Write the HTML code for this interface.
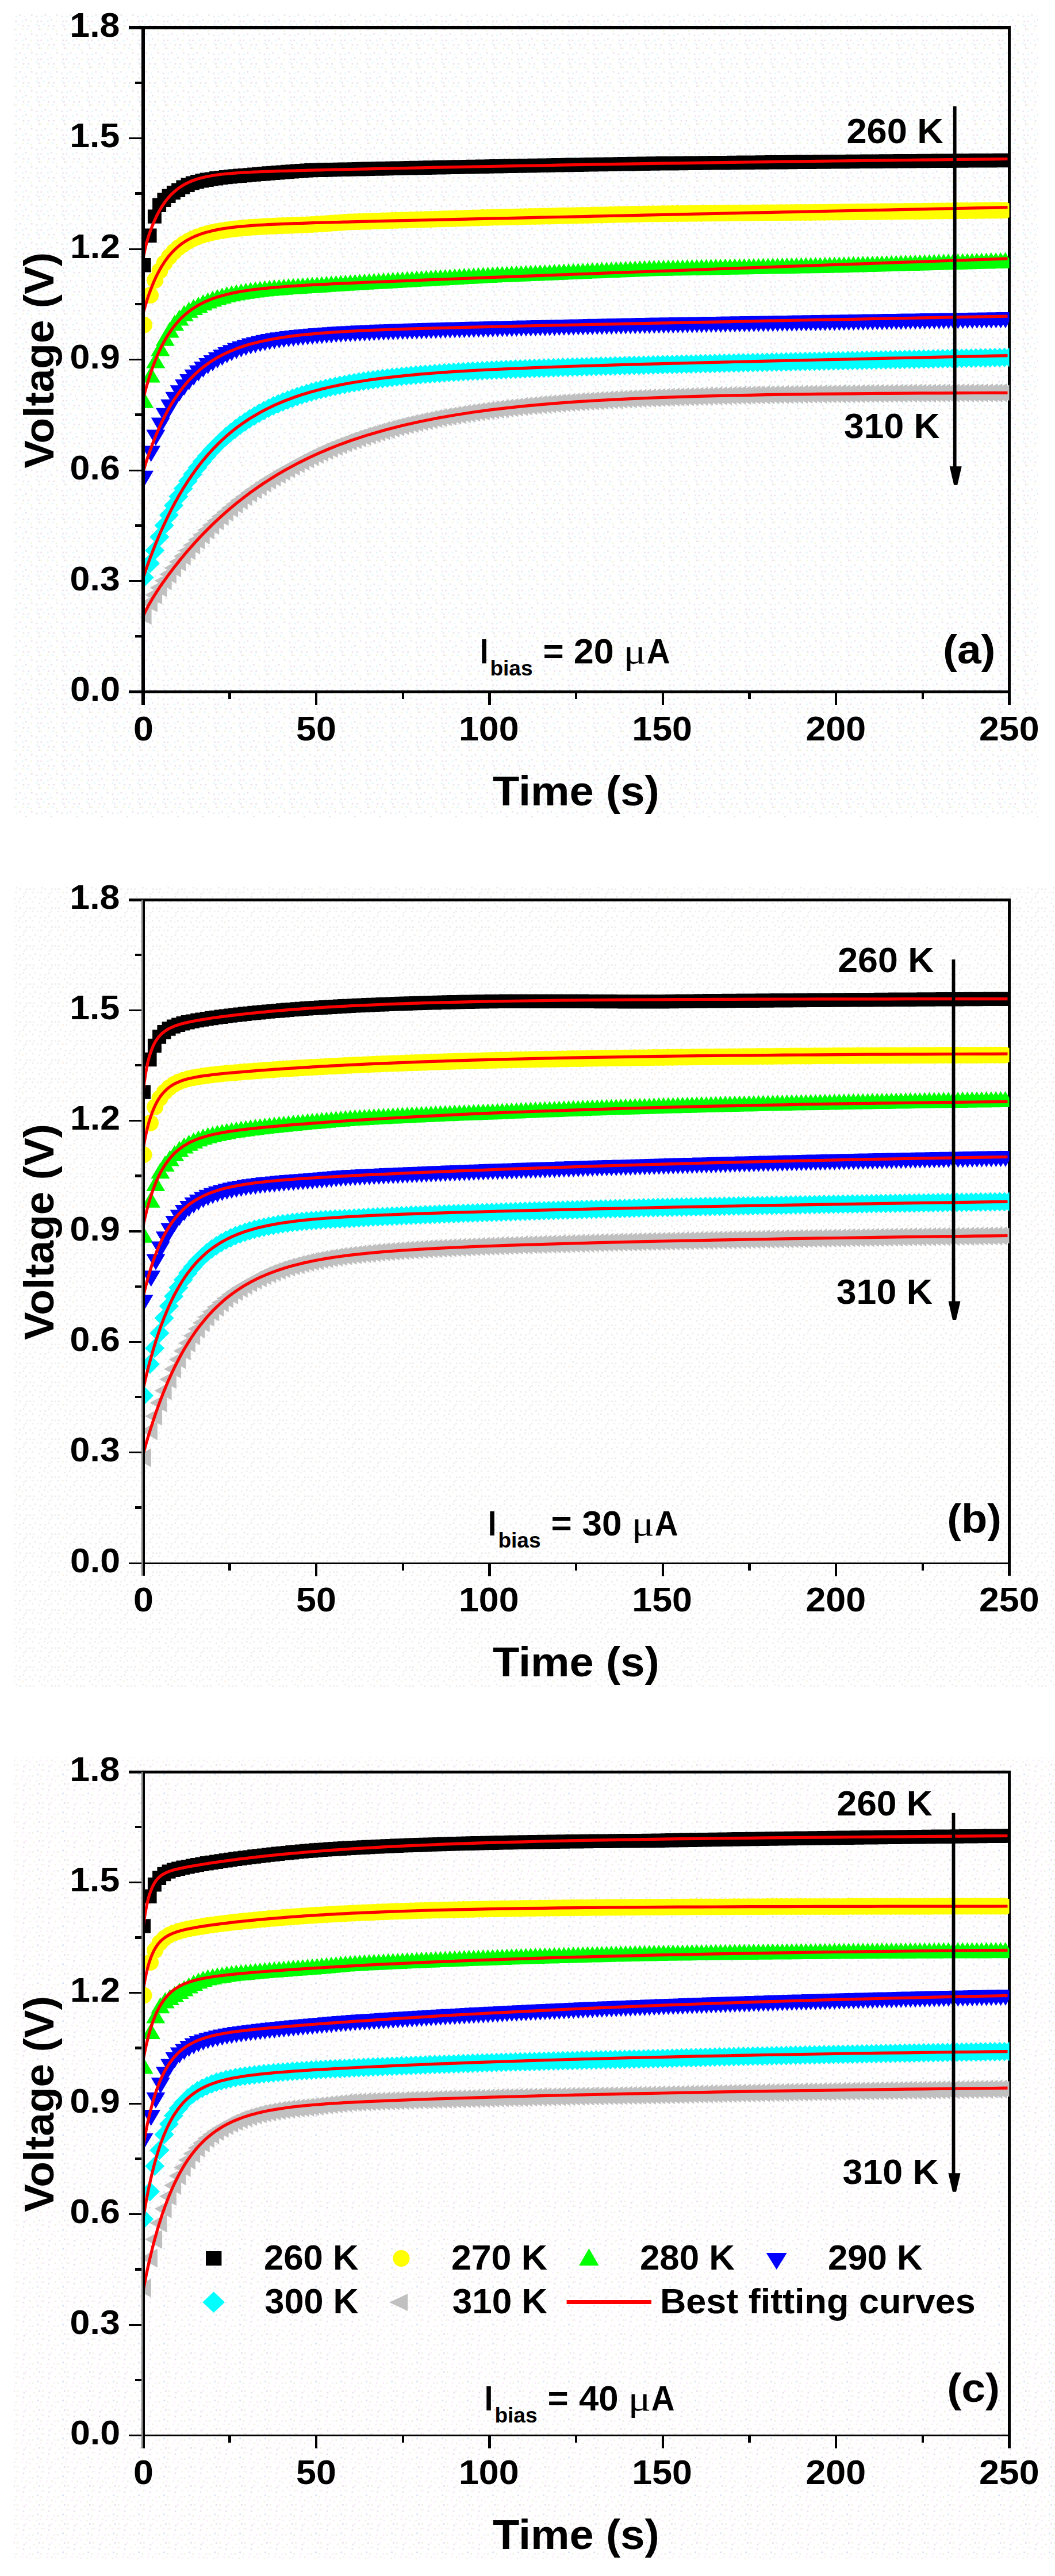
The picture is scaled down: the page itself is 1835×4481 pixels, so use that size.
<!DOCTYPE html>
<html lang="en"><head><meta charset="utf-8"><title>Voltage vs Time</title>
<style>html,body{margin:0;padding:0;background:#fff}svg{display:block}text{font-family:"Liberation Sans", Arial, Helvetica, sans-serif;font-weight:bold;fill:#000}</style></head><body>
<svg width="1835" height="4481" viewBox="0 0 1835 4481">
<defs>
<pattern id="dotsa" width="44" height="33" patternUnits="userSpaceOnUse"><rect x="0" y="0" width="2.7" height="2.7" fill="#ebe2ec"/><rect x="8.8" y="2.7" width="2.7" height="2.7" fill="#f1f8da"/><rect x="20.3" y="2.7" width="2.7" height="2.7" fill="#ebe2ec"/><rect x="26.4" y="2.7" width="2.7" height="2.7" fill="#ebe2ec"/><rect x="37.9" y="2.7" width="2.7" height="2.7" fill="#def6fa"/><rect x="4.4" y="10.9" width="2.7" height="2.7" fill="#ebe2ec"/><rect x="18.6" y="8.2" width="2.7" height="2.7" fill="#def6fa"/><rect x="22" y="10.9" width="2.7" height="2.7" fill="#ebe2ec"/><rect x="30.8" y="8.2" width="2.7" height="2.7" fill="#def6fa"/><rect x="39.6" y="10.9" width="2.7" height="2.7" fill="#ebe2ec"/><rect x="2.7" y="16.5" width="2.7" height="2.7" fill="#def6fa"/><rect x="8.8" y="19.2" width="2.7" height="2.7" fill="#f1f8da"/><rect x="23" y="16.5" width="2.7" height="2.7" fill="#ebe2ec"/><rect x="26.4" y="16.5" width="2.7" height="2.7" fill="#f1f8da"/><rect x="37.9" y="16.5" width="2.7" height="2.7" fill="#f1f8da"/><rect x="9.8" y="24.8" width="2.7" height="2.7" fill="#ebe2ec"/><rect x="18.6" y="27.4" width="2.7" height="2.7" fill="#ebe2ec"/><rect x="27.4" y="27.4" width="2.7" height="2.7" fill="#def6fa"/><rect x="33.5" y="24.8" width="2.7" height="2.7" fill="#ebe2ec"/><rect x="42.3" y="27.4" width="2.7" height="2.7" fill="#def6fa"/></pattern>
<pattern id="dotsb" width="44" height="33" patternUnits="userSpaceOnUse"><rect x="0" y="0" width="2.7" height="2.7" fill="#ececec"/><rect x="11.5" y="0" width="2.7" height="2.7" fill="#ececec"/><rect x="20.3" y="0" width="2.7" height="2.7" fill="#fbeee3"/><rect x="26.4" y="0" width="2.7" height="2.7" fill="#ececec"/><rect x="40.6" y="2.7" width="2.7" height="2.7" fill="#ececec"/><rect x="7.1" y="10.9" width="2.7" height="2.7" fill="#ececec"/><rect x="15.9" y="8.2" width="2.7" height="2.7" fill="#ececec"/><rect x="24.7" y="10.9" width="2.7" height="2.7" fill="#ececec"/><rect x="33.5" y="10.9" width="2.7" height="2.7" fill="#ececec"/><rect x="39.6" y="8.2" width="2.7" height="2.7" fill="#ececec"/><rect x="0" y="16.5" width="2.7" height="2.7" fill="#ececec"/><rect x="11.5" y="16.5" width="2.7" height="2.7" fill="#ececec"/><rect x="23" y="19.2" width="2.7" height="2.7" fill="#ececec"/><rect x="31.8" y="16.5" width="2.7" height="2.7" fill="#ececec"/><rect x="37.9" y="19.2" width="2.7" height="2.7" fill="#fbeee3"/><rect x="7.1" y="27.4" width="2.7" height="2.7" fill="#ececec"/><rect x="13.2" y="27.4" width="2.7" height="2.7" fill="#ececec"/><rect x="27.4" y="24.8" width="2.7" height="2.7" fill="#ececec"/><rect x="33.5" y="27.4" width="2.7" height="2.7" fill="#ececec"/><rect x="1" y="27.4" width="2.7" height="2.7" fill="#ececec"/></pattern>
<pattern id="dotsc" width="44" height="33" patternUnits="userSpaceOnUse"><rect x="0" y="0" width="2.7" height="2.7" fill="#fbecfa"/><rect x="14.2" y="2.7" width="2.7" height="2.7" fill="#f0f0e5"/><rect x="23" y="0" width="2.7" height="2.7" fill="#e8dfec"/><rect x="29.1" y="0" width="2.7" height="2.7" fill="#f0f0e5"/><rect x="40.6" y="2.7" width="2.7" height="2.7" fill="#e8dfec"/><rect x="7.1" y="8.2" width="2.7" height="2.7" fill="#f0f0e5"/><rect x="18.6" y="8.2" width="2.7" height="2.7" fill="#fbecfa"/><rect x="27.4" y="8.2" width="2.7" height="2.7" fill="#f0f0e5"/><rect x="30.8" y="8.2" width="2.7" height="2.7" fill="#fbecfa"/><rect x="39.6" y="10.9" width="2.7" height="2.7" fill="#e8dfec"/><rect x="5.4" y="19.2" width="2.7" height="2.7" fill="#fbecfa"/><rect x="11.5" y="19.2" width="2.7" height="2.7" fill="#f0f0e5"/><rect x="20.3" y="16.5" width="2.7" height="2.7" fill="#d6e0f5"/><rect x="26.4" y="19.2" width="2.7" height="2.7" fill="#f0f0e5"/><rect x="37.9" y="19.2" width="2.7" height="2.7" fill="#fbecfa"/><rect x="7.1" y="27.4" width="2.7" height="2.7" fill="#fbecfa"/><rect x="18.6" y="27.4" width="2.7" height="2.7" fill="#f0f0e5"/><rect x="24.7" y="24.8" width="2.7" height="2.7" fill="#fbecfa"/><rect x="36.2" y="24.8" width="2.7" height="2.7" fill="#fbecfa"/><rect x="1" y="24.8" width="2.7" height="2.7" fill="#f0f0e5"/></pattern>
<clipPath id="clipa"><rect x="248.8" y="48" width="1506.7" height="1155.5"/></clipPath>
<clipPath id="clipb"><rect x="248.8" y="1565" width="1506.7" height="1154"/></clipPath>
<clipPath id="clipc"><rect x="248.8" y="3082" width="1506.7" height="1154.5"/></clipPath>
</defs>
<rect width="1835" height="4481" fill="#ffffff"/>
<rect x="24" y="24" width="1781" height="1398" fill="url(#dotsa)"/>
<rect x="24" y="1539" width="1811" height="1398" fill="url(#dotsb)"/>
<rect x="24" y="3057" width="1811" height="1394" fill="url(#dotsc)"/>
<g id="panel-a">
<g stroke="#000" fill="none" shape-rendering="crispEdges">
<path stroke-width="6" d="M223.8 48H1757.7"/>
<path stroke-width="4.5" d="M223.8 1203.5H1757.7"/>
<path stroke-width="5.4" d="M248.8 48V1225.5"/>
<path stroke-width="4.4" d="M1755.5 48V1225.5"/>
<path stroke-width="3.1" d="M223.8 1010.9H247M223.8 818.3H247M223.8 625.8H247M223.8 433.2H247M223.8 240.6H247"/>
<path stroke-width="4.6" d="M235 1106.8H247M235 914.2H247M235 721.6H247M235 529.1H247M235 336.5H247M235 143.9H247"/>
<path stroke-width="4.3" d="M399.5 1203.5V1216M550.1 1203.5V1226M700.8 1203.5V1216M851.5 1203.5V1226M1002.2 1203.5V1216M1152.8 1203.5V1226M1303.5 1203.5V1216M1454.2 1203.5V1226M1604.8 1203.5V1216"/>
</g>
<g clip-path="url(#clipa)">
<path fill="#000000" d="M238.6 449h24v24.4h-24zM248.6 397.5h24v24.4h-24zM256.9 364.4h24v24.4h-24zM265.1 344.6h24v24.4h-24zM273.4 335.5h24v24.4h-24zM281.6 328.7h24v24.4h-24zM289.9 322.9h24v24.4h-24zM298.2 318.6h24v24.4h-24zM306.4 313.5h24v24.4h-24zM314.7 309.5h24v24.4h-24zM322.9 306.4h24v24.4h-24zM331.2 304h24v24.4h-24zM339.4 302.1h24v24.4h-24zM347.7 300.6h24v24.4h-24zM355.9 299.4h24v24.4h-24zM364.2 298.1h24v24.4h-24zM372.5 296.9h24v24.4h-24zM380.7 295.9h24v24.4h-24zM389 295h24v24.4h-24zM397.2 294.2h24v24.4h-24zM405.5 293.5h24v24.4h-24zM413.7 292.9h24v24.4h-24zM422 292.2h24v24.4h-24zM430.3 291.4h24v24.4h-24zM438.5 290.7h24v24.4h-24zM446.8 290h24v24.4h-24zM455 289.3h24v24.4h-24zM463.3 288.7h24v24.4h-24zM471.5 288h24v24.4h-24zM479.8 287.4h24v24.4h-24zM488.1 286.8h24v24.4h-24zM496.3 286.2h24v24.4h-24zM504.6 285.6h24v24.4h-24zM512.8 285h24v24.4h-24zM521.1 284.4h24v24.4h-24zM529.3 283.9h24v24.4h-24zM537.6 283.7h24v24.4h-24zM545.9 283.5h24v24.4h-24zM554.1 283.3h24v24.4h-24zM562.4 283.1h24v24.4h-24zM570.6 282.9h24v24.4h-24zM578.9 282.7h24v24.4h-24zM587.1 282.6h24v24.4h-24zM595.4 282.4h24v24.4h-24zM603.7 282.2h24v24.4h-24zM611.9 282h24v24.4h-24zM620.2 281.8h24v24.4h-24zM628.4 281.6h24v24.4h-24zM636.7 281.4h24v24.4h-24zM644.9 281.3h24v24.4h-24zM653.2 281.1h24v24.4h-24zM661.4 280.9h24v24.4h-24zM669.7 280.7h24v24.4h-24zM678 280.5h24v24.4h-24zM686.2 280.4h24v24.4h-24zM694.5 280.2h24v24.4h-24zM702.7 280h24v24.4h-24zM711 279.8h24v24.4h-24zM719.2 279.7h24v24.4h-24zM727.5 279.5h24v24.4h-24zM735.8 279.3h24v24.4h-24zM744 279.2h24v24.4h-24zM752.3 279h24v24.4h-24zM760.5 278.8h24v24.4h-24zM768.8 278.7h24v24.4h-24zM777 278.5h24v24.4h-24zM785.3 278.3h24v24.4h-24zM793.6 278.2h24v24.4h-24zM801.8 278h24v24.4h-24zM810.1 277.8h24v24.4h-24zM818.3 277.7h24v24.4h-24zM826.6 277.5h24v24.4h-24zM834.8 277.4h24v24.4h-24zM843.1 277.2h24v24.4h-24zM851.4 277h24v24.4h-24zM859.6 276.9h24v24.4h-24zM867.9 276.7h24v24.4h-24zM876.1 276.6h24v24.4h-24zM884.4 276.4h24v24.4h-24zM892.6 276.3h24v24.4h-24zM900.9 276.1h24v24.4h-24zM909.1 276h24v24.4h-24zM917.4 275.8h24v24.4h-24zM925.7 275.7h24v24.4h-24zM933.9 275.5h24v24.4h-24zM942.2 275.4h24v24.4h-24zM950.4 275.2h24v24.4h-24zM958.7 275.1h24v24.4h-24zM966.9 274.9h24v24.4h-24zM975.2 274.8h24v24.4h-24zM983.5 274.6h24v24.4h-24zM991.7 274.5h24v24.4h-24zM1000 274.4h24v24.4h-24zM1008.2 274.2h24v24.4h-24zM1016.5 274.1h24v24.4h-24zM1024.7 273.9h24v24.4h-24zM1033 273.8h24v24.4h-24zM1041.3 273.7h24v24.4h-24zM1049.5 273.5h24v24.4h-24zM1057.8 273.4h24v24.4h-24zM1066 273.2h24v24.4h-24zM1074.3 273.1h24v24.4h-24zM1082.5 273h24v24.4h-24zM1090.8 272.8h24v24.4h-24zM1099.1 272.7h24v24.4h-24zM1107.3 272.6h24v24.4h-24zM1115.6 272.4h24v24.4h-24zM1123.8 272.3h24v24.4h-24zM1132.1 272.2h24v24.4h-24zM1140.3 272.1h24v24.4h-24zM1148.6 272.1h24v24.4h-24zM1156.9 272h24v24.4h-24zM1165.1 271.9h24v24.4h-24zM1173.4 271.8h24v24.4h-24zM1181.6 271.7h24v24.4h-24zM1189.9 271.6h24v24.4h-24zM1198.1 271.5h24v24.4h-24zM1206.4 271.4h24v24.4h-24zM1214.6 271.3h24v24.4h-24zM1222.9 271.2h24v24.4h-24zM1231.2 271.1h24v24.4h-24zM1239.4 271h24v24.4h-24zM1247.7 271h24v24.4h-24zM1255.9 270.9h24v24.4h-24zM1264.2 270.8h24v24.4h-24zM1272.4 270.7h24v24.4h-24zM1280.7 270.6h24v24.4h-24zM1289 270.5h24v24.4h-24zM1297.2 270.4h24v24.4h-24zM1305.5 270.4h24v24.4h-24zM1313.7 270.3h24v24.4h-24zM1322 270.2h24v24.4h-24zM1330.2 270.1h24v24.4h-24zM1338.5 270h24v24.4h-24zM1346.8 270h24v24.4h-24zM1355 269.9h24v24.4h-24zM1363.3 269.8h24v24.4h-24zM1371.5 269.7h24v24.4h-24zM1379.8 269.6h24v24.4h-24zM1388 269.6h24v24.4h-24zM1396.3 269.5h24v24.4h-24zM1404.6 269.4h24v24.4h-24zM1412.8 269.3h24v24.4h-24zM1421.1 269.3h24v24.4h-24zM1429.3 269.2h24v24.4h-24zM1437.6 269.1h24v24.4h-24zM1445.8 269h24v24.4h-24zM1454.1 269h24v24.4h-24zM1462.3 268.9h24v24.4h-24zM1470.6 268.8h24v24.4h-24zM1478.9 268.7h24v24.4h-24zM1487.1 268.7h24v24.4h-24zM1495.4 268.6h24v24.4h-24zM1503.6 268.5h24v24.4h-24zM1511.9 268.5h24v24.4h-24zM1520.1 268.4h24v24.4h-24zM1528.4 268.3h24v24.4h-24zM1536.7 268.3h24v24.4h-24zM1544.9 268.2h24v24.4h-24zM1553.2 268.1h24v24.4h-24zM1561.4 268.1h24v24.4h-24zM1569.7 268h24v24.4h-24zM1577.9 267.9h24v24.4h-24zM1586.2 267.9h24v24.4h-24zM1594.5 267.8h24v24.4h-24zM1602.7 267.7h24v24.4h-24zM1611 267.7h24v24.4h-24zM1619.2 267.6h24v24.4h-24zM1627.5 267.6h24v24.4h-24zM1635.7 267.5h24v24.4h-24zM1644 267.4h24v24.4h-24zM1652.3 267.4h24v24.4h-24zM1660.5 267.3h24v24.4h-24zM1668.8 267.2h24v24.4h-24zM1677 267.2h24v24.4h-24zM1685.3 267.1h24v24.4h-24zM1693.5 267.1h24v24.4h-24zM1701.8 267h24v24.4h-24zM1710.1 267h24v24.4h-24zM1718.3 266.9h24v24.4h-24zM1726.6 266.8h24v24.4h-24zM1734.8 266.8h24v24.4h-24zM1743.1 266.7h24v24.4h-24z"/>
<path fill="#ffff00" d="M236.1 565.2a14.5 14.5 0 1 0 29 0a14.5 14.5 0 1 0 -29 0zM247 513.5a14.5 14.5 0 1 0 29 0a14.5 14.5 0 1 0 -29 0zM255.2 487.5a14.5 14.5 0 1 0 29 0a14.5 14.5 0 1 0 -29 0zM263.5 471a14.5 14.5 0 1 0 29 0a14.5 14.5 0 1 0 -29 0zM271.7 457.6a14.5 14.5 0 1 0 29 0a14.5 14.5 0 1 0 -29 0zM280 446.7a14.5 14.5 0 1 0 29 0a14.5 14.5 0 1 0 -29 0zM288.2 437.8a14.5 14.5 0 1 0 29 0a14.5 14.5 0 1 0 -29 0zM296.5 430.4a14.5 14.5 0 1 0 29 0a14.5 14.5 0 1 0 -29 0zM304.8 424.4a14.5 14.5 0 1 0 29 0a14.5 14.5 0 1 0 -29 0zM313 419.4a14.5 14.5 0 1 0 29 0a14.5 14.5 0 1 0 -29 0zM321.3 415.2a14.5 14.5 0 1 0 29 0a14.5 14.5 0 1 0 -29 0zM329.5 411.8a14.5 14.5 0 1 0 29 0a14.5 14.5 0 1 0 -29 0zM337.8 408.9a14.5 14.5 0 1 0 29 0a14.5 14.5 0 1 0 -29 0zM346 406.5a14.5 14.5 0 1 0 29 0a14.5 14.5 0 1 0 -29 0zM354.3 404.5a14.5 14.5 0 1 0 29 0a14.5 14.5 0 1 0 -29 0zM362.6 402.8a14.5 14.5 0 1 0 29 0a14.5 14.5 0 1 0 -29 0zM370.8 401.2a14.5 14.5 0 1 0 29 0a14.5 14.5 0 1 0 -29 0zM379.1 400a14.5 14.5 0 1 0 29 0a14.5 14.5 0 1 0 -29 0zM387.3 398.8a14.5 14.5 0 1 0 29 0a14.5 14.5 0 1 0 -29 0zM395.6 397.9a14.5 14.5 0 1 0 29 0a14.5 14.5 0 1 0 -29 0zM403.8 397a14.5 14.5 0 1 0 29 0a14.5 14.5 0 1 0 -29 0zM412.1 396.3a14.5 14.5 0 1 0 29 0a14.5 14.5 0 1 0 -29 0zM420.3 395.6a14.5 14.5 0 1 0 29 0a14.5 14.5 0 1 0 -29 0zM428.6 395a14.5 14.5 0 1 0 29 0a14.5 14.5 0 1 0 -29 0zM436.9 394.5a14.5 14.5 0 1 0 29 0a14.5 14.5 0 1 0 -29 0zM445.1 394a14.5 14.5 0 1 0 29 0a14.5 14.5 0 1 0 -29 0zM453.4 393.6a14.5 14.5 0 1 0 29 0a14.5 14.5 0 1 0 -29 0zM461.6 393.2a14.5 14.5 0 1 0 29 0a14.5 14.5 0 1 0 -29 0zM469.9 392.8a14.5 14.5 0 1 0 29 0a14.5 14.5 0 1 0 -29 0zM478.1 392.5a14.5 14.5 0 1 0 29 0a14.5 14.5 0 1 0 -29 0zM486.4 392.2a14.5 14.5 0 1 0 29 0a14.5 14.5 0 1 0 -29 0zM494.7 391.9a14.5 14.5 0 1 0 29 0a14.5 14.5 0 1 0 -29 0zM502.9 391.6a14.5 14.5 0 1 0 29 0a14.5 14.5 0 1 0 -29 0zM511.2 391.3a14.5 14.5 0 1 0 29 0a14.5 14.5 0 1 0 -29 0zM519.4 391a14.5 14.5 0 1 0 29 0a14.5 14.5 0 1 0 -29 0zM527.7 390.6a14.5 14.5 0 1 0 29 0a14.5 14.5 0 1 0 -29 0zM535.9 390a14.5 14.5 0 1 0 29 0a14.5 14.5 0 1 0 -29 0zM544.2 389.4a14.5 14.5 0 1 0 29 0a14.5 14.5 0 1 0 -29 0zM552.5 388.9a14.5 14.5 0 1 0 29 0a14.5 14.5 0 1 0 -29 0zM560.7 388.3a14.5 14.5 0 1 0 29 0a14.5 14.5 0 1 0 -29 0zM569 387.7a14.5 14.5 0 1 0 29 0a14.5 14.5 0 1 0 -29 0zM577.2 387.2a14.5 14.5 0 1 0 29 0a14.5 14.5 0 1 0 -29 0zM585.5 386.6a14.5 14.5 0 1 0 29 0a14.5 14.5 0 1 0 -29 0zM593.7 386.1a14.5 14.5 0 1 0 29 0a14.5 14.5 0 1 0 -29 0zM602 385.7a14.5 14.5 0 1 0 29 0a14.5 14.5 0 1 0 -29 0zM610.3 385.4a14.5 14.5 0 1 0 29 0a14.5 14.5 0 1 0 -29 0zM618.5 385.2a14.5 14.5 0 1 0 29 0a14.5 14.5 0 1 0 -29 0zM626.8 384.9a14.5 14.5 0 1 0 29 0a14.5 14.5 0 1 0 -29 0zM635 384.6a14.5 14.5 0 1 0 29 0a14.5 14.5 0 1 0 -29 0zM643.3 384.4a14.5 14.5 0 1 0 29 0a14.5 14.5 0 1 0 -29 0zM651.5 384.1a14.5 14.5 0 1 0 29 0a14.5 14.5 0 1 0 -29 0zM659.8 383.8a14.5 14.5 0 1 0 29 0a14.5 14.5 0 1 0 -29 0zM668 383.6a14.5 14.5 0 1 0 29 0a14.5 14.5 0 1 0 -29 0zM676.3 383.3a14.5 14.5 0 1 0 29 0a14.5 14.5 0 1 0 -29 0zM684.6 383a14.5 14.5 0 1 0 29 0a14.5 14.5 0 1 0 -29 0zM692.8 382.8a14.5 14.5 0 1 0 29 0a14.5 14.5 0 1 0 -29 0zM701.1 382.5a14.5 14.5 0 1 0 29 0a14.5 14.5 0 1 0 -29 0zM709.3 382.2a14.5 14.5 0 1 0 29 0a14.5 14.5 0 1 0 -29 0zM717.6 382a14.5 14.5 0 1 0 29 0a14.5 14.5 0 1 0 -29 0zM725.8 381.7a14.5 14.5 0 1 0 29 0a14.5 14.5 0 1 0 -29 0zM734.1 381.5a14.5 14.5 0 1 0 29 0a14.5 14.5 0 1 0 -29 0zM742.4 381.2a14.5 14.5 0 1 0 29 0a14.5 14.5 0 1 0 -29 0zM750.6 380.9a14.5 14.5 0 1 0 29 0a14.5 14.5 0 1 0 -29 0zM758.9 380.7a14.5 14.5 0 1 0 29 0a14.5 14.5 0 1 0 -29 0zM767.1 380.4a14.5 14.5 0 1 0 29 0a14.5 14.5 0 1 0 -29 0zM775.4 380.2a14.5 14.5 0 1 0 29 0a14.5 14.5 0 1 0 -29 0zM783.6 379.9a14.5 14.5 0 1 0 29 0a14.5 14.5 0 1 0 -29 0zM791.9 379.7a14.5 14.5 0 1 0 29 0a14.5 14.5 0 1 0 -29 0zM800.2 379.4a14.5 14.5 0 1 0 29 0a14.5 14.5 0 1 0 -29 0zM808.4 379.1a14.5 14.5 0 1 0 29 0a14.5 14.5 0 1 0 -29 0zM816.7 378.9a14.5 14.5 0 1 0 29 0a14.5 14.5 0 1 0 -29 0zM824.9 378.6a14.5 14.5 0 1 0 29 0a14.5 14.5 0 1 0 -29 0zM833.2 378.4a14.5 14.5 0 1 0 29 0a14.5 14.5 0 1 0 -29 0zM841.4 378.1a14.5 14.5 0 1 0 29 0a14.5 14.5 0 1 0 -29 0zM849.7 378a14.5 14.5 0 1 0 29 0a14.5 14.5 0 1 0 -29 0zM858 377.8a14.5 14.5 0 1 0 29 0a14.5 14.5 0 1 0 -29 0zM866.2 377.6a14.5 14.5 0 1 0 29 0a14.5 14.5 0 1 0 -29 0zM874.5 377.4a14.5 14.5 0 1 0 29 0a14.5 14.5 0 1 0 -29 0zM882.7 377.2a14.5 14.5 0 1 0 29 0a14.5 14.5 0 1 0 -29 0zM891 377a14.5 14.5 0 1 0 29 0a14.5 14.5 0 1 0 -29 0zM899.2 376.8a14.5 14.5 0 1 0 29 0a14.5 14.5 0 1 0 -29 0zM907.5 376.6a14.5 14.5 0 1 0 29 0a14.5 14.5 0 1 0 -29 0zM915.8 376.5a14.5 14.5 0 1 0 29 0a14.5 14.5 0 1 0 -29 0zM924 376.3a14.5 14.5 0 1 0 29 0a14.5 14.5 0 1 0 -29 0zM932.3 376.1a14.5 14.5 0 1 0 29 0a14.5 14.5 0 1 0 -29 0zM940.5 375.9a14.5 14.5 0 1 0 29 0a14.5 14.5 0 1 0 -29 0zM948.8 375.7a14.5 14.5 0 1 0 29 0a14.5 14.5 0 1 0 -29 0zM957 375.5a14.5 14.5 0 1 0 29 0a14.5 14.5 0 1 0 -29 0zM965.3 375.3a14.5 14.5 0 1 0 29 0a14.5 14.5 0 1 0 -29 0zM973.5 375.2a14.5 14.5 0 1 0 29 0a14.5 14.5 0 1 0 -29 0zM981.8 375a14.5 14.5 0 1 0 29 0a14.5 14.5 0 1 0 -29 0zM990.1 374.8a14.5 14.5 0 1 0 29 0a14.5 14.5 0 1 0 -29 0zM998.3 374.6a14.5 14.5 0 1 0 29 0a14.5 14.5 0 1 0 -29 0zM1006.6 374.4a14.5 14.5 0 1 0 29 0a14.5 14.5 0 1 0 -29 0zM1014.8 374.2a14.5 14.5 0 1 0 29 0a14.5 14.5 0 1 0 -29 0zM1023.1 374.1a14.5 14.5 0 1 0 29 0a14.5 14.5 0 1 0 -29 0zM1031.3 373.9a14.5 14.5 0 1 0 29 0a14.5 14.5 0 1 0 -29 0zM1039.6 373.7a14.5 14.5 0 1 0 29 0a14.5 14.5 0 1 0 -29 0zM1047.9 373.5a14.5 14.5 0 1 0 29 0a14.5 14.5 0 1 0 -29 0zM1056.1 373.3a14.5 14.5 0 1 0 29 0a14.5 14.5 0 1 0 -29 0zM1064.4 373.1a14.5 14.5 0 1 0 29 0a14.5 14.5 0 1 0 -29 0zM1072.6 373a14.5 14.5 0 1 0 29 0a14.5 14.5 0 1 0 -29 0zM1080.9 372.8a14.5 14.5 0 1 0 29 0a14.5 14.5 0 1 0 -29 0zM1089.1 372.6a14.5 14.5 0 1 0 29 0a14.5 14.5 0 1 0 -29 0zM1097.4 372.4a14.5 14.5 0 1 0 29 0a14.5 14.5 0 1 0 -29 0zM1105.7 372.2a14.5 14.5 0 1 0 29 0a14.5 14.5 0 1 0 -29 0zM1113.9 372a14.5 14.5 0 1 0 29 0a14.5 14.5 0 1 0 -29 0zM1122.2 372a14.5 14.5 0 1 0 29 0a14.5 14.5 0 1 0 -29 0zM1130.4 371.9a14.5 14.5 0 1 0 29 0a14.5 14.5 0 1 0 -29 0zM1138.7 371.8a14.5 14.5 0 1 0 29 0a14.5 14.5 0 1 0 -29 0zM1146.9 371.7a14.5 14.5 0 1 0 29 0a14.5 14.5 0 1 0 -29 0zM1155.2 371.6a14.5 14.5 0 1 0 29 0a14.5 14.5 0 1 0 -29 0zM1163.5 371.6a14.5 14.5 0 1 0 29 0a14.5 14.5 0 1 0 -29 0zM1171.7 371.5a14.5 14.5 0 1 0 29 0a14.5 14.5 0 1 0 -29 0zM1180 371.4a14.5 14.5 0 1 0 29 0a14.5 14.5 0 1 0 -29 0zM1188.2 371.3a14.5 14.5 0 1 0 29 0a14.5 14.5 0 1 0 -29 0zM1196.5 371.2a14.5 14.5 0 1 0 29 0a14.5 14.5 0 1 0 -29 0zM1204.7 371.2a14.5 14.5 0 1 0 29 0a14.5 14.5 0 1 0 -29 0zM1213 371.1a14.5 14.5 0 1 0 29 0a14.5 14.5 0 1 0 -29 0zM1221.2 371a14.5 14.5 0 1 0 29 0a14.5 14.5 0 1 0 -29 0zM1229.5 370.9a14.5 14.5 0 1 0 29 0a14.5 14.5 0 1 0 -29 0zM1237.8 370.8a14.5 14.5 0 1 0 29 0a14.5 14.5 0 1 0 -29 0zM1246 370.8a14.5 14.5 0 1 0 29 0a14.5 14.5 0 1 0 -29 0zM1254.3 370.7a14.5 14.5 0 1 0 29 0a14.5 14.5 0 1 0 -29 0zM1262.5 370.6a14.5 14.5 0 1 0 29 0a14.5 14.5 0 1 0 -29 0zM1270.8 370.5a14.5 14.5 0 1 0 29 0a14.5 14.5 0 1 0 -29 0zM1279 370.5a14.5 14.5 0 1 0 29 0a14.5 14.5 0 1 0 -29 0zM1287.3 370.4a14.5 14.5 0 1 0 29 0a14.5 14.5 0 1 0 -29 0zM1295.6 370.3a14.5 14.5 0 1 0 29 0a14.5 14.5 0 1 0 -29 0zM1303.8 370.2a14.5 14.5 0 1 0 29 0a14.5 14.5 0 1 0 -29 0zM1312.1 370.1a14.5 14.5 0 1 0 29 0a14.5 14.5 0 1 0 -29 0zM1320.3 370.1a14.5 14.5 0 1 0 29 0a14.5 14.5 0 1 0 -29 0zM1328.6 370a14.5 14.5 0 1 0 29 0a14.5 14.5 0 1 0 -29 0zM1336.8 369.9a14.5 14.5 0 1 0 29 0a14.5 14.5 0 1 0 -29 0zM1345.1 369.8a14.5 14.5 0 1 0 29 0a14.5 14.5 0 1 0 -29 0zM1353.4 369.8a14.5 14.5 0 1 0 29 0a14.5 14.5 0 1 0 -29 0zM1361.6 369.7a14.5 14.5 0 1 0 29 0a14.5 14.5 0 1 0 -29 0zM1369.9 369.6a14.5 14.5 0 1 0 29 0a14.5 14.5 0 1 0 -29 0zM1378.1 369.5a14.5 14.5 0 1 0 29 0a14.5 14.5 0 1 0 -29 0zM1386.4 369.5a14.5 14.5 0 1 0 29 0a14.5 14.5 0 1 0 -29 0zM1394.6 369.4a14.5 14.5 0 1 0 29 0a14.5 14.5 0 1 0 -29 0zM1402.9 369.3a14.5 14.5 0 1 0 29 0a14.5 14.5 0 1 0 -29 0zM1411.2 369.2a14.5 14.5 0 1 0 29 0a14.5 14.5 0 1 0 -29 0zM1419.4 369.2a14.5 14.5 0 1 0 29 0a14.5 14.5 0 1 0 -29 0zM1427.7 369.1a14.5 14.5 0 1 0 29 0a14.5 14.5 0 1 0 -29 0zM1435.9 369a14.5 14.5 0 1 0 29 0a14.5 14.5 0 1 0 -29 0zM1444.2 368.9a14.5 14.5 0 1 0 29 0a14.5 14.5 0 1 0 -29 0zM1452.4 368.8a14.5 14.5 0 1 0 29 0a14.5 14.5 0 1 0 -29 0zM1460.7 368.7a14.5 14.5 0 1 0 29 0a14.5 14.5 0 1 0 -29 0zM1469 368.7a14.5 14.5 0 1 0 29 0a14.5 14.5 0 1 0 -29 0zM1477.2 368.6a14.5 14.5 0 1 0 29 0a14.5 14.5 0 1 0 -29 0zM1485.5 368.5a14.5 14.5 0 1 0 29 0a14.5 14.5 0 1 0 -29 0zM1493.7 368.4a14.5 14.5 0 1 0 29 0a14.5 14.5 0 1 0 -29 0zM1502 368.3a14.5 14.5 0 1 0 29 0a14.5 14.5 0 1 0 -29 0zM1510.2 368.2a14.5 14.5 0 1 0 29 0a14.5 14.5 0 1 0 -29 0zM1518.5 368.1a14.5 14.5 0 1 0 29 0a14.5 14.5 0 1 0 -29 0zM1526.7 368a14.5 14.5 0 1 0 29 0a14.5 14.5 0 1 0 -29 0zM1535 367.9a14.5 14.5 0 1 0 29 0a14.5 14.5 0 1 0 -29 0zM1543.3 367.8a14.5 14.5 0 1 0 29 0a14.5 14.5 0 1 0 -29 0zM1551.5 367.7a14.5 14.5 0 1 0 29 0a14.5 14.5 0 1 0 -29 0zM1559.8 367.6a14.5 14.5 0 1 0 29 0a14.5 14.5 0 1 0 -29 0zM1568 367.5a14.5 14.5 0 1 0 29 0a14.5 14.5 0 1 0 -29 0zM1576.3 367.5a14.5 14.5 0 1 0 29 0a14.5 14.5 0 1 0 -29 0zM1584.5 367.4a14.5 14.5 0 1 0 29 0a14.5 14.5 0 1 0 -29 0zM1592.8 367.3a14.5 14.5 0 1 0 29 0a14.5 14.5 0 1 0 -29 0zM1601.1 367.2a14.5 14.5 0 1 0 29 0a14.5 14.5 0 1 0 -29 0zM1609.3 367.1a14.5 14.5 0 1 0 29 0a14.5 14.5 0 1 0 -29 0zM1617.6 367a14.5 14.5 0 1 0 29 0a14.5 14.5 0 1 0 -29 0zM1625.8 366.9a14.5 14.5 0 1 0 29 0a14.5 14.5 0 1 0 -29 0zM1634.1 366.8a14.5 14.5 0 1 0 29 0a14.5 14.5 0 1 0 -29 0zM1642.3 366.7a14.5 14.5 0 1 0 29 0a14.5 14.5 0 1 0 -29 0zM1650.6 366.6a14.5 14.5 0 1 0 29 0a14.5 14.5 0 1 0 -29 0zM1658.9 366.6a14.5 14.5 0 1 0 29 0a14.5 14.5 0 1 0 -29 0zM1667.1 366.5a14.5 14.5 0 1 0 29 0a14.5 14.5 0 1 0 -29 0zM1675.4 366.4a14.5 14.5 0 1 0 29 0a14.5 14.5 0 1 0 -29 0zM1683.6 366.3a14.5 14.5 0 1 0 29 0a14.5 14.5 0 1 0 -29 0zM1691.9 366.2a14.5 14.5 0 1 0 29 0a14.5 14.5 0 1 0 -29 0zM1700.1 366.1a14.5 14.5 0 1 0 29 0a14.5 14.5 0 1 0 -29 0zM1708.4 366a14.5 14.5 0 1 0 29 0a14.5 14.5 0 1 0 -29 0zM1716.7 365.9a14.5 14.5 0 1 0 29 0a14.5 14.5 0 1 0 -29 0zM1724.9 365.8a14.5 14.5 0 1 0 29 0a14.5 14.5 0 1 0 -29 0zM1733.2 365.8a14.5 14.5 0 1 0 29 0a14.5 14.5 0 1 0 -29 0z"/>
<path fill="#00ff00" d="M250.6 681.8l16.5 28h-33zM262.4 637.6l16.5 28h-33zM270.7 612.5l16.5 28h-33zM278.9 591.4l16.5 28h-33zM287.2 573.7l16.5 28h-33zM295.4 559.5l16.5 28h-33zM303.7 547.5l16.5 28h-33zM312 538.4l16.5 28h-33zM320.2 530.8l16.5 28h-33zM328.5 524.8l16.5 28h-33zM336.7 520l16.5 28h-33zM345 515.9l16.5 28h-33zM353.2 511.9l16.5 28h-33zM361.5 508.5l16.5 28h-33zM369.8 505.6l16.5 28h-33zM378 502.7l16.5 28h-33zM386.3 500.3l16.5 28h-33zM394.5 498.1l16.5 28h-33zM402.8 496.2l16.5 28h-33zM411 494.5l16.5 28h-33zM419.3 493l16.5 28h-33zM427.6 491.7l16.5 28h-33zM435.8 490.5l16.5 28h-33zM444.1 489.4l16.5 28h-33zM452.3 488.5l16.5 28h-33zM460.6 487.6l16.5 28h-33zM468.8 486.8l16.5 28h-33zM477.1 486l16.5 28h-33zM485.4 485.4l16.5 28h-33zM493.6 484.7l16.5 28h-33zM501.9 484.1l16.5 28h-33zM510.1 483.6l16.5 28h-33zM518.4 483l16.5 28h-33zM526.6 482.5l16.5 28h-33zM534.9 482l16.5 28h-33zM543.1 481.5l16.5 28h-33zM551.4 480.9l16.5 28h-33zM559.7 480.4l16.5 28h-33zM567.9 479.8l16.5 28h-33zM576.2 479.3l16.5 28h-33zM584.4 478.8l16.5 28h-33zM592.7 478.3l16.5 28h-33zM600.9 477.8l16.5 28h-33zM609.2 477.3l16.5 28h-33zM617.5 476.8l16.5 28h-33zM625.7 476.3l16.5 28h-33zM634 475.8l16.5 28h-33zM642.2 475.3l16.5 28h-33zM650.5 474.8l16.5 28h-33zM658.7 474.4l16.5 28h-33zM667 473.9l16.5 28h-33zM675.3 473.4l16.5 28h-33zM683.5 473l16.5 28h-33zM691.8 472.5l16.5 28h-33zM700 472l16.5 28h-33zM708.3 471.6l16.5 28h-33zM716.5 471.1l16.5 28h-33zM724.8 470.6l16.5 28h-33zM733.1 470.2l16.5 28h-33zM741.3 469.7l16.5 28h-33zM749.6 469.3l16.5 28h-33zM757.8 468.8l16.5 28h-33zM766.1 468.4l16.5 28h-33zM774.3 467.9l16.5 28h-33zM782.6 467.5l16.5 28h-33zM790.9 467l16.5 28h-33zM799.1 466.6l16.5 28h-33zM807.4 466.1l16.5 28h-33zM815.6 465.7l16.5 28h-33zM823.9 465.2l16.5 28h-33zM832.1 464.8l16.5 28h-33zM840.4 464.3l16.5 28h-33zM848.6 463.9l16.5 28h-33zM856.9 463.5l16.5 28h-33zM865.2 463.1l16.5 28h-33zM873.4 462.8l16.5 28h-33zM881.7 462.4l16.5 28h-33zM889.9 462.1l16.5 28h-33zM898.2 461.8l16.5 28h-33zM906.4 461.4l16.5 28h-33zM914.7 461.1l16.5 28h-33zM923 460.7l16.5 28h-33zM931.2 460.4l16.5 28h-33zM939.5 460l16.5 28h-33zM947.7 459.7l16.5 28h-33zM956 459.4l16.5 28h-33zM964.2 459l16.5 28h-33zM972.5 458.7l16.5 28h-33zM980.8 458.3l16.5 28h-33zM989 458l16.5 28h-33zM997.3 457.7l16.5 28h-33zM1005.5 457.3l16.5 28h-33zM1013.8 457l16.5 28h-33zM1022 456.6l16.5 28h-33zM1030.3 456.3l16.5 28h-33zM1038.6 456l16.5 28h-33zM1046.8 455.6l16.5 28h-33zM1055.1 455.3l16.5 28h-33zM1063.3 454.9l16.5 28h-33zM1071.6 454.6l16.5 28h-33zM1079.8 454.3l16.5 28h-33zM1088.1 453.9l16.5 28h-33zM1096.3 453.6l16.5 28h-33zM1104.6 453.2l16.5 28h-33zM1112.9 452.9l16.5 28h-33zM1121.1 452.6l16.5 28h-33zM1129.4 452.3l16.5 28h-33zM1137.6 452.1l16.5 28h-33zM1145.9 451.9l16.5 28h-33zM1154.1 451.8l16.5 28h-33zM1162.4 451.6l16.5 28h-33zM1170.7 451.5l16.5 28h-33zM1178.9 451.3l16.5 28h-33zM1187.2 451.2l16.5 28h-33zM1195.4 451l16.5 28h-33zM1203.7 450.9l16.5 28h-33zM1211.9 450.7l16.5 28h-33zM1220.2 450.6l16.5 28h-33zM1228.5 450.4l16.5 28h-33zM1236.7 450.3l16.5 28h-33zM1245 450.1l16.5 28h-33zM1253.2 450l16.5 28h-33zM1261.5 449.8l16.5 28h-33zM1269.7 449.7l16.5 28h-33zM1278 449.5l16.5 28h-33zM1286.3 449.4l16.5 28h-33zM1294.5 449.2l16.5 28h-33zM1302.8 449.1l16.5 28h-33zM1311 448.9l16.5 28h-33zM1319.3 448.8l16.5 28h-33zM1327.5 448.6l16.5 28h-33zM1335.8 448.5l16.5 28h-33zM1344.1 448.3l16.5 28h-33zM1352.3 448.2l16.5 28h-33zM1360.6 448.1l16.5 28h-33zM1368.8 447.9l16.5 28h-33zM1377.1 447.8l16.5 28h-33zM1385.3 447.6l16.5 28h-33zM1393.6 447.5l16.5 28h-33zM1401.8 447.3l16.5 28h-33zM1410.1 447.2l16.5 28h-33zM1418.4 447l16.5 28h-33zM1426.6 446.9l16.5 28h-33zM1434.9 446.7l16.5 28h-33zM1443.1 446.6l16.5 28h-33zM1451.4 446.5l16.5 28h-33zM1459.6 446.3l16.5 28h-33zM1467.9 446l16.5 28h-33zM1476.2 445.8l16.5 28h-33zM1484.4 445.6l16.5 28h-33zM1492.7 445.4l16.5 28h-33zM1500.9 445.1l16.5 28h-33zM1509.2 444.9l16.5 28h-33zM1517.4 444.7l16.5 28h-33zM1525.7 444.5l16.5 28h-33zM1534 444.2l16.5 28h-33zM1542.2 444l16.5 28h-33zM1550.5 443.8l16.5 28h-33zM1558.7 443.6l16.5 28h-33zM1567 443.3l16.5 28h-33zM1575.2 443.1l16.5 28h-33zM1583.5 442.9l16.5 28h-33zM1591.8 442.7l16.5 28h-33zM1600 442.4l16.5 28h-33zM1608.3 442.2l16.5 28h-33zM1616.5 442l16.5 28h-33zM1624.8 441.8l16.5 28h-33zM1633 441.6l16.5 28h-33zM1641.3 441.3l16.5 28h-33zM1649.5 441.1l16.5 28h-33zM1657.8 440.9l16.5 28h-33zM1666.1 440.7l16.5 28h-33zM1674.3 440.5l16.5 28h-33zM1682.6 440.2l16.5 28h-33zM1690.8 440l16.5 28h-33zM1699.1 439.8l16.5 28h-33zM1707.3 439.6l16.5 28h-33zM1715.6 439.4l16.5 28h-33zM1723.9 439.1l16.5 28h-33zM1732.1 438.9l16.5 28h-33zM1740.4 438.7l16.5 28h-33zM1748.6 438.5l16.5 28h-33z"/>
<path fill="#0000ff" d="M250.6 846.7l-16.5 -28h33zM262.7 803.5l-16.5 -28h33zM270.9 775.6l-16.5 -28h33zM279.2 754.6l-16.5 -28h33zM287.4 737.7l-16.5 -28h33zM295.7 722.7l-16.5 -28h33zM303.9 709.7l-16.5 -28h33zM312.2 698.3l-16.5 -28h33zM320.5 688.1l-16.5 -28h33zM328.7 678.9l-16.5 -28h33zM337 670.7l-16.5 -28h33zM345.2 663.4l-16.5 -28h33zM353.5 656.9l-16.5 -28h33zM361.7 651.1l-16.5 -28h33zM370 645.9l-16.5 -28h33zM378.3 640.8l-16.5 -28h33zM386.5 636.2l-16.5 -28h33zM394.8 632l-16.5 -28h33zM403 628.2l-16.5 -28h33zM411.3 624.8l-16.5 -28h33zM419.5 621.7l-16.5 -28h33zM427.8 618.9l-16.5 -28h33zM436.1 616.5l-16.5 -28h33zM444.3 614.4l-16.5 -28h33zM452.6 612.4l-16.5 -28h33zM460.8 610.7l-16.5 -28h33zM469.1 609.1l-16.5 -28h33zM477.3 607.6l-16.5 -28h33zM485.6 606.3l-16.5 -28h33zM493.8 605.1l-16.5 -28h33zM502.1 604l-16.5 -28h33zM510.4 603l-16.5 -28h33zM518.6 602.1l-16.5 -28h33zM526.9 601.2l-16.5 -28h33zM535.1 600.5l-16.5 -28h33zM543.4 599.8l-16.5 -28h33zM551.6 599.1l-16.5 -28h33zM559.9 598.4l-16.5 -28h33zM568.2 597.8l-16.5 -28h33zM576.4 597.2l-16.5 -28h33zM584.7 596.6l-16.5 -28h33zM592.9 596.1l-16.5 -28h33zM601.2 595.6l-16.5 -28h33zM609.4 595.2l-16.5 -28h33zM617.7 594.7l-16.5 -28h33zM626 594.3l-16.5 -28h33zM634.2 593.9l-16.5 -28h33zM642.5 593.5l-16.5 -28h33zM650.7 593.2l-16.5 -28h33zM659 592.8l-16.5 -28h33zM667.2 592.5l-16.5 -28h33zM675.5 592.2l-16.5 -28h33zM683.8 591.9l-16.5 -28h33zM692 591.6l-16.5 -28h33zM700.3 591.3l-16.5 -28h33zM708.5 591l-16.5 -28h33zM716.8 590.8l-16.5 -28h33zM725 590.5l-16.5 -28h33zM733.3 590.2l-16.5 -28h33zM741.6 590l-16.5 -28h33zM749.8 589.8l-16.5 -28h33zM758.1 589.5l-16.5 -28h33zM766.3 589.3l-16.5 -28h33zM774.6 589.1l-16.5 -28h33zM782.8 588.8l-16.5 -28h33zM791.1 588.6l-16.5 -28h33zM799.3 588.4l-16.5 -28h33zM807.6 588.2l-16.5 -28h33zM815.9 588l-16.5 -28h33zM824.1 587.8l-16.5 -28h33zM832.4 587.6l-16.5 -28h33zM840.6 587.4l-16.5 -28h33zM848.9 587.2l-16.5 -28h33zM857.1 587l-16.5 -28h33zM865.4 586.8l-16.5 -28h33zM873.7 586.6l-16.5 -28h33zM881.9 586.4l-16.5 -28h33zM890.2 586.2l-16.5 -28h33zM898.4 586l-16.5 -28h33zM906.7 585.8l-16.5 -28h33zM914.9 585.6l-16.5 -28h33zM923.2 585.4l-16.5 -28h33zM931.5 585.2l-16.5 -28h33zM939.7 585l-16.5 -28h33zM948 584.9l-16.5 -28h33zM956.2 584.7l-16.5 -28h33zM964.5 584.5l-16.5 -28h33zM972.7 584.3l-16.5 -28h33zM981 584.1l-16.5 -28h33zM989.3 583.9l-16.5 -28h33zM997.5 583.7l-16.5 -28h33zM1005.8 583.6l-16.5 -28h33zM1014 583.4l-16.5 -28h33zM1022.3 583.2l-16.5 -28h33zM1030.5 583l-16.5 -28h33zM1038.8 582.8l-16.5 -28h33zM1047 582.7l-16.5 -28h33zM1055.3 582.5l-16.5 -28h33zM1063.6 582.3l-16.5 -28h33zM1071.8 582.1l-16.5 -28h33zM1080.1 581.9l-16.5 -28h33zM1088.3 581.8l-16.5 -28h33zM1096.6 581.6l-16.5 -28h33zM1104.8 581.4l-16.5 -28h33zM1113.1 581.2l-16.5 -28h33zM1121.4 581.1l-16.5 -28h33zM1129.6 580.9l-16.5 -28h33zM1137.9 580.7l-16.5 -28h33zM1146.1 580.6l-16.5 -28h33zM1154.4 580.5l-16.5 -28h33zM1162.6 580.3l-16.5 -28h33zM1170.9 580.2l-16.5 -28h33zM1179.2 580.1l-16.5 -28h33zM1187.4 579.9l-16.5 -28h33zM1195.7 579.8l-16.5 -28h33zM1203.9 579.7l-16.5 -28h33zM1212.2 579.5l-16.5 -28h33zM1220.4 579.4l-16.5 -28h33zM1228.7 579.3l-16.5 -28h33zM1237 579.1l-16.5 -28h33zM1245.2 579l-16.5 -28h33zM1253.5 578.9l-16.5 -28h33zM1261.7 578.7l-16.5 -28h33zM1270 578.6l-16.5 -28h33zM1278.2 578.5l-16.5 -28h33zM1286.5 578.3l-16.5 -28h33zM1294.8 578.2l-16.5 -28h33zM1303 578.1l-16.5 -28h33zM1311.3 577.9l-16.5 -28h33zM1319.5 577.8l-16.5 -28h33zM1327.8 577.7l-16.5 -28h33zM1336 577.5l-16.5 -28h33zM1344.3 577.4l-16.5 -28h33zM1352.5 577.3l-16.5 -28h33zM1360.8 577.1l-16.5 -28h33zM1369.1 577l-16.5 -28h33zM1377.3 576.9l-16.5 -28h33zM1385.6 576.7l-16.5 -28h33zM1393.8 576.6l-16.5 -28h33zM1402.1 576.5l-16.5 -28h33zM1410.3 576.3l-16.5 -28h33zM1418.6 576.2l-16.5 -28h33zM1426.9 576.1l-16.5 -28h33zM1435.1 575.9l-16.5 -28h33zM1443.4 575.8l-16.5 -28h33zM1451.6 575.7l-16.5 -28h33zM1459.9 575.6l-16.5 -28h33zM1468.1 575.4l-16.5 -28h33zM1476.4 575.3l-16.5 -28h33zM1484.7 575.2l-16.5 -28h33zM1492.9 575l-16.5 -28h33zM1501.2 574.9l-16.5 -28h33zM1509.4 574.8l-16.5 -28h33zM1517.7 574.6l-16.5 -28h33zM1525.9 574.5l-16.5 -28h33zM1534.2 574.4l-16.5 -28h33zM1542.5 574.3l-16.5 -28h33zM1550.7 574.1l-16.5 -28h33zM1559 574l-16.5 -28h33zM1567.2 573.9l-16.5 -28h33zM1575.5 573.7l-16.5 -28h33zM1583.7 573.6l-16.5 -28h33zM1592 573.5l-16.5 -28h33zM1600.2 573.4l-16.5 -28h33zM1608.5 573.2l-16.5 -28h33zM1616.8 573.1l-16.5 -28h33zM1625 573l-16.5 -28h33zM1633.3 572.9l-16.5 -28h33zM1641.5 572.7l-16.5 -28h33zM1649.8 572.6l-16.5 -28h33zM1658 572.5l-16.5 -28h33zM1666.3 572.4l-16.5 -28h33zM1674.6 572.2l-16.5 -28h33zM1682.8 572.1l-16.5 -28h33zM1691.1 572l-16.5 -28h33zM1699.3 571.8l-16.5 -28h33zM1707.6 571.7l-16.5 -28h33zM1715.8 571.6l-16.5 -28h33zM1724.1 571.5l-16.5 -28h33zM1732.4 571.3l-16.5 -28h33zM1740.6 571.2l-16.5 -28h33zM1748.9 571.1l-16.5 -28h33z"/>
<path fill="#00ffff" d="M250.6 987.5l17 17l-17 17l-17 -17zM260.9 963l17 17l-17 17l-17 -17zM269.1 940.6l17 17l-17 17l-17 -17zM277.4 917l17 17l-17 17l-17 -17zM285.6 897.1l17 17l-17 17l-17 -17zM293.9 879.1l17 17l-17 17l-17 -17zM302.1 862.3l17 17l-17 17l-17 -17zM310.4 846.7l17 17l-17 17l-17 -17zM318.7 832.8l17 17l-17 17l-17 -17zM326.9 819.8l17 17l-17 17l-17 -17zM335.2 807.7l17 17l-17 17l-17 -17zM343.4 796.4l17 17l-17 17l-17 -17zM351.7 785.8l17 17l-17 17l-17 -17zM359.9 776l17 17l-17 17l-17 -17zM368.2 766.7l17 17l-17 17l-17 -17zM376.4 758.1l17 17l-17 17l-17 -17zM384.7 750.1l17 17l-17 17l-17 -17zM393 742.6l17 17l-17 17l-17 -17zM401.2 735.5l17 17l-17 17l-17 -17zM409.5 728.9l17 17l-17 17l-17 -17zM417.7 722.8l17 17l-17 17l-17 -17zM426 717l17 17l-17 17l-17 -17zM434.2 711.6l17 17l-17 17l-17 -17zM442.5 706.5l17 17l-17 17l-17 -17zM450.8 701.7l17 17l-17 17l-17 -17zM459 697.3l17 17l-17 17l-17 -17zM467.3 693.1l17 17l-17 17l-17 -17zM475.5 689.1l17 17l-17 17l-17 -17zM483.8 685.5l17 17l-17 17l-17 -17zM492 682l17 17l-17 17l-17 -17zM500.3 678.7l17 17l-17 17l-17 -17zM508.6 675.7l17 17l-17 17l-17 -17zM516.8 672.8l17 17l-17 17l-17 -17zM525.1 670.1l17 17l-17 17l-17 -17zM533.3 667.5l17 17l-17 17l-17 -17zM541.6 665.1l17 17l-17 17l-17 -17zM549.8 662.8l17 17l-17 17l-17 -17zM558.1 660.7l17 17l-17 17l-17 -17zM566.4 658.7l17 17l-17 17l-17 -17zM574.6 656.8l17 17l-17 17l-17 -17zM582.9 655l17 17l-17 17l-17 -17zM591.1 653.3l17 17l-17 17l-17 -17zM599.4 651.7l17 17l-17 17l-17 -17zM607.6 650.1l17 17l-17 17l-17 -17zM615.9 648.7l17 17l-17 17l-17 -17zM624.1 647.3l17 17l-17 17l-17 -17zM632.4 646.1l17 17l-17 17l-17 -17zM640.7 644.8l17 17l-17 17l-17 -17zM648.9 643.7l17 17l-17 17l-17 -17zM657.2 642.6l17 17l-17 17l-17 -17zM665.4 641.5l17 17l-17 17l-17 -17zM673.7 640.5l17 17l-17 17l-17 -17zM681.9 639.6l17 17l-17 17l-17 -17zM690.2 638.7l17 17l-17 17l-17 -17zM698.5 637.8l17 17l-17 17l-17 -17zM706.7 637l17 17l-17 17l-17 -17zM715 636.2l17 17l-17 17l-17 -17zM723.2 635.5l17 17l-17 17l-17 -17zM731.5 634.8l17 17l-17 17l-17 -17zM739.7 634.1l17 17l-17 17l-17 -17zM748 633.4l17 17l-17 17l-17 -17zM756.3 632.8l17 17l-17 17l-17 -17zM764.5 632.2l17 17l-17 17l-17 -17zM772.8 631.6l17 17l-17 17l-17 -17zM781 631.1l17 17l-17 17l-17 -17zM789.3 630.5l17 17l-17 17l-17 -17zM797.5 630l17 17l-17 17l-17 -17zM805.8 629.5l17 17l-17 17l-17 -17zM814.1 629.1l17 17l-17 17l-17 -17zM822.3 628.6l17 17l-17 17l-17 -17zM830.6 628.2l17 17l-17 17l-17 -17zM838.8 627.7l17 17l-17 17l-17 -17zM847.1 627.3l17 17l-17 17l-17 -17zM855.3 626.9l17 17l-17 17l-17 -17zM863.6 626.5l17 17l-17 17l-17 -17zM871.9 626.2l17 17l-17 17l-17 -17zM880.1 625.8l17 17l-17 17l-17 -17zM888.4 625.5l17 17l-17 17l-17 -17zM896.6 625.1l17 17l-17 17l-17 -17zM904.9 624.8l17 17l-17 17l-17 -17zM913.1 624.5l17 17l-17 17l-17 -17zM921.4 624.1l17 17l-17 17l-17 -17zM929.6 623.8l17 17l-17 17l-17 -17zM937.9 623.5l17 17l-17 17l-17 -17zM946.2 623.2l17 17l-17 17l-17 -17zM954.4 623l17 17l-17 17l-17 -17zM962.7 622.7l17 17l-17 17l-17 -17zM970.9 622.4l17 17l-17 17l-17 -17zM979.2 622.1l17 17l-17 17l-17 -17zM987.4 621.9l17 17l-17 17l-17 -17zM995.7 621.6l17 17l-17 17l-17 -17zM1004 621.4l17 17l-17 17l-17 -17zM1012.2 621.1l17 17l-17 17l-17 -17zM1020.5 620.9l17 17l-17 17l-17 -17zM1028.7 620.6l17 17l-17 17l-17 -17zM1037 620.4l17 17l-17 17l-17 -17zM1045.2 620.1l17 17l-17 17l-17 -17zM1053.5 619.9l17 17l-17 17l-17 -17zM1061.8 619.7l17 17l-17 17l-17 -17zM1070 619.5l17 17l-17 17l-17 -17zM1078.3 619.2l17 17l-17 17l-17 -17zM1086.5 619l17 17l-17 17l-17 -17zM1094.8 618.8l17 17l-17 17l-17 -17zM1103 618.6l17 17l-17 17l-17 -17zM1111.3 618.4l17 17l-17 17l-17 -17zM1119.6 618.2l17 17l-17 17l-17 -17zM1127.8 617.9l17 17l-17 17l-17 -17zM1136.1 617.7l17 17l-17 17l-17 -17zM1144.3 617.5l17 17l-17 17l-17 -17zM1152.6 617.3l17 17l-17 17l-17 -17zM1160.8 617.1l17 17l-17 17l-17 -17zM1169.1 616.9l17 17l-17 17l-17 -17zM1177.3 616.7l17 17l-17 17l-17 -17zM1185.6 616.5l17 17l-17 17l-17 -17zM1193.9 616.3l17 17l-17 17l-17 -17zM1202.1 616.2l17 17l-17 17l-17 -17zM1210.4 616l17 17l-17 17l-17 -17zM1218.6 615.8l17 17l-17 17l-17 -17zM1226.9 615.6l17 17l-17 17l-17 -17zM1235.1 615.4l17 17l-17 17l-17 -17zM1243.4 615.2l17 17l-17 17l-17 -17zM1251.7 615l17 17l-17 17l-17 -17zM1259.9 614.8l17 17l-17 17l-17 -17zM1268.2 614.6l17 17l-17 17l-17 -17zM1276.4 614.5l17 17l-17 17l-17 -17zM1284.7 614.3l17 17l-17 17l-17 -17zM1292.9 614.1l17 17l-17 17l-17 -17zM1301.2 613.9l17 17l-17 17l-17 -17zM1309.5 613.7l17 17l-17 17l-17 -17zM1317.7 613.6l17 17l-17 17l-17 -17zM1326 613.4l17 17l-17 17l-17 -17zM1334.2 613.2l17 17l-17 17l-17 -17zM1342.5 613l17 17l-17 17l-17 -17zM1350.7 612.8l17 17l-17 17l-17 -17zM1359 612.7l17 17l-17 17l-17 -17zM1367.3 612.5l17 17l-17 17l-17 -17zM1375.5 612.3l17 17l-17 17l-17 -17zM1383.8 612.1l17 17l-17 17l-17 -17zM1392 612l17 17l-17 17l-17 -17zM1400.3 611.8l17 17l-17 17l-17 -17zM1408.5 611.6l17 17l-17 17l-17 -17zM1416.8 611.4l17 17l-17 17l-17 -17zM1425.1 611.3l17 17l-17 17l-17 -17zM1433.3 611.1l17 17l-17 17l-17 -17zM1441.6 610.9l17 17l-17 17l-17 -17zM1449.8 610.7l17 17l-17 17l-17 -17zM1458.1 610.6l17 17l-17 17l-17 -17zM1466.3 610.4l17 17l-17 17l-17 -17zM1474.6 610.2l17 17l-17 17l-17 -17zM1482.8 610.1l17 17l-17 17l-17 -17zM1491.1 609.9l17 17l-17 17l-17 -17zM1499.4 609.7l17 17l-17 17l-17 -17zM1507.6 609.5l17 17l-17 17l-17 -17zM1515.9 609.4l17 17l-17 17l-17 -17zM1524.1 609.2l17 17l-17 17l-17 -17zM1532.4 609l17 17l-17 17l-17 -17zM1540.6 608.9l17 17l-17 17l-17 -17zM1548.9 608.7l17 17l-17 17l-17 -17zM1557.2 608.5l17 17l-17 17l-17 -17zM1565.4 608.4l17 17l-17 17l-17 -17zM1573.7 608.2l17 17l-17 17l-17 -17zM1581.9 608l17 17l-17 17l-17 -17zM1590.2 607.9l17 17l-17 17l-17 -17zM1598.4 607.7l17 17l-17 17l-17 -17zM1606.7 607.5l17 17l-17 17l-17 -17zM1615 607.4l17 17l-17 17l-17 -17zM1623.2 607.2l17 17l-17 17l-17 -17zM1631.5 607l17 17l-17 17l-17 -17zM1639.7 606.9l17 17l-17 17l-17 -17zM1648 606.7l17 17l-17 17l-17 -17zM1656.2 606.5l17 17l-17 17l-17 -17zM1664.5 606.4l17 17l-17 17l-17 -17zM1672.8 606.2l17 17l-17 17l-17 -17zM1681 606l17 17l-17 17l-17 -17zM1689.3 605.9l17 17l-17 17l-17 -17zM1697.5 605.7l17 17l-17 17l-17 -17zM1705.8 605.5l17 17l-17 17l-17 -17zM1714 605.4l17 17l-17 17l-17 -17zM1722.3 605.2l17 17l-17 17l-17 -17zM1730.5 605l17 17l-17 17l-17 -17zM1738.8 604.9l17 17l-17 17l-17 -17zM1747.1 604.7l17 17l-17 17l-17 -17zM1755.3 604.6l17 17l-17 17l-17 -17z"/>
<path fill="#c0c0c0" d="M233.6 1070.3l30 -16.5v33zM243.9 1048.6l30 -16.5v33zM252.1 1034.9l30 -16.5v33zM260.4 1022.2l30 -16.5v33zM268.6 1010.3l30 -16.5v33zM276.9 998.9l30 -16.5v33zM285.1 988l30 -16.5v33zM293.4 977.5l30 -16.5v33zM301.7 967.4l30 -16.5v33zM309.9 957.7l30 -16.5v33zM318.2 948.2l30 -16.5v33zM326.4 939.2l30 -16.5v33zM334.7 930.4l30 -16.5v33zM342.9 921.9l30 -16.5v33zM351.2 913.8l30 -16.5v33zM359.4 905.9l30 -16.5v33zM367.7 898.3l30 -16.5v33zM376 890.9l30 -16.5v33zM384.2 883.8l30 -16.5v33zM392.5 876.9l30 -16.5v33zM400.7 870.3l30 -16.5v33zM409 863.9l30 -16.5v33zM417.2 857.7l30 -16.5v33zM425.5 851.8l30 -16.5v33zM433.8 846l30 -16.5v33zM442 840.5l30 -16.5v33zM450.3 835.1l30 -16.5v33zM458.5 829.9l30 -16.5v33zM466.8 824.9l30 -16.5v33zM475 820l30 -16.5v33zM483.3 815.4l30 -16.5v33zM491.6 810.9l30 -16.5v33zM499.8 806.5l30 -16.5v33zM508.1 802.3l30 -16.5v33zM516.3 798.2l30 -16.5v33zM524.6 794.3l30 -16.5v33zM532.8 790.5l30 -16.5v33zM541.1 786.8l30 -16.5v33zM549.4 783.3l30 -16.5v33zM557.6 779.9l30 -16.5v33zM565.9 776.6l30 -16.5v33zM574.1 773.4l30 -16.5v33zM582.4 770.3l30 -16.5v33zM590.6 767.3l30 -16.5v33zM598.9 764.4l30 -16.5v33zM607.1 761.7l30 -16.5v33zM615.4 759l30 -16.5v33zM623.7 756.4l30 -16.5v33zM631.9 753.9l30 -16.5v33zM640.2 751.5l30 -16.5v33zM648.4 749.1l30 -16.5v33zM656.7 746.9l30 -16.5v33zM664.9 744.7l30 -16.5v33zM673.2 742.6l30 -16.5v33zM681.5 740.6l30 -16.5v33zM689.7 738.6l30 -16.5v33zM698 736.7l30 -16.5v33zM706.2 734.9l30 -16.5v33zM714.5 733.1l30 -16.5v33zM722.7 731.4l30 -16.5v33zM731 729.7l30 -16.5v33zM739.3 728.1l30 -16.5v33zM747.5 726.6l30 -16.5v33zM755.8 725.1l30 -16.5v33zM764 723.7l30 -16.5v33zM772.3 722.3l30 -16.5v33zM780.5 720.9l30 -16.5v33zM788.8 719.6l30 -16.5v33zM797.1 718.4l30 -16.5v33zM805.3 717.2l30 -16.5v33zM813.6 716l30 -16.5v33zM821.8 714.9l30 -16.5v33zM830.1 713.8l30 -16.5v33zM838.3 712.7l30 -16.5v33zM846.6 711.7l30 -16.5v33zM854.9 710.7l30 -16.5v33zM863.1 709.8l30 -16.5v33zM871.4 708.9l30 -16.5v33zM879.6 708l30 -16.5v33zM887.9 707.1l30 -16.5v33zM896.1 706.3l30 -16.5v33zM904.4 705.5l30 -16.5v33zM912.6 704.7l30 -16.5v33zM920.9 704l30 -16.5v33zM929.2 703.2l30 -16.5v33zM937.4 702.5l30 -16.5v33zM945.7 701.9l30 -16.5v33zM953.9 701.2l30 -16.5v33zM962.2 700.6l30 -16.5v33zM970.4 700l30 -16.5v33zM978.7 699.4l30 -16.5v33zM987 698.8l30 -16.5v33zM995.2 698.3l30 -16.5v33zM1003.5 697.7l30 -16.5v33zM1011.7 697.2l30 -16.5v33zM1020 696.7l30 -16.5v33zM1028.2 696.3l30 -16.5v33zM1036.5 695.8l30 -16.5v33zM1044.8 695.3l30 -16.5v33zM1053 694.9l30 -16.5v33zM1061.3 694.5l30 -16.5v33zM1069.5 694.1l30 -16.5v33zM1077.8 693.7l30 -16.5v33zM1086 693.3l30 -16.5v33zM1094.3 693l30 -16.5v33zM1102.6 692.6l30 -16.5v33zM1110.8 692.3l30 -16.5v33zM1119.1 692l30 -16.5v33zM1127.3 691.6l30 -16.5v33zM1135.6 691.3l30 -16.5v33zM1143.8 691l30 -16.5v33zM1152.1 690.7l30 -16.5v33zM1160.3 690.5l30 -16.5v33zM1168.6 690.2l30 -16.5v33zM1176.9 690l30 -16.5v33zM1185.1 689.7l30 -16.5v33zM1193.4 689.5l30 -16.5v33zM1201.6 689.2l30 -16.5v33zM1209.9 689l30 -16.5v33zM1218.1 688.8l30 -16.5v33zM1226.4 688.6l30 -16.5v33zM1234.7 688.4l30 -16.5v33zM1242.9 688.2l30 -16.5v33zM1251.2 688l30 -16.5v33zM1259.4 687.8l30 -16.5v33zM1267.7 687.6l30 -16.5v33zM1275.9 687.5l30 -16.5v33zM1284.2 687.3l30 -16.5v33zM1292.5 687.1l30 -16.5v33zM1300.7 687l30 -16.5v33zM1309 686.8l30 -16.5v33zM1317.2 686.7l30 -16.5v33zM1325.5 686.6l30 -16.5v33zM1333.7 686.4l30 -16.5v33zM1342 686.3l30 -16.5v33zM1350.3 686.2l30 -16.5v33zM1358.5 686l30 -16.5v33zM1366.8 685.9l30 -16.5v33zM1375 685.8l30 -16.5v33zM1383.3 685.7l30 -16.5v33zM1391.5 685.6l30 -16.5v33zM1399.8 685.5l30 -16.5v33zM1408.1 685.4l30 -16.5v33zM1416.3 685.3l30 -16.5v33zM1424.6 685.2l30 -16.5v33zM1432.8 685.1l30 -16.5v33zM1441.1 685l30 -16.5v33zM1449.3 685l30 -16.5v33zM1457.6 684.9l30 -16.5v33zM1465.8 684.8l30 -16.5v33zM1474.1 684.7l30 -16.5v33zM1482.4 684.6l30 -16.5v33zM1490.6 684.6l30 -16.5v33zM1498.9 684.5l30 -16.5v33zM1507.1 684.4l30 -16.5v33zM1515.4 684.4l30 -16.5v33zM1523.6 684.3l30 -16.5v33zM1531.9 684.3l30 -16.5v33zM1540.2 684.2l30 -16.5v33zM1548.4 684.2l30 -16.5v33zM1556.7 684.1l30 -16.5v33zM1564.9 684l30 -16.5v33zM1573.2 684l30 -16.5v33zM1581.4 684l30 -16.5v33zM1589.7 683.9l30 -16.5v33zM1598 683.9l30 -16.5v33zM1606.2 683.8l30 -16.5v33zM1614.5 683.8l30 -16.5v33zM1622.7 683.7l30 -16.5v33zM1631 683.7l30 -16.5v33zM1639.2 683.7l30 -16.5v33zM1647.5 683.6l30 -16.5v33zM1655.8 683.6l30 -16.5v33zM1664 683.6l30 -16.5v33zM1672.3 683.5l30 -16.5v33zM1680.5 683.5l30 -16.5v33zM1688.8 683.5l30 -16.5v33zM1697 683.4l30 -16.5v33zM1705.3 683.4l30 -16.5v33zM1713.5 683.4l30 -16.5v33zM1721.8 683.3l30 -16.5v33zM1730.1 683.3l30 -16.5v33zM1738.3 683.3l30 -16.5v33z"/>
<path fill="none" stroke="#ff0000" stroke-width="5.2" stroke-linejoin="round" d="M248.8 452L250.3 442.9L251.8 435.3L253.3 428.8L254.8 423L256.3 417.7L257.8 412.7L259.3 408.1L260.9 403.7L262.4 399.5L263.9 395.5L265.4 391.7L266.9 388L268.4 384.5L269.9 381.2L271.4 377.9L272.9 374.8L274.4 371.9L275.9 369L277.4 366.3L278.9 363.7L280.4 361.1L281.9 358.7L283.5 356.4L285 354.2L286.5 352L288 350L289.5 348L291 346.1L292.5 344.3L294 342.6L295.5 340.9L297 339.3L298.5 337.7L300 336.3L301.5 334.8L303 333.5L304.5 332.2L306.1 330.9L307.6 329.7L309.1 328.5L310.6 327.4L312.1 326.3L313.6 325.3L315.1 324.3L316.6 323.4L318.1 322.4L319.6 321.6L321.1 320.7L327.1 317.6L333.2 315L339.2 312.8L345.2 310.8L351.3 309.2L357.3 307.8L363.3 306.5L369.3 305.5L375.4 304.5L381.4 303.7L387.4 303L393.4 302.4L399.5 301.8L405.5 301.3L411.5 300.9L417.6 300.5L423.6 300.1L429.6 299.8L435.6 299.5L441.7 299.2L447.7 299L453.7 298.7L459.7 298.5L465.8 298.3L471.8 298.1L477.8 297.9L483.8 297.7L489.9 297.5L495.9 297.4L501.9 297.2L508 297L514 296.9L520 296.7L526 296.5L532.1 296.4L538.1 296.2L544.1 296.1L550.1 295.9L556.2 295.8L562.2 295.6L568.2 295.5L574.2 295.3L580.3 295.2L586.3 295.1L592.3 294.9L598.4 294.8L604.4 294.6L610.4 294.5L640.5 293.8L670.7 293.2L700.8 292.5L730.9 291.9L761.1 291.2L791.2 290.6L821.3 290L851.5 289.5L881.6 288.9L911.7 288.3L941.9 287.8L972 287.2L1002.2 286.7L1032.3 286.2L1062.4 285.7L1092.6 285.2L1122.7 284.7L1152.8 284.2L1183 283.8L1213.1 283.3L1243.2 282.9L1273.4 282.4L1303.5 282L1333.6 281.6L1363.8 281.2L1393.9 280.8L1424 280.4L1454.2 280L1484.3 279.6L1514.4 279.2L1544.6 278.8L1574.7 278.5L1604.8 278.1L1635 277.8L1665.1 277.4L1695.2 277.1L1725.4 276.8L1752.5 276.5M248.8 545.8L250.3 540.3L251.8 535L253.3 529.9L254.8 525L256.3 520.3L257.8 515.7L259.3 511.4L260.9 507.2L262.4 503.1L263.9 499.2L265.4 495.4L266.9 491.8L268.4 488.3L269.9 485L271.4 481.7L272.9 478.6L274.4 475.6L275.9 472.7L277.4 469.9L278.9 467.2L280.4 464.6L281.9 462.1L283.5 459.7L285 457.4L286.5 455.1L288 453L289.5 450.9L291 448.9L292.5 446.9L294 445.1L295.5 443.3L297 441.5L298.5 439.8L300 438.2L301.5 436.6L303 435.1L304.5 433.7L306.1 432.3L307.6 430.9L309.1 429.6L310.6 428.3L312.1 427.1L313.6 425.9L315.1 424.8L316.6 423.7L318.1 422.6L319.6 421.6L321.1 420.6L327.1 417L333.2 413.8L339.2 411L345.2 408.6L351.3 406.4L357.3 404.5L363.3 402.9L369.3 401.4L375.4 400.1L381.4 398.9L387.4 397.9L393.4 397L399.5 396.1L405.5 395.4L411.5 394.7L417.6 394.1L423.6 393.5L429.6 393L435.6 392.6L441.7 392.1L447.7 391.7L453.7 391.4L459.7 391L465.8 390.7L471.8 390.4L477.8 390.1L483.8 389.9L489.9 389.6L495.9 389.4L501.9 389.1L508 388.9L514 388.7L520 388.5L526 388.3L532.1 388.1L538.1 387.9L544.1 387.7L550.1 387.5L556.2 387.4L562.2 387.2L568.2 387L574.2 386.9L580.3 386.7L586.3 386.5L592.3 386.4L598.4 386.2L604.4 386.1L610.4 385.9L640.5 385.2L670.7 384.4L700.8 383.7L730.9 383L761.1 382.3L791.2 381.6L821.3 380.9L851.5 380.2L881.6 379.6L911.7 378.9L941.9 378.2L972 377.5L1002.2 376.8L1032.3 376.2L1062.4 375.5L1092.6 374.8L1122.7 374.2L1152.8 373.5L1183 372.8L1213.1 372.2L1243.2 371.5L1273.4 370.9L1303.5 370.2L1333.6 369.6L1363.8 368.9L1393.9 368.3L1424 367.6L1454.2 367L1484.3 366.3L1514.4 365.7L1544.6 365.1L1574.7 364.4L1604.8 363.8L1635 363.2L1665.1 362.5L1695.2 361.9L1725.4 361.3L1752.5 360.7M248.8 694.8L250.3 688.9L251.8 683.2L253.3 677.7L254.8 672.3L256.3 667.2L257.8 662.2L259.3 657.3L260.9 652.6L262.4 648.1L263.9 643.7L265.4 639.4L266.9 635.3L268.4 631.3L269.9 627.5L271.4 623.7L272.9 620.1L274.4 616.6L275.9 613.2L277.4 609.9L278.9 606.8L280.4 603.7L281.9 600.7L283.5 597.8L285 595L286.5 592.3L288 589.6L289.5 587.1L291 584.6L292.5 582.2L294 579.9L295.5 577.6L297 575.4L298.5 573.3L300 571.2L301.5 569.2L303 567.3L304.5 565.4L306.1 563.6L307.6 561.8L309.1 560.1L310.6 558.4L312.1 556.8L313.6 555.2L315.1 553.7L316.6 552.2L318.1 550.8L319.6 549.4L321.1 548L327.1 542.9L333.2 538.4L339.2 534.4L345.2 530.8L351.3 527.6L357.3 524.7L363.3 522.1L369.3 519.7L375.4 517.6L381.4 515.7L387.4 514L393.4 512.4L399.5 510.9L405.5 509.6L411.5 508.4L417.6 507.3L423.6 506.3L429.6 505.4L435.6 504.5L441.7 503.7L447.7 503L453.7 502.3L459.7 501.7L465.8 501.1L471.8 500.5L477.8 500L483.8 499.5L489.9 499L495.9 498.5L501.9 498.1L508 497.7L514 497.3L520 496.9L526 496.6L532.1 496.2L538.1 495.9L544.1 495.5L550.1 495.2L556.2 494.9L562.2 494.6L568.2 494.3L574.2 494L580.3 493.7L586.3 493.4L592.3 493.1L598.4 492.9L604.4 492.6L610.4 492.3L640.5 491L670.7 489.8L700.8 488.6L730.9 487.4L761.1 486.2L791.2 485L821.3 483.9L851.5 482.7L881.6 481.6L911.7 480.4L941.9 479.3L972 478.1L1002.2 477L1032.3 475.9L1062.4 474.7L1092.6 473.6L1122.7 472.5L1152.8 471.4L1183 470.3L1213.1 469.2L1243.2 468L1273.4 466.9L1303.5 465.8L1333.6 464.8L1363.8 463.7L1393.9 462.6L1424 461.5L1454.2 460.4L1484.3 459.3L1514.4 458.3L1544.6 457.2L1574.7 456.1L1604.8 455.1L1635 454L1665.1 453L1695.2 451.9L1725.4 450.9L1752.5 449.9M248.8 821.2L250.3 816.2L251.8 811.4L253.3 806.6L254.8 801.9L256.3 797.4L257.8 792.9L259.3 788.6L260.9 784.3L262.4 780.1L263.9 776L265.4 772L266.9 768.1L268.4 764.2L269.9 760.5L271.4 756.8L272.9 753.2L274.4 749.7L275.9 746.2L277.4 742.9L278.9 739.6L280.4 736.3L281.9 733.2L283.5 730.1L285 727L286.5 724L288 721.1L289.5 718.3L291 715.5L292.5 712.8L294 710.1L295.5 707.5L297 704.9L298.5 702.4L300 699.9L301.5 697.5L303 695.2L304.5 692.8L306.1 690.6L307.6 688.4L309.1 686.2L310.6 684.1L312.1 682L313.6 679.9L315.1 677.9L316.6 676L318.1 674L319.6 672.2L321.1 670.3L327.1 663.3L333.2 656.9L339.2 650.9L345.2 645.4L351.3 640.3L357.3 635.6L363.3 631.3L369.3 627.3L375.4 623.6L381.4 620.2L387.4 617L393.4 614.1L399.5 611.3L405.5 608.8L411.5 606.4L417.6 604.3L423.6 602.2L429.6 600.3L435.6 598.6L441.7 596.9L447.7 595.4L453.7 594L459.7 592.7L465.8 591.4L471.8 590.2L477.8 589.2L483.8 588.1L489.9 587.2L495.9 586.3L501.9 585.4L508 584.6L514 583.9L520 583.2L526 582.5L532.1 581.9L538.1 581.3L544.1 580.8L550.1 580.2L556.2 579.7L562.2 579.2L568.2 578.8L574.2 578.4L580.3 577.9L586.3 577.6L592.3 577.2L598.4 576.8L604.4 576.5L610.4 576.2L640.5 574.7L670.7 573.5L700.8 572.4L730.9 571.5L761.1 570.6L791.2 569.8L821.3 569.1L851.5 568.4L881.6 567.7L911.7 567L941.9 566.3L972 565.7L1002.2 565L1032.3 564.4L1062.4 563.8L1092.6 563.1L1122.7 562.5L1152.8 561.9L1183 561.3L1213.1 560.7L1243.2 560.1L1273.4 559.5L1303.5 558.8L1333.6 558.2L1363.8 557.6L1393.9 557L1424 556.4L1454.2 555.8L1484.3 555.3L1514.4 554.7L1544.6 554.1L1574.7 553.5L1604.8 552.9L1635 552.3L1665.1 551.7L1695.2 551.2L1725.4 550.6L1752.5 550.1M248.8 1006L250.3 1001.4L251.8 996.9L253.3 992.5L254.8 988.1L256.3 983.8L257.8 979.6L259.3 975.5L260.9 971.4L262.4 967.4L263.9 963.4L265.4 959.5L266.9 955.7L268.4 951.9L269.9 948.1L271.4 944.4L272.9 940.8L274.4 937.2L275.9 933.6L277.4 930.1L278.9 926.6L280.4 923.2L281.9 919.8L283.5 916.5L285 913.2L286.5 910L288 906.8L289.5 903.6L291 900.5L292.5 897.4L294 894.4L295.5 891.4L297 888.4L298.5 885.5L300 882.6L301.5 879.7L303 876.9L304.5 874.1L306.1 871.4L307.6 868.7L309.1 866L310.6 863.3L312.1 860.7L313.6 858.2L315.1 855.6L316.6 853.1L318.1 850.6L319.6 848.2L321.1 845.8L327.1 836.4L333.2 827.5L339.2 819L345.2 810.9L351.3 803.2L357.3 796L363.3 789L369.3 782.4L375.4 776.1L381.4 770.1L387.4 764.4L393.4 759L399.5 753.8L405.5 748.8L411.5 744.1L417.6 739.7L423.6 735.4L429.6 731.3L435.6 727.4L441.7 723.7L447.7 720.2L453.7 716.8L459.7 713.6L465.8 710.5L471.8 707.6L477.8 704.7L483.8 702.1L489.9 699.5L495.9 697L501.9 694.7L508 692.5L514 690.3L520 688.3L526 686.3L532.1 684.4L538.1 682.6L544.1 680.9L550.1 679.2L556.2 677.7L562.2 676.1L568.2 674.7L574.2 673.3L580.3 672L586.3 670.7L592.3 669.4L598.4 668.3L604.4 667.1L610.4 666L640.5 661.2L670.7 657.1L700.8 653.8L730.9 650.9L761.1 648.5L791.2 646.4L821.3 644.6L851.5 643L881.6 641.6L911.7 640.3L941.9 639.1L972 638L1002.2 637L1032.3 636L1062.4 635.1L1092.6 634.2L1122.7 633.4L1152.8 632.6L1183 631.8L1213.1 631L1243.2 630.3L1273.4 629.5L1303.5 628.8L1333.6 628.1L1363.8 627.4L1393.9 626.7L1424 626L1454.2 625.3L1484.3 624.6L1514.4 623.9L1544.6 623.2L1574.7 622.5L1604.8 621.9L1635 621.2L1665.1 620.5L1695.2 619.9L1725.4 619.2L1752.5 618.6M248.8 1072.2L250.3 1068.9L251.8 1065.7L253.3 1062.7L254.8 1059.7L256.3 1056.9L257.8 1054.1L259.3 1051.3L260.9 1048.6L262.4 1046L263.9 1043.5L265.4 1040.9L266.9 1038.5L268.4 1036L269.9 1033.6L271.4 1031.3L272.9 1028.9L274.4 1026.6L275.9 1024.4L277.4 1022.1L278.9 1019.9L280.4 1017.7L281.9 1015.5L283.5 1013.3L285 1011.2L286.5 1009.1L288 1007L289.5 1004.9L291 1002.8L292.5 1000.8L294 998.7L295.5 996.7L297 994.7L298.5 992.7L300 990.7L301.5 988.8L303 986.8L304.5 984.9L306.1 983L307.6 981.1L309.1 979.2L310.6 977.3L312.1 975.4L313.6 973.6L315.1 971.7L316.6 969.9L318.1 968.1L319.6 966.2L321.1 964.4L327.1 957.4L333.2 950.5L339.2 943.8L345.2 937.2L351.3 930.8L357.3 924.6L363.3 918.6L369.3 912.7L375.4 906.9L381.4 901.3L387.4 895.8L393.4 890.5L399.5 885.3L405.5 880.2L411.5 875.3L417.6 870.5L423.6 865.8L429.6 861.2L435.6 856.7L441.7 852.4L447.7 848.1L453.7 844L459.7 840L465.8 836.1L471.8 832.2L477.8 828.5L483.8 824.8L489.9 821.3L495.9 817.8L501.9 814.5L508 811.2L514 808L520 804.8L526 801.8L532.1 798.8L538.1 795.9L544.1 793.1L550.1 790.4L556.2 787.7L562.2 785.1L568.2 782.5L574.2 780L580.3 777.6L586.3 775.2L592.3 772.9L598.4 770.7L604.4 768.5L610.4 766.3L640.5 756.4L670.7 747.7L700.8 740L730.9 733.2L761.1 727.2L791.2 722L821.3 717.3L851.5 713.2L881.6 709.6L911.7 706.4L941.9 703.6L972 701.1L1002.2 698.9L1032.3 697L1062.4 695.3L1092.6 693.8L1122.7 692.5L1152.8 691.3L1183 690.3L1213.1 689.4L1243.2 688.6L1273.4 687.9L1303.5 687.3L1333.6 686.7L1363.8 686.2L1393.9 685.8L1424 685.4L1454.2 685.1L1484.3 684.8L1514.4 684.5L1544.6 684.3L1574.7 684.1L1604.8 683.9L1635 683.8L1665.1 683.6L1695.2 683.5L1725.4 683.4L1752.5 683.3"/>
</g>
<g stroke="#000" fill="none" shape-rendering="crispEdges">
<path stroke-width="5.4" d="M248.8 48V1225.5"/>
</g>
<text transform="translate(122 1219.1) scale(1.045 1)" font-size="60">0.0</text>
<text transform="translate(121.6 1026.5) scale(1.045 1)" font-size="60">0.3</text>
<text transform="translate(121.6 833.9) scale(1.045 1)" font-size="60">0.6</text>
<text transform="translate(121.6 641.4) scale(1.045 1)" font-size="60">0.9</text>
<text transform="translate(122 448.8) scale(1.045 1)" font-size="60">1.2</text>
<text transform="translate(121.2 256.2) scale(1.045 1)" font-size="60">1.5</text>
<text transform="translate(121.3 63.6) scale(1.045 1)" font-size="60">1.8</text>
<text transform="translate(232.1 1287.8) scale(1.045 1)" font-size="60">0</text>
<text transform="translate(515.1 1287.8) scale(1.045 1)" font-size="60">50</text>
<text transform="translate(798 1287.8) scale(1.045 1)" font-size="60">100</text>
<text transform="translate(1099.3 1287.8) scale(1.045 1)" font-size="60">150</text>
<text transform="translate(1401.5 1287.8) scale(1.045 1)" font-size="60">200</text>
<text transform="translate(1702.9 1287.8) scale(1.045 1)" font-size="60">250</text>
<text transform="translate(857 1400.7) scale(1.040 1)" font-size="73">Time (s)</text>
<text transform="translate(92.8 626.8) rotate(-90)" font-size="73" text-anchor="middle">Voltage (V)</text>
<text transform="translate(1472.4 248.6) scale(1.044 1)" font-size="60.5">260 K</text>
<text transform="translate(1468 762.3) scale(1.032 1)" font-size="60.5">310 K</text>
<path stroke="#000" stroke-width="5.8" d="M1660.7 185V823.7"/>
<path fill="#000" d="M1662.2 843.7h-3l-7.5 -32.5h21l-7.5 32.5z"/>
<text transform="translate(1640 1153.8) scale(1.054 1)" font-size="71">(a)</text>
<g id="ibias-a">
<text transform="translate(834.8 1153.8) scale(0.870 1)" font-size="60.5">I</text>
<text transform="translate(852.4 1174.6) scale(1.030 1)" font-size="36">bias</text>
<text transform="translate(944.4 1153.8) scale(1.025 1)" font-size="60.5">=</text>
<text transform="translate(997.7 1153.8) scale(1.040 1)" font-size="60.5">20</text>
<text transform="translate(1084.4 1153.8) scale(1.185 1)" font-size="62" style="font-family:'Liberation Serif',serif;font-weight:normal">μ</text>
<text transform="translate(1124.8 1153.8) scale(0.933 1)" font-size="60.5">A</text>
</g>
</g>
<g id="panel-b">
<g stroke="#000" fill="none" shape-rendering="crispEdges">
<path stroke-width="5" d="M223.8 1565H1757.7"/>
<path stroke-width="3" d="M223.8 2719.3H1757.7"/>
<path stroke="#808080" stroke-width="2.8" d="M247.6 1565V2741"/>
<path stroke-width="2.6" d="M250.3 1565V2741"/>
<path stroke-width="4.4" d="M1755.5 1565V2741"/>
<path stroke-width="3.1" d="M223.8 2526.7H247M223.8 2334.3H247M223.8 2142H247M223.8 1949.7H247M223.8 1757.3H247"/>
<path stroke-width="4.6" d="M235 2622.4H247M235 2430.1H247M235 2237.8H247M235 2045.4H247M235 1853.1H247M235 1660.8H247"/>
<path stroke-width="4.3" d="M399.5 2719V2731.5M550.1 2719V2741.5M700.8 2719V2731.5M851.5 2719V2741.5M1002.2 2719V2731.5M1152.8 2719V2741.5M1303.5 2719V2731.5M1454.2 2719V2741.5M1604.8 2719V2731.5"/>
</g>
<g clip-path="url(#clipb)">
<path fill="#000000" d="M238 1887.4h24v24.4h-24zM248.6 1830.8h24v24.4h-24zM256.9 1806.8h24v24.4h-24zM265.1 1791.3h24v24.4h-24zM273.4 1783h24v24.4h-24zM281.6 1777.3h24v24.4h-24zM289.9 1773.4h24v24.4h-24zM298.2 1770.5h24v24.4h-24zM306.4 1768.1h24v24.4h-24zM314.7 1766.1h24v24.4h-24zM322.9 1764.4h24v24.4h-24zM331.2 1762.8h24v24.4h-24zM339.4 1761.4h24v24.4h-24zM347.7 1760.1h24v24.4h-24zM355.9 1758.8h24v24.4h-24zM364.2 1757.7h24v24.4h-24zM372.5 1756.5h24v24.4h-24zM380.7 1755.5h24v24.4h-24zM389 1754.4h24v24.4h-24zM397.2 1753.4h24v24.4h-24zM405.5 1752.5h24v24.4h-24zM413.7 1751.6h24v24.4h-24zM422 1750.7h24v24.4h-24zM430.3 1749.8h24v24.4h-24zM438.5 1749h24v24.4h-24zM446.8 1748.2h24v24.4h-24zM455 1747.4h24v24.4h-24zM463.3 1746.7h24v24.4h-24zM471.5 1746h24v24.4h-24zM479.8 1745.3h24v24.4h-24zM488.1 1744.6h24v24.4h-24zM496.3 1743.9h24v24.4h-24zM504.6 1743.3h24v24.4h-24zM512.8 1742.7h24v24.4h-24zM521.1 1742.1h24v24.4h-24zM529.3 1741.6h24v24.4h-24zM537.6 1741h24v24.4h-24zM545.9 1740.5h24v24.4h-24zM554.1 1740h24v24.4h-24zM562.4 1739.5h24v24.4h-24zM570.6 1739h24v24.4h-24zM578.9 1738.5h24v24.4h-24zM587.1 1738.1h24v24.4h-24zM595.4 1737.7h24v24.4h-24zM603.7 1737.2h24v24.4h-24zM611.9 1736.8h24v24.4h-24zM620.2 1736.5h24v24.4h-24zM628.4 1736.1h24v24.4h-24zM636.7 1735.7h24v24.4h-24zM644.9 1735.4h24v24.4h-24zM653.2 1735h24v24.4h-24zM661.4 1734.7h24v24.4h-24zM669.7 1734.4h24v24.4h-24zM678 1734.1h24v24.4h-24zM686.2 1733.8h24v24.4h-24zM694.5 1733.5h24v24.4h-24zM702.7 1733.2h24v24.4h-24zM711 1732.9h24v24.4h-24zM719.2 1732.7h24v24.4h-24zM727.5 1732.4h24v24.4h-24zM735.8 1732.2h24v24.4h-24zM744 1732h24v24.4h-24zM752.3 1731.7h24v24.4h-24zM760.5 1731.5h24v24.4h-24zM768.8 1731.3h24v24.4h-24zM777 1731.1h24v24.4h-24zM785.3 1730.9h24v24.4h-24zM793.6 1730.7h24v24.4h-24zM801.8 1730.5h24v24.4h-24zM810.1 1730.4h24v24.4h-24zM818.3 1730.2h24v24.4h-24zM826.6 1730h24v24.4h-24zM834.8 1729.9h24v24.4h-24zM843.1 1729.8h24v24.4h-24zM851.4 1729.7h24v24.4h-24zM859.6 1729.7h24v24.4h-24zM867.9 1729.6h24v24.4h-24zM876.1 1729.6h24v24.4h-24zM884.4 1729.6h24v24.4h-24zM892.6 1729.6h24v24.4h-24zM900.9 1729.6h24v24.4h-24zM909.1 1729.5h24v24.4h-24zM917.4 1729.5h24v24.4h-24zM925.7 1729.5h24v24.4h-24zM933.9 1729.5h24v24.4h-24zM942.2 1729.5h24v24.4h-24zM950.4 1729.5h24v24.4h-24zM958.7 1729.5h24v24.4h-24zM966.9 1729.6h24v24.4h-24zM975.2 1729.6h24v24.4h-24zM983.5 1729.6h24v24.4h-24zM991.7 1729.6h24v24.4h-24zM1000 1729.6h24v24.4h-24zM1008.2 1729.7h24v24.4h-24zM1016.5 1729.7h24v24.4h-24zM1024.7 1729.7h24v24.4h-24zM1033 1729.8h24v24.4h-24zM1041.3 1729.8h24v24.4h-24zM1049.5 1729.8h24v24.4h-24zM1057.8 1729.9h24v24.4h-24zM1066 1729.9h24v24.4h-24zM1074.3 1730h24v24.4h-24zM1082.5 1730h24v24.4h-24zM1090.8 1730.1h24v24.4h-24zM1099.1 1730.1h24v24.4h-24zM1107.3 1730.2h24v24.4h-24zM1115.6 1730.2h24v24.4h-24zM1123.8 1730.1h24v24.4h-24zM1132.1 1730h24v24.4h-24zM1140.3 1730h24v24.4h-24zM1148.6 1729.9h24v24.4h-24zM1156.9 1729.8h24v24.4h-24zM1165.1 1729.7h24v24.4h-24zM1173.4 1729.6h24v24.4h-24zM1181.6 1729.5h24v24.4h-24zM1189.9 1729.4h24v24.4h-24zM1198.1 1729.4h24v24.4h-24zM1206.4 1729.3h24v24.4h-24zM1214.6 1729.2h24v24.4h-24zM1222.9 1729.1h24v24.4h-24zM1231.2 1729h24v24.4h-24zM1239.4 1729h24v24.4h-24zM1247.7 1728.9h24v24.4h-24zM1255.9 1728.8h24v24.4h-24zM1264.2 1728.7h24v24.4h-24zM1272.4 1728.7h24v24.4h-24zM1280.7 1728.6h24v24.4h-24zM1289 1728.5h24v24.4h-24zM1297.2 1728.5h24v24.4h-24zM1305.5 1728.4h24v24.4h-24zM1313.7 1728.3h24v24.4h-24zM1322 1728.3h24v24.4h-24zM1330.2 1728.2h24v24.4h-24zM1338.5 1728.1h24v24.4h-24zM1346.8 1728.1h24v24.4h-24zM1355 1728h24v24.4h-24zM1363.3 1727.9h24v24.4h-24zM1371.5 1727.9h24v24.4h-24zM1379.8 1727.8h24v24.4h-24zM1388 1727.7h24v24.4h-24zM1396.3 1727.7h24v24.4h-24zM1404.6 1727.6h24v24.4h-24zM1412.8 1727.6h24v24.4h-24zM1421.1 1727.5h24v24.4h-24zM1429.3 1727.4h24v24.4h-24zM1437.6 1727.4h24v24.4h-24zM1445.8 1727.3h24v24.4h-24zM1454.1 1727.3h24v24.4h-24zM1462.3 1727.2h24v24.4h-24zM1470.6 1727.1h24v24.4h-24zM1478.9 1727.1h24v24.4h-24zM1487.1 1727h24v24.4h-24zM1495.4 1727h24v24.4h-24zM1503.6 1726.9h24v24.4h-24zM1511.9 1726.9h24v24.4h-24zM1520.1 1726.8h24v24.4h-24zM1528.4 1726.8h24v24.4h-24zM1536.7 1726.7h24v24.4h-24zM1544.9 1726.6h24v24.4h-24zM1553.2 1726.6h24v24.4h-24zM1561.4 1726.5h24v24.4h-24zM1569.7 1726.5h24v24.4h-24zM1577.9 1726.4h24v24.4h-24zM1586.2 1726.4h24v24.4h-24zM1594.5 1726.3h24v24.4h-24zM1602.7 1726.3h24v24.4h-24zM1611 1726.2h24v24.4h-24zM1619.2 1726.2h24v24.4h-24zM1627.5 1726.1h24v24.4h-24zM1635.7 1726.1h24v24.4h-24zM1644 1726h24v24.4h-24zM1652.3 1726h24v24.4h-24zM1660.5 1725.9h24v24.4h-24zM1668.8 1725.9h24v24.4h-24zM1677 1725.8h24v24.4h-24zM1685.3 1725.8h24v24.4h-24zM1693.5 1725.7h24v24.4h-24zM1701.8 1725.7h24v24.4h-24zM1710.1 1725.6h24v24.4h-24zM1718.3 1725.6h24v24.4h-24zM1726.6 1725.5h24v24.4h-24zM1734.8 1725.5h24v24.4h-24zM1743.1 1725.4h24v24.4h-24z"/>
<path fill="#ffff00" d="M235.5 2008.8a14.5 14.5 0 1 0 29 0a14.5 14.5 0 1 0 -29 0zM247 1953.5a14.5 14.5 0 1 0 29 0a14.5 14.5 0 1 0 -29 0zM255.2 1925.5a14.5 14.5 0 1 0 29 0a14.5 14.5 0 1 0 -29 0zM263.5 1910.4a14.5 14.5 0 1 0 29 0a14.5 14.5 0 1 0 -29 0zM271.7 1899.7a14.5 14.5 0 1 0 29 0a14.5 14.5 0 1 0 -29 0zM280 1892a14.5 14.5 0 1 0 29 0a14.5 14.5 0 1 0 -29 0zM288.2 1886.2a14.5 14.5 0 1 0 29 0a14.5 14.5 0 1 0 -29 0zM296.5 1881.9a14.5 14.5 0 1 0 29 0a14.5 14.5 0 1 0 -29 0zM304.8 1878.9a14.5 14.5 0 1 0 29 0a14.5 14.5 0 1 0 -29 0zM313 1876.6a14.5 14.5 0 1 0 29 0a14.5 14.5 0 1 0 -29 0zM321.3 1874.7a14.5 14.5 0 1 0 29 0a14.5 14.5 0 1 0 -29 0zM329.5 1873.2a14.5 14.5 0 1 0 29 0a14.5 14.5 0 1 0 -29 0zM337.8 1871.9a14.5 14.5 0 1 0 29 0a14.5 14.5 0 1 0 -29 0zM346 1870.7a14.5 14.5 0 1 0 29 0a14.5 14.5 0 1 0 -29 0zM354.3 1869.7a14.5 14.5 0 1 0 29 0a14.5 14.5 0 1 0 -29 0zM362.6 1868.8a14.5 14.5 0 1 0 29 0a14.5 14.5 0 1 0 -29 0zM370.8 1867.9a14.5 14.5 0 1 0 29 0a14.5 14.5 0 1 0 -29 0zM379.1 1867.1a14.5 14.5 0 1 0 29 0a14.5 14.5 0 1 0 -29 0zM387.3 1866.4a14.5 14.5 0 1 0 29 0a14.5 14.5 0 1 0 -29 0zM395.6 1865.7a14.5 14.5 0 1 0 29 0a14.5 14.5 0 1 0 -29 0zM403.8 1865a14.5 14.5 0 1 0 29 0a14.5 14.5 0 1 0 -29 0zM412.1 1864.3a14.5 14.5 0 1 0 29 0a14.5 14.5 0 1 0 -29 0zM420.3 1863.7a14.5 14.5 0 1 0 29 0a14.5 14.5 0 1 0 -29 0zM428.6 1863a14.5 14.5 0 1 0 29 0a14.5 14.5 0 1 0 -29 0zM436.9 1862.4a14.5 14.5 0 1 0 29 0a14.5 14.5 0 1 0 -29 0zM445.1 1861.8a14.5 14.5 0 1 0 29 0a14.5 14.5 0 1 0 -29 0zM453.4 1861.3a14.5 14.5 0 1 0 29 0a14.5 14.5 0 1 0 -29 0zM461.6 1860.7a14.5 14.5 0 1 0 29 0a14.5 14.5 0 1 0 -29 0zM469.9 1860.1a14.5 14.5 0 1 0 29 0a14.5 14.5 0 1 0 -29 0zM478.1 1859.6a14.5 14.5 0 1 0 29 0a14.5 14.5 0 1 0 -29 0zM486.4 1859.1a14.5 14.5 0 1 0 29 0a14.5 14.5 0 1 0 -29 0zM494.7 1858.6a14.5 14.5 0 1 0 29 0a14.5 14.5 0 1 0 -29 0zM502.9 1858.1a14.5 14.5 0 1 0 29 0a14.5 14.5 0 1 0 -29 0zM511.2 1857.6a14.5 14.5 0 1 0 29 0a14.5 14.5 0 1 0 -29 0zM519.4 1857.1a14.5 14.5 0 1 0 29 0a14.5 14.5 0 1 0 -29 0zM527.7 1856.6a14.5 14.5 0 1 0 29 0a14.5 14.5 0 1 0 -29 0zM535.9 1856.2a14.5 14.5 0 1 0 29 0a14.5 14.5 0 1 0 -29 0zM544.2 1855.7a14.5 14.5 0 1 0 29 0a14.5 14.5 0 1 0 -29 0zM552.5 1855.3a14.5 14.5 0 1 0 29 0a14.5 14.5 0 1 0 -29 0zM560.7 1854.8a14.5 14.5 0 1 0 29 0a14.5 14.5 0 1 0 -29 0zM569 1854.4a14.5 14.5 0 1 0 29 0a14.5 14.5 0 1 0 -29 0zM577.2 1854a14.5 14.5 0 1 0 29 0a14.5 14.5 0 1 0 -29 0zM585.5 1853.6a14.5 14.5 0 1 0 29 0a14.5 14.5 0 1 0 -29 0zM593.7 1853.2a14.5 14.5 0 1 0 29 0a14.5 14.5 0 1 0 -29 0zM602 1852.8a14.5 14.5 0 1 0 29 0a14.5 14.5 0 1 0 -29 0zM610.3 1852.4a14.5 14.5 0 1 0 29 0a14.5 14.5 0 1 0 -29 0zM618.5 1852.1a14.5 14.5 0 1 0 29 0a14.5 14.5 0 1 0 -29 0zM626.8 1851.7a14.5 14.5 0 1 0 29 0a14.5 14.5 0 1 0 -29 0zM635 1851.3a14.5 14.5 0 1 0 29 0a14.5 14.5 0 1 0 -29 0zM643.3 1851a14.5 14.5 0 1 0 29 0a14.5 14.5 0 1 0 -29 0zM651.5 1850.6a14.5 14.5 0 1 0 29 0a14.5 14.5 0 1 0 -29 0zM659.8 1850.3a14.5 14.5 0 1 0 29 0a14.5 14.5 0 1 0 -29 0zM668 1850a14.5 14.5 0 1 0 29 0a14.5 14.5 0 1 0 -29 0zM676.3 1849.7a14.5 14.5 0 1 0 29 0a14.5 14.5 0 1 0 -29 0zM684.6 1849.4a14.5 14.5 0 1 0 29 0a14.5 14.5 0 1 0 -29 0zM692.8 1849a14.5 14.5 0 1 0 29 0a14.5 14.5 0 1 0 -29 0zM701.1 1848.7a14.5 14.5 0 1 0 29 0a14.5 14.5 0 1 0 -29 0zM709.3 1848.5a14.5 14.5 0 1 0 29 0a14.5 14.5 0 1 0 -29 0zM717.6 1848.2a14.5 14.5 0 1 0 29 0a14.5 14.5 0 1 0 -29 0zM725.8 1847.9a14.5 14.5 0 1 0 29 0a14.5 14.5 0 1 0 -29 0zM734.1 1847.6a14.5 14.5 0 1 0 29 0a14.5 14.5 0 1 0 -29 0zM742.4 1847.3a14.5 14.5 0 1 0 29 0a14.5 14.5 0 1 0 -29 0zM750.6 1847.1a14.5 14.5 0 1 0 29 0a14.5 14.5 0 1 0 -29 0zM758.9 1846.8a14.5 14.5 0 1 0 29 0a14.5 14.5 0 1 0 -29 0zM767.1 1846.6a14.5 14.5 0 1 0 29 0a14.5 14.5 0 1 0 -29 0zM775.4 1846.3a14.5 14.5 0 1 0 29 0a14.5 14.5 0 1 0 -29 0zM783.6 1846.1a14.5 14.5 0 1 0 29 0a14.5 14.5 0 1 0 -29 0zM791.9 1845.8a14.5 14.5 0 1 0 29 0a14.5 14.5 0 1 0 -29 0zM800.2 1845.6a14.5 14.5 0 1 0 29 0a14.5 14.5 0 1 0 -29 0zM808.4 1845.4a14.5 14.5 0 1 0 29 0a14.5 14.5 0 1 0 -29 0zM816.7 1845.2a14.5 14.5 0 1 0 29 0a14.5 14.5 0 1 0 -29 0zM824.9 1845a14.5 14.5 0 1 0 29 0a14.5 14.5 0 1 0 -29 0zM833.2 1844.7a14.5 14.5 0 1 0 29 0a14.5 14.5 0 1 0 -29 0zM841.4 1844.5a14.5 14.5 0 1 0 29 0a14.5 14.5 0 1 0 -29 0zM849.7 1844.3a14.5 14.5 0 1 0 29 0a14.5 14.5 0 1 0 -29 0zM858 1844.1a14.5 14.5 0 1 0 29 0a14.5 14.5 0 1 0 -29 0zM866.2 1843.9a14.5 14.5 0 1 0 29 0a14.5 14.5 0 1 0 -29 0zM874.5 1843.7a14.5 14.5 0 1 0 29 0a14.5 14.5 0 1 0 -29 0zM882.7 1843.6a14.5 14.5 0 1 0 29 0a14.5 14.5 0 1 0 -29 0zM891 1843.4a14.5 14.5 0 1 0 29 0a14.5 14.5 0 1 0 -29 0zM899.2 1843.2a14.5 14.5 0 1 0 29 0a14.5 14.5 0 1 0 -29 0zM907.5 1843a14.5 14.5 0 1 0 29 0a14.5 14.5 0 1 0 -29 0zM915.8 1842.9a14.5 14.5 0 1 0 29 0a14.5 14.5 0 1 0 -29 0zM924 1842.7a14.5 14.5 0 1 0 29 0a14.5 14.5 0 1 0 -29 0zM932.3 1842.5a14.5 14.5 0 1 0 29 0a14.5 14.5 0 1 0 -29 0zM940.5 1842.4a14.5 14.5 0 1 0 29 0a14.5 14.5 0 1 0 -29 0zM948.8 1842.2a14.5 14.5 0 1 0 29 0a14.5 14.5 0 1 0 -29 0zM957 1842.1a14.5 14.5 0 1 0 29 0a14.5 14.5 0 1 0 -29 0zM965.3 1841.9a14.5 14.5 0 1 0 29 0a14.5 14.5 0 1 0 -29 0zM973.5 1841.8a14.5 14.5 0 1 0 29 0a14.5 14.5 0 1 0 -29 0zM981.8 1841.6a14.5 14.5 0 1 0 29 0a14.5 14.5 0 1 0 -29 0zM990.1 1841.5a14.5 14.5 0 1 0 29 0a14.5 14.5 0 1 0 -29 0zM998.3 1841.4a14.5 14.5 0 1 0 29 0a14.5 14.5 0 1 0 -29 0zM1006.6 1841.2a14.5 14.5 0 1 0 29 0a14.5 14.5 0 1 0 -29 0zM1014.8 1841.1a14.5 14.5 0 1 0 29 0a14.5 14.5 0 1 0 -29 0zM1023.1 1841a14.5 14.5 0 1 0 29 0a14.5 14.5 0 1 0 -29 0zM1031.3 1840.8a14.5 14.5 0 1 0 29 0a14.5 14.5 0 1 0 -29 0zM1039.6 1840.7a14.5 14.5 0 1 0 29 0a14.5 14.5 0 1 0 -29 0zM1047.9 1840.6a14.5 14.5 0 1 0 29 0a14.5 14.5 0 1 0 -29 0zM1056.1 1840.5a14.5 14.5 0 1 0 29 0a14.5 14.5 0 1 0 -29 0zM1064.4 1840.4a14.5 14.5 0 1 0 29 0a14.5 14.5 0 1 0 -29 0zM1072.6 1840.3a14.5 14.5 0 1 0 29 0a14.5 14.5 0 1 0 -29 0zM1080.9 1840.2a14.5 14.5 0 1 0 29 0a14.5 14.5 0 1 0 -29 0zM1089.1 1840.1a14.5 14.5 0 1 0 29 0a14.5 14.5 0 1 0 -29 0zM1097.4 1840a14.5 14.5 0 1 0 29 0a14.5 14.5 0 1 0 -29 0zM1105.7 1839.9a14.5 14.5 0 1 0 29 0a14.5 14.5 0 1 0 -29 0zM1113.9 1839.8a14.5 14.5 0 1 0 29 0a14.5 14.5 0 1 0 -29 0zM1122.2 1839.6a14.5 14.5 0 1 0 29 0a14.5 14.5 0 1 0 -29 0zM1130.4 1839.5a14.5 14.5 0 1 0 29 0a14.5 14.5 0 1 0 -29 0zM1138.7 1839.4a14.5 14.5 0 1 0 29 0a14.5 14.5 0 1 0 -29 0zM1146.9 1839.3a14.5 14.5 0 1 0 29 0a14.5 14.5 0 1 0 -29 0zM1155.2 1839.2a14.5 14.5 0 1 0 29 0a14.5 14.5 0 1 0 -29 0zM1163.5 1839.1a14.5 14.5 0 1 0 29 0a14.5 14.5 0 1 0 -29 0zM1171.7 1839a14.5 14.5 0 1 0 29 0a14.5 14.5 0 1 0 -29 0zM1180 1838.9a14.5 14.5 0 1 0 29 0a14.5 14.5 0 1 0 -29 0zM1188.2 1838.8a14.5 14.5 0 1 0 29 0a14.5 14.5 0 1 0 -29 0zM1196.5 1838.7a14.5 14.5 0 1 0 29 0a14.5 14.5 0 1 0 -29 0zM1204.7 1838.6a14.5 14.5 0 1 0 29 0a14.5 14.5 0 1 0 -29 0zM1213 1838.5a14.5 14.5 0 1 0 29 0a14.5 14.5 0 1 0 -29 0zM1221.2 1838.4a14.5 14.5 0 1 0 29 0a14.5 14.5 0 1 0 -29 0zM1229.5 1838.3a14.5 14.5 0 1 0 29 0a14.5 14.5 0 1 0 -29 0zM1237.8 1838.3a14.5 14.5 0 1 0 29 0a14.5 14.5 0 1 0 -29 0zM1246 1838.2a14.5 14.5 0 1 0 29 0a14.5 14.5 0 1 0 -29 0zM1254.3 1838.1a14.5 14.5 0 1 0 29 0a14.5 14.5 0 1 0 -29 0zM1262.5 1838a14.5 14.5 0 1 0 29 0a14.5 14.5 0 1 0 -29 0zM1270.8 1837.9a14.5 14.5 0 1 0 29 0a14.5 14.5 0 1 0 -29 0zM1279 1837.8a14.5 14.5 0 1 0 29 0a14.5 14.5 0 1 0 -29 0zM1287.3 1837.8a14.5 14.5 0 1 0 29 0a14.5 14.5 0 1 0 -29 0zM1295.6 1837.7a14.5 14.5 0 1 0 29 0a14.5 14.5 0 1 0 -29 0zM1303.8 1837.6a14.5 14.5 0 1 0 29 0a14.5 14.5 0 1 0 -29 0zM1312.1 1837.5a14.5 14.5 0 1 0 29 0a14.5 14.5 0 1 0 -29 0zM1320.3 1837.5a14.5 14.5 0 1 0 29 0a14.5 14.5 0 1 0 -29 0zM1328.6 1837.4a14.5 14.5 0 1 0 29 0a14.5 14.5 0 1 0 -29 0zM1336.8 1837.3a14.5 14.5 0 1 0 29 0a14.5 14.5 0 1 0 -29 0zM1345.1 1837.3a14.5 14.5 0 1 0 29 0a14.5 14.5 0 1 0 -29 0zM1353.4 1837.2a14.5 14.5 0 1 0 29 0a14.5 14.5 0 1 0 -29 0zM1361.6 1837.1a14.5 14.5 0 1 0 29 0a14.5 14.5 0 1 0 -29 0zM1369.9 1837.1a14.5 14.5 0 1 0 29 0a14.5 14.5 0 1 0 -29 0zM1378.1 1837a14.5 14.5 0 1 0 29 0a14.5 14.5 0 1 0 -29 0zM1386.4 1836.9a14.5 14.5 0 1 0 29 0a14.5 14.5 0 1 0 -29 0zM1394.6 1836.9a14.5 14.5 0 1 0 29 0a14.5 14.5 0 1 0 -29 0zM1402.9 1836.8a14.5 14.5 0 1 0 29 0a14.5 14.5 0 1 0 -29 0zM1411.2 1836.8a14.5 14.5 0 1 0 29 0a14.5 14.5 0 1 0 -29 0zM1419.4 1836.7a14.5 14.5 0 1 0 29 0a14.5 14.5 0 1 0 -29 0zM1427.7 1836.7a14.5 14.5 0 1 0 29 0a14.5 14.5 0 1 0 -29 0zM1435.9 1836.6a14.5 14.5 0 1 0 29 0a14.5 14.5 0 1 0 -29 0zM1444.2 1836.6a14.5 14.5 0 1 0 29 0a14.5 14.5 0 1 0 -29 0zM1452.4 1836.5a14.5 14.5 0 1 0 29 0a14.5 14.5 0 1 0 -29 0zM1460.7 1836.4a14.5 14.5 0 1 0 29 0a14.5 14.5 0 1 0 -29 0zM1469 1836.4a14.5 14.5 0 1 0 29 0a14.5 14.5 0 1 0 -29 0zM1477.2 1836.3a14.5 14.5 0 1 0 29 0a14.5 14.5 0 1 0 -29 0zM1485.5 1836.3a14.5 14.5 0 1 0 29 0a14.5 14.5 0 1 0 -29 0zM1493.7 1836.3a14.5 14.5 0 1 0 29 0a14.5 14.5 0 1 0 -29 0zM1502 1836.2a14.5 14.5 0 1 0 29 0a14.5 14.5 0 1 0 -29 0zM1510.2 1836.2a14.5 14.5 0 1 0 29 0a14.5 14.5 0 1 0 -29 0zM1518.5 1836.1a14.5 14.5 0 1 0 29 0a14.5 14.5 0 1 0 -29 0zM1526.7 1836.1a14.5 14.5 0 1 0 29 0a14.5 14.5 0 1 0 -29 0zM1535 1836a14.5 14.5 0 1 0 29 0a14.5 14.5 0 1 0 -29 0zM1543.3 1836a14.5 14.5 0 1 0 29 0a14.5 14.5 0 1 0 -29 0zM1551.5 1835.9a14.5 14.5 0 1 0 29 0a14.5 14.5 0 1 0 -29 0zM1559.8 1835.9a14.5 14.5 0 1 0 29 0a14.5 14.5 0 1 0 -29 0zM1568 1835.9a14.5 14.5 0 1 0 29 0a14.5 14.5 0 1 0 -29 0zM1576.3 1835.8a14.5 14.5 0 1 0 29 0a14.5 14.5 0 1 0 -29 0zM1584.5 1835.8a14.5 14.5 0 1 0 29 0a14.5 14.5 0 1 0 -29 0zM1592.8 1835.8a14.5 14.5 0 1 0 29 0a14.5 14.5 0 1 0 -29 0zM1601.1 1835.7a14.5 14.5 0 1 0 29 0a14.5 14.5 0 1 0 -29 0zM1609.3 1835.7a14.5 14.5 0 1 0 29 0a14.5 14.5 0 1 0 -29 0zM1617.6 1835.6a14.5 14.5 0 1 0 29 0a14.5 14.5 0 1 0 -29 0zM1625.8 1835.6a14.5 14.5 0 1 0 29 0a14.5 14.5 0 1 0 -29 0zM1634.1 1835.6a14.5 14.5 0 1 0 29 0a14.5 14.5 0 1 0 -29 0zM1642.3 1835.5a14.5 14.5 0 1 0 29 0a14.5 14.5 0 1 0 -29 0zM1650.6 1835.5a14.5 14.5 0 1 0 29 0a14.5 14.5 0 1 0 -29 0zM1658.9 1835.5a14.5 14.5 0 1 0 29 0a14.5 14.5 0 1 0 -29 0zM1667.1 1835.4a14.5 14.5 0 1 0 29 0a14.5 14.5 0 1 0 -29 0zM1675.4 1835.4a14.5 14.5 0 1 0 29 0a14.5 14.5 0 1 0 -29 0zM1683.6 1835.4a14.5 14.5 0 1 0 29 0a14.5 14.5 0 1 0 -29 0zM1691.9 1835.4a14.5 14.5 0 1 0 29 0a14.5 14.5 0 1 0 -29 0zM1700.1 1835.3a14.5 14.5 0 1 0 29 0a14.5 14.5 0 1 0 -29 0zM1708.4 1835.3a14.5 14.5 0 1 0 29 0a14.5 14.5 0 1 0 -29 0zM1716.7 1835.3a14.5 14.5 0 1 0 29 0a14.5 14.5 0 1 0 -29 0zM1724.9 1835.2a14.5 14.5 0 1 0 29 0a14.5 14.5 0 1 0 -29 0zM1733.2 1835.2a14.5 14.5 0 1 0 29 0a14.5 14.5 0 1 0 -29 0z"/>
<path fill="#00ff00" d="M250 2133.7l16.5 28h-33zM262.4 2072.8l16.5 28h-33zM270.7 2043.9l16.5 28h-33zM278.9 2022.3l16.5 28h-33zM287.2 2010l16.5 28h-33zM295.4 2000.6l16.5 28h-33zM303.7 1991.9l16.5 28h-33zM312 1984.6l16.5 28h-33zM320.2 1978.6l16.5 28h-33zM328.5 1973.7l16.5 28h-33zM336.7 1969.7l16.5 28h-33zM345 1966.2l16.5 28h-33zM353.2 1963.3l16.5 28h-33zM361.5 1960.8l16.5 28h-33zM369.8 1958.7l16.5 28h-33zM378 1956.7l16.5 28h-33zM386.3 1955l16.5 28h-33zM394.5 1953.5l16.5 28h-33zM402.8 1952l16.5 28h-33zM411 1950.7l16.5 28h-33zM419.3 1949.5l16.5 28h-33zM427.6 1948.4l16.5 28h-33zM435.8 1947.3l16.5 28h-33zM444.1 1946.2l16.5 28h-33zM452.3 1945.2l16.5 28h-33zM460.6 1944.3l16.5 28h-33zM468.8 1943.3l16.5 28h-33zM477.1 1942.4l16.5 28h-33zM485.4 1941.6l16.5 28h-33zM493.6 1940.7l16.5 28h-33zM501.9 1939.9l16.5 28h-33zM510.1 1939l16.5 28h-33zM518.4 1938.2l16.5 28h-33zM526.6 1937.4l16.5 28h-33zM534.9 1936.6l16.5 28h-33zM543.1 1935.9l16.5 28h-33zM551.4 1935.2l16.5 28h-33zM559.7 1934.4l16.5 28h-33zM567.9 1933.7l16.5 28h-33zM576.2 1933l16.5 28h-33zM584.4 1932.3l16.5 28h-33zM592.7 1931.7l16.5 28h-33zM600.9 1931l16.5 28h-33zM609.2 1930.3l16.5 28h-33zM617.5 1929.8l16.5 28h-33zM625.7 1929.4l16.5 28h-33zM634 1928.9l16.5 28h-33zM642.2 1928.5l16.5 28h-33zM650.5 1928l16.5 28h-33zM658.7 1927.6l16.5 28h-33zM667 1927.2l16.5 28h-33zM675.3 1926.8l16.5 28h-33zM683.5 1926.4l16.5 28h-33zM691.8 1926l16.5 28h-33zM700 1925.6l16.5 28h-33zM708.3 1925.2l16.5 28h-33zM716.5 1924.8l16.5 28h-33zM724.8 1924.4l16.5 28h-33zM733.1 1924l16.5 28h-33zM741.3 1923.7l16.5 28h-33zM749.6 1923.3l16.5 28h-33zM757.8 1923l16.5 28h-33zM766.1 1922.6l16.5 28h-33zM774.3 1922.3l16.5 28h-33zM782.6 1922l16.5 28h-33zM790.9 1921.6l16.5 28h-33zM799.1 1921.3l16.5 28h-33zM807.4 1921l16.5 28h-33zM815.6 1920.7l16.5 28h-33zM823.9 1920.4l16.5 28h-33zM832.1 1920.1l16.5 28h-33zM840.4 1919.8l16.5 28h-33zM848.6 1919.5l16.5 28h-33zM856.9 1919.2l16.5 28h-33zM865.2 1918.8l16.5 28h-33zM873.4 1918.5l16.5 28h-33zM881.7 1918.1l16.5 28h-33zM889.9 1917.8l16.5 28h-33zM898.2 1917.4l16.5 28h-33zM906.4 1917.1l16.5 28h-33zM914.7 1916.8l16.5 28h-33zM923 1916.4l16.5 28h-33zM931.2 1916.1l16.5 28h-33zM939.5 1915.8l16.5 28h-33zM947.7 1915.5l16.5 28h-33zM956 1915.2l16.5 28h-33zM964.2 1914.9l16.5 28h-33zM972.5 1914.6l16.5 28h-33zM980.8 1914.3l16.5 28h-33zM989 1914l16.5 28h-33zM997.3 1913.7l16.5 28h-33zM1005.5 1913.4l16.5 28h-33zM1013.8 1913.1l16.5 28h-33zM1022 1912.8l16.5 28h-33zM1030.3 1912.5l16.5 28h-33zM1038.6 1912.3l16.5 28h-33zM1046.8 1912l16.5 28h-33zM1055.1 1911.7l16.5 28h-33zM1063.3 1911.5l16.5 28h-33zM1071.6 1911.2l16.5 28h-33zM1079.8 1911l16.5 28h-33zM1088.1 1910.7l16.5 28h-33zM1096.3 1910.5l16.5 28h-33zM1104.6 1910.2l16.5 28h-33zM1112.9 1910l16.5 28h-33zM1121.1 1909.7l16.5 28h-33zM1129.4 1909.5l16.5 28h-33zM1137.6 1909.3l16.5 28h-33zM1145.9 1909l16.5 28h-33zM1154.1 1908.8l16.5 28h-33zM1162.4 1908.6l16.5 28h-33zM1170.7 1908.4l16.5 28h-33zM1178.9 1908.1l16.5 28h-33zM1187.2 1907.9l16.5 28h-33zM1195.4 1907.7l16.5 28h-33zM1203.7 1907.5l16.5 28h-33zM1211.9 1907.3l16.5 28h-33zM1220.2 1907.1l16.5 28h-33zM1228.5 1906.9l16.5 28h-33zM1236.7 1906.7l16.5 28h-33zM1245 1906.5l16.5 28h-33zM1253.2 1906.3l16.5 28h-33zM1261.5 1906.1l16.5 28h-33zM1269.7 1905.9l16.5 28h-33zM1278 1905.7l16.5 28h-33zM1286.3 1905.5l16.5 28h-33zM1294.5 1905.4l16.5 28h-33zM1302.8 1905.2l16.5 28h-33zM1311 1905l16.5 28h-33zM1319.3 1904.8l16.5 28h-33zM1327.5 1904.6l16.5 28h-33zM1335.8 1904.5l16.5 28h-33zM1344.1 1904.3l16.5 28h-33zM1352.3 1904.1l16.5 28h-33zM1360.6 1904l16.5 28h-33zM1368.8 1903.8l16.5 28h-33zM1377.1 1903.6l16.5 28h-33zM1385.3 1903.5l16.5 28h-33zM1393.6 1903.3l16.5 28h-33zM1401.8 1903.2l16.5 28h-33zM1410.1 1903l16.5 28h-33zM1418.4 1902.9l16.5 28h-33zM1426.6 1902.7l16.5 28h-33zM1434.9 1902.5l16.5 28h-33zM1443.1 1902.4l16.5 28h-33zM1451.4 1902.3l16.5 28h-33zM1459.6 1902.1l16.5 28h-33zM1467.9 1902l16.5 28h-33zM1476.2 1901.8l16.5 28h-33zM1484.4 1901.7l16.5 28h-33zM1492.7 1901.5l16.5 28h-33zM1500.9 1901.4l16.5 28h-33zM1509.2 1901.3l16.5 28h-33zM1517.4 1901.1l16.5 28h-33zM1525.7 1901l16.5 28h-33zM1534 1900.9l16.5 28h-33zM1542.2 1900.7l16.5 28h-33zM1550.5 1900.6l16.5 28h-33zM1558.7 1900.5l16.5 28h-33zM1567 1900.4l16.5 28h-33zM1575.2 1900.2l16.5 28h-33zM1583.5 1900.1l16.5 28h-33zM1591.8 1900l16.5 28h-33zM1600 1899.9l16.5 28h-33zM1608.3 1899.7l16.5 28h-33zM1616.5 1899.6l16.5 28h-33zM1624.8 1899.5l16.5 28h-33zM1633 1899.4l16.5 28h-33zM1641.3 1899.3l16.5 28h-33zM1649.5 1899.2l16.5 28h-33zM1657.8 1899.1l16.5 28h-33zM1666.1 1898.9l16.5 28h-33zM1674.3 1898.8l16.5 28h-33zM1682.6 1898.7l16.5 28h-33zM1690.8 1898.6l16.5 28h-33zM1699.1 1898.5l16.5 28h-33zM1707.3 1898.4l16.5 28h-33zM1715.6 1898.3l16.5 28h-33zM1723.9 1898.2l16.5 28h-33zM1732.1 1898.1l16.5 28h-33zM1740.4 1898l16.5 28h-33zM1748.6 1897.9l16.5 28h-33z"/>
<path fill="#0000ff" d="M250 2280.6l-16.5 -28h33zM262.7 2238.2l-16.5 -28h33zM270.9 2209.5l-16.5 -28h33zM279.2 2187.6l-16.5 -28h33zM287.4 2170.2l-16.5 -28h33zM295.7 2155.6l-16.5 -28h33zM303.9 2143.1l-16.5 -28h33zM312.2 2132.5l-16.5 -28h33zM320.5 2124.1l-16.5 -28h33zM328.7 2117l-16.5 -28h33zM337 2111.1l-16.5 -28h33zM345.2 2106l-16.5 -28h33zM353.5 2101.6l-16.5 -28h33zM361.7 2097.8l-16.5 -28h33zM370 2094.6l-16.5 -28h33zM378.3 2091.8l-16.5 -28h33zM386.5 2089.3l-16.5 -28h33zM394.8 2087.1l-16.5 -28h33zM403 2085.2l-16.5 -28h33zM411.3 2083.5l-16.5 -28h33zM419.5 2081.9l-16.5 -28h33zM427.8 2080.6l-16.5 -28h33zM436.1 2079.3l-16.5 -28h33zM444.3 2078.2l-16.5 -28h33zM452.6 2077.1l-16.5 -28h33zM460.8 2076.1l-16.5 -28h33zM469.1 2075.2l-16.5 -28h33zM477.3 2074.4l-16.5 -28h33zM485.6 2073.6l-16.5 -28h33zM493.8 2072.8l-16.5 -28h33zM502.1 2072.1l-16.5 -28h33zM510.4 2071.4l-16.5 -28h33zM518.6 2070.8l-16.5 -28h33zM526.9 2070.2l-16.5 -28h33zM535.1 2069.6l-16.5 -28h33zM543.4 2068.9l-16.5 -28h33zM551.6 2068.1l-16.5 -28h33zM559.9 2067.4l-16.5 -28h33zM568.2 2066.7l-16.5 -28h33zM576.4 2066l-16.5 -28h33zM584.7 2065.3l-16.5 -28h33zM592.9 2064.6l-16.5 -28h33zM601.2 2064l-16.5 -28h33zM609.4 2063.3l-16.5 -28h33zM617.7 2062.9l-16.5 -28h33zM626 2062.5l-16.5 -28h33zM634.2 2062.1l-16.5 -28h33zM642.5 2061.7l-16.5 -28h33zM650.7 2061.3l-16.5 -28h33zM659 2060.9l-16.5 -28h33zM667.2 2060.5l-16.5 -28h33zM675.5 2060.1l-16.5 -28h33zM683.8 2059.8l-16.5 -28h33zM692 2059.4l-16.5 -28h33zM700.3 2059.1l-16.5 -28h33zM708.5 2058.7l-16.5 -28h33zM716.8 2058.3l-16.5 -28h33zM725 2058l-16.5 -28h33zM733.3 2057.7l-16.5 -28h33zM741.6 2057.3l-16.5 -28h33zM749.8 2057l-16.5 -28h33zM758.1 2056.6l-16.5 -28h33zM766.3 2056.3l-16.5 -28h33zM774.6 2056l-16.5 -28h33zM782.8 2055.6l-16.5 -28h33zM791.1 2055.3l-16.5 -28h33zM799.3 2055l-16.5 -28h33zM807.6 2054.7l-16.5 -28h33zM815.9 2054.4l-16.5 -28h33zM824.1 2054.1l-16.5 -28h33zM832.4 2053.8l-16.5 -28h33zM840.6 2053.4l-16.5 -28h33zM848.9 2053.1l-16.5 -28h33zM857.1 2052.8l-16.5 -28h33zM865.4 2052.5l-16.5 -28h33zM873.7 2052.3l-16.5 -28h33zM881.9 2052l-16.5 -28h33zM890.2 2051.7l-16.5 -28h33zM898.4 2051.4l-16.5 -28h33zM906.7 2051.1l-16.5 -28h33zM914.9 2050.8l-16.5 -28h33zM923.2 2050.5l-16.5 -28h33zM931.5 2050.3l-16.5 -28h33zM939.7 2050l-16.5 -28h33zM948 2049.7l-16.5 -28h33zM956.2 2049.4l-16.5 -28h33zM964.5 2049.2l-16.5 -28h33zM972.7 2048.9l-16.5 -28h33zM981 2048.6l-16.5 -28h33zM989.3 2048.4l-16.5 -28h33zM997.5 2048.1l-16.5 -28h33zM1005.8 2047.9l-16.5 -28h33zM1014 2047.6l-16.5 -28h33zM1022.3 2047.3l-16.5 -28h33zM1030.5 2047.1l-16.5 -28h33zM1038.8 2046.8l-16.5 -28h33zM1047 2046.6l-16.5 -28h33zM1055.3 2046.3l-16.5 -28h33zM1063.6 2046.1l-16.5 -28h33zM1071.8 2045.9l-16.5 -28h33zM1080.1 2045.6l-16.5 -28h33zM1088.3 2045.4l-16.5 -28h33zM1096.6 2045.2l-16.5 -28h33zM1104.8 2044.9l-16.5 -28h33zM1113.1 2044.7l-16.5 -28h33zM1121.4 2044.5l-16.5 -28h33zM1129.6 2044.2l-16.5 -28h33zM1137.9 2044l-16.5 -28h33zM1146.1 2043.7l-16.5 -28h33zM1154.4 2043.5l-16.5 -28h33zM1162.6 2043.3l-16.5 -28h33zM1170.9 2043l-16.5 -28h33zM1179.2 2042.8l-16.5 -28h33zM1187.4 2042.5l-16.5 -28h33zM1195.7 2042.3l-16.5 -28h33zM1203.9 2042.1l-16.5 -28h33zM1212.2 2041.9l-16.5 -28h33zM1220.4 2041.6l-16.5 -28h33zM1228.7 2041.4l-16.5 -28h33zM1237 2041.2l-16.5 -28h33zM1245.2 2040.9l-16.5 -28h33zM1253.5 2040.7l-16.5 -28h33zM1261.7 2040.5l-16.5 -28h33zM1270 2040.3l-16.5 -28h33zM1278.2 2040.1l-16.5 -28h33zM1286.5 2039.9l-16.5 -28h33zM1294.8 2039.6l-16.5 -28h33zM1303 2039.4l-16.5 -28h33zM1311.3 2039.2l-16.5 -28h33zM1319.5 2039l-16.5 -28h33zM1327.8 2038.8l-16.5 -28h33zM1336 2038.6l-16.5 -28h33zM1344.3 2038.4l-16.5 -28h33zM1352.5 2038.2l-16.5 -28h33zM1360.8 2038l-16.5 -28h33zM1369.1 2037.8l-16.5 -28h33zM1377.3 2037.6l-16.5 -28h33zM1385.6 2037.4l-16.5 -28h33zM1393.8 2037.2l-16.5 -28h33zM1402.1 2037l-16.5 -28h33zM1410.3 2036.8l-16.5 -28h33zM1418.6 2036.6l-16.5 -28h33zM1426.9 2036.4l-16.5 -28h33zM1435.1 2036.3l-16.5 -28h33zM1443.4 2036.1l-16.5 -28h33zM1451.6 2035.9l-16.5 -28h33zM1459.9 2035.7l-16.5 -28h33zM1468.1 2035.5l-16.5 -28h33zM1476.4 2035.3l-16.5 -28h33zM1484.7 2035.2l-16.5 -28h33zM1492.9 2035l-16.5 -28h33zM1501.2 2034.8l-16.5 -28h33zM1509.4 2034.6l-16.5 -28h33zM1517.7 2034.4l-16.5 -28h33zM1525.9 2034.3l-16.5 -28h33zM1534.2 2034.1l-16.5 -28h33zM1542.5 2033.9l-16.5 -28h33zM1550.7 2033.8l-16.5 -28h33zM1559 2033.6l-16.5 -28h33zM1567.2 2033.4l-16.5 -28h33zM1575.5 2033.3l-16.5 -28h33zM1583.7 2033.1l-16.5 -28h33zM1592 2032.9l-16.5 -28h33zM1600.2 2032.8l-16.5 -28h33zM1608.5 2032.6l-16.5 -28h33zM1616.8 2032.4l-16.5 -28h33zM1625 2032.3l-16.5 -28h33zM1633.3 2032.1l-16.5 -28h33zM1641.5 2032l-16.5 -28h33zM1649.8 2031.8l-16.5 -28h33zM1658 2031.7l-16.5 -28h33zM1666.3 2031.5l-16.5 -28h33zM1674.6 2031.4l-16.5 -28h33zM1682.8 2031.2l-16.5 -28h33zM1691.1 2031.1l-16.5 -28h33zM1699.3 2030.9l-16.5 -28h33zM1707.6 2030.8l-16.5 -28h33zM1715.8 2030.6l-16.5 -28h33zM1724.1 2030.5l-16.5 -28h33zM1732.4 2030.3l-16.5 -28h33zM1740.6 2030.2l-16.5 -28h33zM1748.9 2030l-16.5 -28h33z"/>
<path fill="#00ffff" d="M250 2410.7l17 17l-17 17l-17 -17zM260.9 2355.9l17 17l-17 17l-17 -17zM269.1 2328.2l17 17l-17 17l-17 -17zM277.4 2302l17 17l-17 17l-17 -17zM285.6 2275.7l17 17l-17 17l-17 -17zM293.9 2255.1l17 17l-17 17l-17 -17zM302.1 2237.9l17 17l-17 17l-17 -17zM310.4 2222.7l17 17l-17 17l-17 -17zM318.7 2209.2l17 17l-17 17l-17 -17zM326.9 2197.4l17 17l-17 17l-17 -17zM335.2 2186.9l17 17l-17 17l-17 -17zM343.4 2177.6l17 17l-17 17l-17 -17zM351.7 2169.4l17 17l-17 17l-17 -17zM359.9 2162.1l17 17l-17 17l-17 -17zM368.2 2155.6l17 17l-17 17l-17 -17zM376.4 2149.9l17 17l-17 17l-17 -17zM384.7 2144.8l17 17l-17 17l-17 -17zM393 2140.3l17 17l-17 17l-17 -17zM401.2 2136.2l17 17l-17 17l-17 -17zM409.5 2132.6l17 17l-17 17l-17 -17zM417.7 2129.4l17 17l-17 17l-17 -17zM426 2126.5l17 17l-17 17l-17 -17zM434.2 2123.9l17 17l-17 17l-17 -17zM442.5 2121.6l17 17l-17 17l-17 -17zM450.8 2119.6l17 17l-17 17l-17 -17zM459 2117.7l17 17l-17 17l-17 -17zM467.3 2116l17 17l-17 17l-17 -17zM475.5 2114.5l17 17l-17 17l-17 -17zM483.8 2113.1l17 17l-17 17l-17 -17zM492 2111.8l17 17l-17 17l-17 -17zM500.3 2110.7l17 17l-17 17l-17 -17zM508.6 2109.6l17 17l-17 17l-17 -17zM516.8 2108.7l17 17l-17 17l-17 -17zM525.1 2107.8l17 17l-17 17l-17 -17zM533.3 2107l17 17l-17 17l-17 -17zM541.6 2106.3l17 17l-17 17l-17 -17zM549.8 2105.7l17 17l-17 17l-17 -17zM558.1 2105.1l17 17l-17 17l-17 -17zM566.4 2104.6l17 17l-17 17l-17 -17zM574.6 2104.1l17 17l-17 17l-17 -17zM582.9 2103.6l17 17l-17 17l-17 -17zM591.1 2103.2l17 17l-17 17l-17 -17zM599.4 2102.8l17 17l-17 17l-17 -17zM607.6 2102.4l17 17l-17 17l-17 -17zM615.9 2102l17 17l-17 17l-17 -17zM624.1 2101.5l17 17l-17 17l-17 -17zM632.4 2101l17 17l-17 17l-17 -17zM640.7 2100.6l17 17l-17 17l-17 -17zM648.9 2100.1l17 17l-17 17l-17 -17zM657.2 2099.7l17 17l-17 17l-17 -17zM665.4 2099.3l17 17l-17 17l-17 -17zM673.7 2098.9l17 17l-17 17l-17 -17zM681.9 2098.5l17 17l-17 17l-17 -17zM690.2 2098.2l17 17l-17 17l-17 -17zM698.5 2097.8l17 17l-17 17l-17 -17zM706.7 2097.4l17 17l-17 17l-17 -17zM715 2097.1l17 17l-17 17l-17 -17zM723.2 2096.7l17 17l-17 17l-17 -17zM731.5 2096.4l17 17l-17 17l-17 -17zM739.7 2096.1l17 17l-17 17l-17 -17zM748 2095.8l17 17l-17 17l-17 -17zM756.3 2095.4l17 17l-17 17l-17 -17zM764.5 2095.1l17 17l-17 17l-17 -17zM772.8 2094.8l17 17l-17 17l-17 -17zM781 2094.5l17 17l-17 17l-17 -17zM789.3 2094.2l17 17l-17 17l-17 -17zM797.5 2093.9l17 17l-17 17l-17 -17zM805.8 2093.6l17 17l-17 17l-17 -17zM814.1 2093.3l17 17l-17 17l-17 -17zM822.3 2093l17 17l-17 17l-17 -17zM830.6 2092.8l17 17l-17 17l-17 -17zM838.8 2092.5l17 17l-17 17l-17 -17zM847.1 2092.2l17 17l-17 17l-17 -17zM855.3 2091.9l17 17l-17 17l-17 -17zM863.6 2091.7l17 17l-17 17l-17 -17zM871.9 2091.4l17 17l-17 17l-17 -17zM880.1 2091.1l17 17l-17 17l-17 -17zM888.4 2090.9l17 17l-17 17l-17 -17zM896.6 2090.6l17 17l-17 17l-17 -17zM904.9 2090.3l17 17l-17 17l-17 -17zM913.1 2090.1l17 17l-17 17l-17 -17zM921.4 2089.8l17 17l-17 17l-17 -17zM929.6 2089.6l17 17l-17 17l-17 -17zM937.9 2089.3l17 17l-17 17l-17 -17zM946.2 2089l17 17l-17 17l-17 -17zM954.4 2088.8l17 17l-17 17l-17 -17zM962.7 2088.5l17 17l-17 17l-17 -17zM970.9 2088.3l17 17l-17 17l-17 -17zM979.2 2088l17 17l-17 17l-17 -17zM987.4 2087.8l17 17l-17 17l-17 -17zM995.7 2087.6l17 17l-17 17l-17 -17zM1004 2087.3l17 17l-17 17l-17 -17zM1012.2 2087.1l17 17l-17 17l-17 -17zM1020.5 2086.8l17 17l-17 17l-17 -17zM1028.7 2086.6l17 17l-17 17l-17 -17zM1037 2086.4l17 17l-17 17l-17 -17zM1045.2 2086.1l17 17l-17 17l-17 -17zM1053.5 2085.9l17 17l-17 17l-17 -17zM1061.8 2085.7l17 17l-17 17l-17 -17zM1070 2085.4l17 17l-17 17l-17 -17zM1078.3 2085.2l17 17l-17 17l-17 -17zM1086.5 2085l17 17l-17 17l-17 -17zM1094.8 2084.7l17 17l-17 17l-17 -17zM1103 2084.5l17 17l-17 17l-17 -17zM1111.3 2084.3l17 17l-17 17l-17 -17zM1119.6 2084.1l17 17l-17 17l-17 -17zM1127.8 2083.9l17 17l-17 17l-17 -17zM1136.1 2083.7l17 17l-17 17l-17 -17zM1144.3 2083.5l17 17l-17 17l-17 -17zM1152.6 2083.3l17 17l-17 17l-17 -17zM1160.8 2083.2l17 17l-17 17l-17 -17zM1169.1 2083l17 17l-17 17l-17 -17zM1177.3 2082.8l17 17l-17 17l-17 -17zM1185.6 2082.7l17 17l-17 17l-17 -17zM1193.9 2082.5l17 17l-17 17l-17 -17zM1202.1 2082.3l17 17l-17 17l-17 -17zM1210.4 2082.2l17 17l-17 17l-17 -17zM1218.6 2082l17 17l-17 17l-17 -17zM1226.9 2081.8l17 17l-17 17l-17 -17zM1235.1 2081.7l17 17l-17 17l-17 -17zM1243.4 2081.5l17 17l-17 17l-17 -17zM1251.7 2081.4l17 17l-17 17l-17 -17zM1259.9 2081.2l17 17l-17 17l-17 -17zM1268.2 2081l17 17l-17 17l-17 -17zM1276.4 2080.9l17 17l-17 17l-17 -17zM1284.7 2080.7l17 17l-17 17l-17 -17zM1292.9 2080.6l17 17l-17 17l-17 -17zM1301.2 2080.4l17 17l-17 17l-17 -17zM1309.5 2080.3l17 17l-17 17l-17 -17zM1317.7 2080.1l17 17l-17 17l-17 -17zM1326 2080l17 17l-17 17l-17 -17zM1334.2 2079.8l17 17l-17 17l-17 -17zM1342.5 2079.7l17 17l-17 17l-17 -17zM1350.7 2079.5l17 17l-17 17l-17 -17zM1359 2079.4l17 17l-17 17l-17 -17zM1367.3 2079.2l17 17l-17 17l-17 -17zM1375.5 2079.1l17 17l-17 17l-17 -17zM1383.8 2079l17 17l-17 17l-17 -17zM1392 2078.8l17 17l-17 17l-17 -17zM1400.3 2078.7l17 17l-17 17l-17 -17zM1408.5 2078.5l17 17l-17 17l-17 -17zM1416.8 2078.4l17 17l-17 17l-17 -17zM1425.1 2078.3l17 17l-17 17l-17 -17zM1433.3 2078.1l17 17l-17 17l-17 -17zM1441.6 2078l17 17l-17 17l-17 -17zM1449.8 2077.8l17 17l-17 17l-17 -17zM1458.1 2077.7l17 17l-17 17l-17 -17zM1466.3 2077.6l17 17l-17 17l-17 -17zM1474.6 2077.4l17 17l-17 17l-17 -17zM1482.8 2077.3l17 17l-17 17l-17 -17zM1491.1 2077.2l17 17l-17 17l-17 -17zM1499.4 2077.1l17 17l-17 17l-17 -17zM1507.6 2076.9l17 17l-17 17l-17 -17zM1515.9 2076.8l17 17l-17 17l-17 -17zM1524.1 2076.7l17 17l-17 17l-17 -17zM1532.4 2076.5l17 17l-17 17l-17 -17zM1540.6 2076.4l17 17l-17 17l-17 -17zM1548.9 2076.3l17 17l-17 17l-17 -17zM1557.2 2076.2l17 17l-17 17l-17 -17zM1565.4 2076l17 17l-17 17l-17 -17zM1573.7 2075.9l17 17l-17 17l-17 -17zM1581.9 2075.8l17 17l-17 17l-17 -17zM1590.2 2075.7l17 17l-17 17l-17 -17zM1598.4 2075.5l17 17l-17 17l-17 -17zM1606.7 2075.4l17 17l-17 17l-17 -17zM1615 2075.3l17 17l-17 17l-17 -17zM1623.2 2075.2l17 17l-17 17l-17 -17zM1631.5 2075.1l17 17l-17 17l-17 -17zM1639.7 2074.9l17 17l-17 17l-17 -17zM1648 2074.8l17 17l-17 17l-17 -17zM1656.2 2074.7l17 17l-17 17l-17 -17zM1664.5 2074.6l17 17l-17 17l-17 -17zM1672.8 2074.5l17 17l-17 17l-17 -17zM1681 2074.4l17 17l-17 17l-17 -17zM1689.3 2074.2l17 17l-17 17l-17 -17zM1697.5 2074.1l17 17l-17 17l-17 -17zM1705.8 2074l17 17l-17 17l-17 -17zM1714 2073.9l17 17l-17 17l-17 -17zM1722.3 2073.8l17 17l-17 17l-17 -17zM1730.5 2073.7l17 17l-17 17l-17 -17zM1738.8 2073.6l17 17l-17 17l-17 -17zM1747.1 2073.5l17 17l-17 17l-17 -17zM1755.3 2073.4l17 17l-17 17l-17 -17z"/>
<path fill="#c0c0c0" d="M233 2535.7l30 -16.5v33zM243.9 2488.8l30 -16.5v33zM252.1 2463.5l30 -16.5v33zM260.4 2440.2l30 -16.5v33zM268.6 2418.9l30 -16.5v33zM276.9 2399.4l30 -16.5v33zM285.1 2381.5l30 -16.5v33zM293.4 2365.1l30 -16.5v33zM301.7 2350l30 -16.5v33zM309.9 2336.2l30 -16.5v33zM318.2 2323.4l30 -16.5v33zM326.4 2311.8l30 -16.5v33zM334.7 2301l30 -16.5v33zM342.9 2291.2l30 -16.5v33zM351.2 2282.1l30 -16.5v33zM359.4 2273.8l30 -16.5v33zM367.7 2266.1l30 -16.5v33zM376 2259l30 -16.5v33zM384.2 2252.5l30 -16.5v33zM392.5 2246.5l30 -16.5v33zM400.7 2241l30 -16.5v33zM409 2235.9l30 -16.5v33zM417.2 2231.2l30 -16.5v33zM425.5 2226.8l30 -16.5v33zM433.8 2222.8l30 -16.5v33zM442 2219.1l30 -16.5v33zM450.3 2215.6l30 -16.5v33zM458.5 2212.5l30 -16.5v33zM466.8 2209.5l30 -16.5v33zM475 2206.8l30 -16.5v33zM483.3 2204.2l30 -16.5v33zM491.6 2201.9l30 -16.5v33zM499.8 2199.7l30 -16.5v33zM508.1 2197.7l30 -16.5v33zM516.3 2195.8l30 -16.5v33zM524.6 2194l30 -16.5v33zM532.8 2192.4l30 -16.5v33zM541.1 2190.8l30 -16.5v33zM549.4 2189.4l30 -16.5v33zM557.6 2188.1l30 -16.5v33zM565.9 2186.8l30 -16.5v33zM574.1 2185.6l30 -16.5v33zM582.4 2184.5l30 -16.5v33zM590.6 2183.5l30 -16.5v33zM598.9 2182.5l30 -16.5v33zM607.1 2181.6l30 -16.5v33zM615.4 2180.7l30 -16.5v33zM623.7 2179.9l30 -16.5v33zM631.9 2179.1l30 -16.5v33zM640.2 2178.3l30 -16.5v33zM648.4 2177.6l30 -16.5v33zM656.7 2177l30 -16.5v33zM664.9 2176.3l30 -16.5v33zM673.2 2175.7l30 -16.5v33zM681.5 2175.1l30 -16.5v33zM689.7 2174.6l30 -16.5v33zM698 2174.1l30 -16.5v33zM706.2 2173.5l30 -16.5v33zM714.5 2173.1l30 -16.5v33zM722.7 2172.6l30 -16.5v33zM731 2172.1l30 -16.5v33zM739.3 2171.7l30 -16.5v33zM747.5 2171.3l30 -16.5v33zM755.8 2170.9l30 -16.5v33zM764 2170.5l30 -16.5v33zM772.3 2170.1l30 -16.5v33zM780.5 2169.7l30 -16.5v33zM788.8 2169.4l30 -16.5v33zM797.1 2169l30 -16.5v33zM805.3 2168.7l30 -16.5v33zM813.6 2168.3l30 -16.5v33zM821.8 2168l30 -16.5v33zM830.1 2167.7l30 -16.5v33zM838.3 2167.4l30 -16.5v33zM846.6 2167.1l30 -16.5v33zM854.9 2166.8l30 -16.5v33zM863.1 2166.5l30 -16.5v33zM871.4 2166.2l30 -16.5v33zM879.6 2165.9l30 -16.5v33zM887.9 2165.6l30 -16.5v33zM896.1 2165.4l30 -16.5v33zM904.4 2165.1l30 -16.5v33zM912.6 2164.9l30 -16.5v33zM920.9 2164.6l30 -16.5v33zM929.2 2164.3l30 -16.5v33zM937.4 2164.1l30 -16.5v33zM945.7 2163.9l30 -16.5v33zM953.9 2163.6l30 -16.5v33zM962.2 2163.4l30 -16.5v33zM970.4 2163.1l30 -16.5v33zM978.7 2162.9l30 -16.5v33zM987 2162.7l30 -16.5v33zM995.2 2162.5l30 -16.5v33zM1003.5 2162.2l30 -16.5v33zM1011.7 2162l30 -16.5v33zM1020 2161.8l30 -16.5v33zM1028.2 2161.6l30 -16.5v33zM1036.5 2161.4l30 -16.5v33zM1044.8 2161.2l30 -16.5v33zM1053 2161l30 -16.5v33zM1061.3 2160.8l30 -16.5v33zM1069.5 2160.6l30 -16.5v33zM1077.8 2160.4l30 -16.5v33zM1086 2160.2l30 -16.5v33zM1094.3 2160l30 -16.5v33zM1102.6 2159.8l30 -16.5v33zM1110.8 2159.6l30 -16.5v33zM1119.1 2159.4l30 -16.5v33zM1127.3 2159.2l30 -16.5v33zM1135.6 2159l30 -16.5v33zM1143.8 2158.9l30 -16.5v33zM1152.1 2158.7l30 -16.5v33zM1160.3 2158.5l30 -16.5v33zM1168.6 2158.3l30 -16.5v33zM1176.9 2158.2l30 -16.5v33zM1185.1 2158l30 -16.5v33zM1193.4 2157.8l30 -16.5v33zM1201.6 2157.6l30 -16.5v33zM1209.9 2157.5l30 -16.5v33zM1218.1 2157.3l30 -16.5v33zM1226.4 2157.1l30 -16.5v33zM1234.7 2157l30 -16.5v33zM1242.9 2156.8l30 -16.5v33zM1251.2 2156.7l30 -16.5v33zM1259.4 2156.5l30 -16.5v33zM1267.7 2156.3l30 -16.5v33zM1275.9 2156.2l30 -16.5v33zM1284.2 2156l30 -16.5v33zM1292.5 2155.9l30 -16.5v33zM1300.7 2155.7l30 -16.5v33zM1309 2155.6l30 -16.5v33zM1317.2 2155.4l30 -16.5v33zM1325.5 2155.3l30 -16.5v33zM1333.7 2155.2l30 -16.5v33zM1342 2155l30 -16.5v33zM1350.3 2154.9l30 -16.5v33zM1358.5 2154.7l30 -16.5v33zM1366.8 2154.6l30 -16.5v33zM1375 2154.4l30 -16.5v33zM1383.3 2154.3l30 -16.5v33zM1391.5 2154.2l30 -16.5v33zM1399.8 2154l30 -16.5v33zM1408.1 2153.9l30 -16.5v33zM1416.3 2153.8l30 -16.5v33zM1424.6 2153.6l30 -16.5v33zM1432.8 2153.5l30 -16.5v33zM1441.1 2153.4l30 -16.5v33zM1449.3 2153.3l30 -16.5v33zM1457.6 2153.1l30 -16.5v33zM1465.8 2153l30 -16.5v33zM1474.1 2152.9l30 -16.5v33zM1482.4 2152.8l30 -16.5v33zM1490.6 2152.7l30 -16.5v33zM1498.9 2152.5l30 -16.5v33zM1507.1 2152.4l30 -16.5v33zM1515.4 2152.3l30 -16.5v33zM1523.6 2152.2l30 -16.5v33zM1531.9 2152.1l30 -16.5v33zM1540.2 2152l30 -16.5v33zM1548.4 2151.8l30 -16.5v33zM1556.7 2151.7l30 -16.5v33zM1564.9 2151.6l30 -16.5v33zM1573.2 2151.5l30 -16.5v33zM1581.4 2151.4l30 -16.5v33zM1589.7 2151.3l30 -16.5v33zM1598 2151.2l30 -16.5v33zM1606.2 2151.1l30 -16.5v33zM1614.5 2151l30 -16.5v33zM1622.7 2150.9l30 -16.5v33zM1631 2150.8l30 -16.5v33zM1639.2 2150.7l30 -16.5v33zM1647.5 2150.6l30 -16.5v33zM1655.8 2150.5l30 -16.5v33zM1664 2150.4l30 -16.5v33zM1672.3 2150.3l30 -16.5v33zM1680.5 2150.2l30 -16.5v33zM1688.8 2150.1l30 -16.5v33zM1697 2150l30 -16.5v33zM1705.3 2149.9l30 -16.5v33zM1713.5 2149.8l30 -16.5v33zM1721.8 2149.7l30 -16.5v33zM1730.1 2149.6l30 -16.5v33zM1738.3 2149.5l30 -16.5v33z"/>
<path fill="none" stroke="#ff0000" stroke-width="5.2" stroke-linejoin="round" d="M248.8 1901.1L250.3 1888.2L251.8 1877.1L253.3 1867.4L254.8 1859L256.3 1851.6L257.8 1845.1L259.3 1839.3L260.9 1834.2L262.4 1829.6L263.9 1825.5L265.4 1821.8L266.9 1818.5L268.4 1815.5L269.9 1812.7L271.4 1810.2L272.9 1808L274.4 1805.9L275.9 1803.9L277.4 1802.2L278.9 1800.5L280.4 1799L281.9 1797.6L283.5 1796.3L285 1795.1L286.5 1794L288 1792.9L289.5 1791.9L291 1791L292.5 1790.1L294 1789.3L295.5 1788.5L297 1787.8L298.5 1787.1L300 1786.4L301.5 1785.8L303 1785.2L304.5 1784.6L306.1 1784.1L307.6 1783.5L309.1 1783L310.6 1782.6L312.1 1782.1L313.6 1781.6L315.1 1781.2L316.6 1780.8L318.1 1780.4L319.6 1780L321.1 1779.6L327.1 1778.2L333.2 1776.9L339.2 1775.8L345.2 1774.7L351.3 1773.6L357.3 1772.7L363.3 1771.7L369.3 1770.8L375.4 1770L381.4 1769.1L387.4 1768.3L393.4 1767.6L399.5 1766.8L405.5 1766.1L411.5 1765.4L417.6 1764.7L423.6 1764L429.6 1763.3L435.6 1762.7L441.7 1762.1L447.7 1761.5L453.7 1760.9L459.7 1760.3L465.8 1759.7L471.8 1759.2L477.8 1758.7L483.8 1758.1L489.9 1757.6L495.9 1757.1L501.9 1756.6L508 1756.2L514 1755.7L520 1755.3L526 1754.8L532.1 1754.4L538.1 1754L544.1 1753.6L550.1 1753.2L556.2 1752.8L562.2 1752.4L568.2 1752L574.2 1751.7L580.3 1751.3L586.3 1751L592.3 1750.7L598.4 1750.3L604.4 1750L610.4 1749.7L640.5 1748.3L670.7 1747L700.8 1745.9L730.9 1744.9L761.1 1744L791.2 1743.3L821.3 1742.6L851.5 1742L881.6 1741.5L911.7 1741L941.9 1740.6L972 1740.2L1002.2 1739.9L1032.3 1739.6L1062.4 1739.4L1092.6 1739.1L1122.7 1739L1152.8 1738.8L1183 1738.6L1213.1 1738.5L1243.2 1738.4L1273.4 1738.3L1303.5 1738.2L1333.6 1738.1L1363.8 1738L1393.9 1738L1424 1737.9L1454.2 1737.9L1484.3 1737.8L1514.4 1737.8L1544.6 1737.8L1574.7 1737.7L1604.8 1737.7L1635 1737.7L1665.1 1737.7L1695.2 1737.6L1725.4 1737.6L1752.5 1737.6M248.8 2000L250.3 1991.1L251.8 1983L253.3 1975.6L254.8 1968.7L256.3 1962.5L257.8 1956.7L259.3 1951.3L260.9 1946.3L262.4 1941.7L263.9 1937.4L265.4 1933.4L266.9 1929.7L268.4 1926.2L269.9 1923L271.4 1919.9L272.9 1917.1L274.4 1914.4L275.9 1911.9L277.4 1909.6L278.9 1907.4L280.4 1905.4L281.9 1903.4L283.5 1901.6L285 1899.9L286.5 1898.3L288 1896.8L289.5 1895.4L291 1894L292.5 1892.8L294 1891.6L295.5 1890.5L297 1889.4L298.5 1888.4L300 1887.5L301.5 1886.6L303 1885.7L304.5 1884.9L306.1 1884.2L307.6 1883.4L309.1 1882.8L310.6 1882.1L312.1 1881.5L313.6 1880.9L315.1 1880.3L316.6 1879.8L318.1 1879.3L319.6 1878.8L321.1 1878.3L327.1 1876.6L333.2 1875.2L339.2 1874L345.2 1872.9L351.3 1871.9L357.3 1871.1L363.3 1870.3L369.3 1869.5L375.4 1868.8L381.4 1868.2L387.4 1867.5L393.4 1867L399.5 1866.4L405.5 1865.8L411.5 1865.3L417.6 1864.8L423.6 1864.3L429.6 1863.8L435.6 1863.3L441.7 1862.8L447.7 1862.4L453.7 1861.9L459.7 1861.5L465.8 1861L471.8 1860.6L477.8 1860.2L483.8 1859.8L489.9 1859.3L495.9 1858.9L501.9 1858.5L508 1858.2L514 1857.8L520 1857.4L526 1857L532.1 1856.7L538.1 1856.3L544.1 1855.9L550.1 1855.6L556.2 1855.2L562.2 1854.9L568.2 1854.6L574.2 1854.2L580.3 1853.9L586.3 1853.6L592.3 1853.3L598.4 1853L604.4 1852.7L610.4 1852.4L640.5 1850.9L670.7 1849.6L700.8 1848.3L730.9 1847.2L761.1 1846.1L791.2 1845.1L821.3 1844.2L851.5 1843.3L881.6 1842.5L911.7 1841.8L941.9 1841.1L972 1840.4L1002.2 1839.8L1032.3 1839.3L1062.4 1838.8L1092.6 1838.3L1122.7 1837.8L1152.8 1837.4L1183 1837L1213.1 1836.7L1243.2 1836.4L1273.4 1836L1303.5 1835.8L1333.6 1835.5L1363.8 1835.2L1393.9 1835L1424 1834.8L1454.2 1834.6L1484.3 1834.4L1514.4 1834.2L1544.6 1834.1L1574.7 1833.9L1604.8 1833.8L1635 1833.6L1665.1 1833.5L1695.2 1833.4L1725.4 1833.3L1752.5 1833.2M248.8 2133.3L250.3 2126.3L251.8 2119.7L253.3 2113.4L254.8 2107.3L256.3 2101.6L257.8 2096.1L259.3 2090.8L260.9 2085.8L262.4 2081L263.9 2076.4L265.4 2072L266.9 2067.8L268.4 2063.8L269.9 2060L271.4 2056.3L272.9 2052.8L274.4 2049.5L275.9 2046.3L277.4 2043.2L278.9 2040.3L280.4 2037.4L281.9 2034.7L283.5 2032.1L285 2029.7L286.5 2027.3L288 2025L289.5 2022.8L291 2020.7L292.5 2018.7L294 2016.8L295.5 2014.9L297 2013.1L298.5 2011.4L300 2009.8L301.5 2008.2L303 2006.7L304.5 2005.2L306.1 2003.8L307.6 2002.5L309.1 2001.2L310.6 1999.9L312.1 1998.7L313.6 1997.6L315.1 1996.5L316.6 1995.4L318.1 1994.3L319.6 1993.4L321.1 1992.4L327.1 1988.9L333.2 1985.8L339.2 1983.2L345.2 1980.8L351.3 1978.7L357.3 1976.9L363.3 1975.3L369.3 1973.8L375.4 1972.5L381.4 1971.2L387.4 1970.1L393.4 1969.1L399.5 1968.1L405.5 1967.2L411.5 1966.4L417.6 1965.6L423.6 1964.9L429.6 1964.2L435.6 1963.5L441.7 1962.8L447.7 1962.2L453.7 1961.6L459.7 1961L465.8 1960.4L471.8 1959.8L477.8 1959.3L483.8 1958.8L489.9 1958.2L495.9 1957.7L501.9 1957.2L508 1956.7L514 1956.2L520 1955.7L526 1955.3L532.1 1954.8L538.1 1954.3L544.1 1953.9L550.1 1953.4L556.2 1953L562.2 1952.6L568.2 1952.1L574.2 1951.7L580.3 1951.3L586.3 1950.9L592.3 1950.4L598.4 1950L604.4 1949.6L610.4 1949.2L640.5 1947.3L670.7 1945.5L700.8 1943.8L730.9 1942.1L761.1 1940.6L791.2 1939.1L821.3 1937.7L851.5 1936.4L881.6 1935.2L911.7 1934L941.9 1932.9L972 1931.8L1002.2 1930.8L1032.3 1929.8L1062.4 1928.9L1092.6 1928L1122.7 1927.2L1152.8 1926.4L1183 1925.6L1213.1 1924.9L1243.2 1924.2L1273.4 1923.6L1303.5 1922.9L1333.6 1922.3L1363.8 1921.8L1393.9 1921.2L1424 1920.7L1454.2 1920.2L1484.3 1919.7L1514.4 1919.3L1544.6 1918.9L1574.7 1918.5L1604.8 1918.1L1635 1917.7L1665.1 1917.3L1695.2 1917L1725.4 1916.6L1752.5 1916.3M248.8 2256.8L250.3 2250.3L251.8 2244.1L253.3 2238.1L254.8 2232.3L256.3 2226.7L257.8 2221.3L259.3 2216.1L260.9 2211L262.4 2206.1L263.9 2201.4L265.4 2196.9L266.9 2192.5L268.4 2188.2L269.9 2184.1L271.4 2180.2L272.9 2176.3L274.4 2172.6L275.9 2169.1L277.4 2165.6L278.9 2162.2L280.4 2159L281.9 2155.9L283.5 2152.8L285 2149.9L286.5 2147.1L288 2144.3L289.5 2141.7L291 2139.1L292.5 2136.6L294 2134.2L295.5 2131.9L297 2129.6L298.5 2127.5L300 2125.3L301.5 2123.3L303 2121.3L304.5 2119.4L306.1 2117.5L307.6 2115.7L309.1 2114L310.6 2112.3L312.1 2110.6L313.6 2109.1L315.1 2107.5L316.6 2106L318.1 2104.6L319.6 2103.2L321.1 2101.8L327.1 2096.7L333.2 2092.2L339.2 2088.3L345.2 2084.7L351.3 2081.5L357.3 2078.7L363.3 2076.1L369.3 2073.8L375.4 2071.7L381.4 2069.8L387.4 2068.1L393.4 2066.6L399.5 2065.2L405.5 2063.9L411.5 2062.7L417.6 2061.6L423.6 2060.6L429.6 2059.6L435.6 2058.8L441.7 2057.9L447.7 2057.2L453.7 2056.5L459.7 2055.8L465.8 2055.1L471.8 2054.5L477.8 2054L483.8 2053.4L489.9 2052.9L495.9 2052.4L501.9 2051.9L508 2051.5L514 2051L520 2050.6L526 2050.2L532.1 2049.8L538.1 2049.4L544.1 2049L550.1 2048.6L556.2 2048.2L562.2 2047.9L568.2 2047.5L574.2 2047.2L580.3 2046.8L586.3 2046.5L592.3 2046.2L598.4 2045.9L604.4 2045.6L610.4 2045.2L640.5 2043.7L670.7 2042.3L700.8 2040.9L730.9 2039.6L761.1 2038.4L791.2 2037.1L821.3 2036L851.5 2034.8L881.6 2033.7L911.7 2032.6L941.9 2031.6L972 2030.6L1002.2 2029.6L1032.3 2028.6L1062.4 2027.7L1092.6 2026.8L1122.7 2025.9L1152.8 2025.1L1183 2024.3L1213.1 2023.5L1243.2 2022.7L1273.4 2021.9L1303.5 2021.2L1333.6 2020.5L1363.8 2019.8L1393.9 2019.1L1424 2018.5L1454.2 2017.8L1484.3 2017.2L1514.4 2016.6L1544.6 2016.1L1574.7 2015.5L1604.8 2014.9L1635 2014.4L1665.1 2013.9L1695.2 2013.4L1725.4 2012.9L1752.5 2012.5M248.8 2417L250.3 2410.3L251.8 2403.8L253.3 2397.5L254.8 2391.3L256.3 2385.3L257.8 2379.4L259.3 2373.6L260.9 2367.9L262.4 2362.4L263.9 2357L265.4 2351.8L266.9 2346.6L268.4 2341.6L269.9 2336.7L271.4 2331.9L272.9 2327.2L274.4 2322.7L275.9 2318.2L277.4 2313.8L278.9 2309.5L280.4 2305.4L281.9 2301.3L283.5 2297.3L285 2293.4L286.5 2289.6L288 2285.9L289.5 2282.3L291 2278.7L292.5 2275.2L294 2271.8L295.5 2268.5L297 2265.3L298.5 2262.1L300 2259L301.5 2256L303 2253L304.5 2250.1L306.1 2247.3L307.6 2244.5L309.1 2241.8L310.6 2239.2L312.1 2236.6L313.6 2234.1L315.1 2231.6L316.6 2229.2L318.1 2226.9L319.6 2224.6L321.1 2222.3L327.1 2213.8L333.2 2206L339.2 2198.8L345.2 2192.3L351.3 2186.3L357.3 2180.8L363.3 2175.8L369.3 2171.2L375.4 2167L381.4 2163.1L387.4 2159.5L393.4 2156.2L399.5 2153.2L405.5 2150.4L411.5 2147.8L417.6 2145.5L423.6 2143.3L429.6 2141.3L435.6 2139.4L441.7 2137.7L447.7 2136L453.7 2134.6L459.7 2133.2L465.8 2131.9L471.8 2130.7L477.8 2129.6L483.8 2128.5L489.9 2127.5L495.9 2126.6L501.9 2125.8L508 2125L514 2124.2L520 2123.5L526 2122.8L532.1 2122.2L538.1 2121.6L544.1 2121L550.1 2120.5L556.2 2120L562.2 2119.5L568.2 2119L574.2 2118.6L580.3 2118.2L586.3 2117.8L592.3 2117.4L598.4 2117L604.4 2116.7L610.4 2116.3L640.5 2114.7L670.7 2113.4L700.8 2112.2L730.9 2111.1L761.1 2110.1L791.2 2109.2L821.3 2108.3L851.5 2107.5L881.6 2106.6L911.7 2105.9L941.9 2105.1L972 2104.4L1002.2 2103.6L1032.3 2102.9L1062.4 2102.3L1092.6 2101.6L1122.7 2101L1152.8 2100.3L1183 2099.7L1213.1 2099.1L1243.2 2098.5L1273.4 2098L1303.5 2097.4L1333.6 2096.8L1363.8 2096.3L1393.9 2095.8L1424 2095.3L1454.2 2094.8L1484.3 2094.3L1514.4 2093.8L1544.6 2093.3L1574.7 2092.9L1604.8 2092.4L1635 2092L1665.1 2091.6L1695.2 2091.2L1725.4 2090.7L1752.5 2090.4M248.8 2530.1L250.3 2524.6L251.8 2519.2L253.3 2514L254.8 2508.8L256.3 2503.7L257.8 2498.6L259.3 2493.7L260.9 2488.8L262.4 2484L263.9 2479.3L265.4 2474.7L266.9 2470.1L268.4 2465.6L269.9 2461.2L271.4 2456.8L272.9 2452.5L274.4 2448.3L275.9 2444.2L277.4 2440.1L278.9 2436L280.4 2432.1L281.9 2428.2L283.5 2424.4L285 2420.6L286.5 2416.9L288 2413.2L289.5 2409.6L291 2406.1L292.5 2402.6L294 2399.1L295.5 2395.8L297 2392.4L298.5 2389.2L300 2385.9L301.5 2382.8L303 2379.6L304.5 2376.6L306.1 2373.5L307.6 2370.6L309.1 2367.6L310.6 2364.7L312.1 2361.9L313.6 2359.1L315.1 2356.3L316.6 2353.6L318.1 2350.9L319.6 2348.3L321.1 2345.7L327.1 2335.8L333.2 2326.4L339.2 2317.6L345.2 2309.3L351.3 2301.6L357.3 2294.3L363.3 2287.4L369.3 2280.9L375.4 2274.8L381.4 2269.1L387.4 2263.7L393.4 2258.6L399.5 2253.8L405.5 2249.3L411.5 2245.1L417.6 2241.1L423.6 2237.3L429.6 2233.8L435.6 2230.4L441.7 2227.2L447.7 2224.2L453.7 2221.4L459.7 2218.8L465.8 2216.2L471.8 2213.9L477.8 2211.6L483.8 2209.5L489.9 2207.5L495.9 2205.6L501.9 2203.8L508 2202.1L514 2200.4L520 2198.9L526 2197.4L532.1 2196.1L538.1 2194.7L544.1 2193.5L550.1 2192.3L556.2 2191.2L562.2 2190.1L568.2 2189.1L574.2 2188.1L580.3 2187.2L586.3 2186.3L592.3 2185.5L598.4 2184.6L604.4 2183.9L610.4 2183.1L640.5 2179.9L670.7 2177.2L700.8 2175L730.9 2173.1L761.1 2171.4L791.2 2170L821.3 2168.7L851.5 2167.5L881.6 2166.4L911.7 2165.4L941.9 2164.5L972 2163.6L1002.2 2162.7L1032.3 2161.9L1062.4 2161.2L1092.6 2160.4L1122.7 2159.7L1152.8 2159L1183 2158.4L1213.1 2157.8L1243.2 2157.1L1273.4 2156.6L1303.5 2156L1333.6 2155.5L1363.8 2154.9L1393.9 2154.4L1424 2153.9L1454.2 2153.5L1484.3 2153L1514.4 2152.6L1544.6 2152.1L1574.7 2151.7L1604.8 2151.3L1635 2150.9L1665.1 2150.6L1695.2 2150.2L1725.4 2149.8L1752.5 2149.5"/>
</g>
<g stroke="#000" fill="none" shape-rendering="crispEdges">
<path stroke="#808080" stroke-width="2.8" d="M247.6 1565V2741"/>
<path stroke-width="2.6" d="M250.3 1565V2741"/>
</g>
<text transform="translate(122 2734.6) scale(1.045 1)" font-size="60">0.0</text>
<text transform="translate(121.6 2542.3) scale(1.045 1)" font-size="60">0.3</text>
<text transform="translate(121.6 2349.9) scale(1.045 1)" font-size="60">0.6</text>
<text transform="translate(121.6 2157.6) scale(1.045 1)" font-size="60">0.9</text>
<text transform="translate(122 1965.3) scale(1.045 1)" font-size="60">1.2</text>
<text transform="translate(121.2 1772.9) scale(1.045 1)" font-size="60">1.5</text>
<text transform="translate(121.3 1580.6) scale(1.045 1)" font-size="60">1.8</text>
<text transform="translate(232.1 2803.3) scale(1.045 1)" font-size="60">0</text>
<text transform="translate(515.1 2803.3) scale(1.045 1)" font-size="60">50</text>
<text transform="translate(798 2803.3) scale(1.045 1)" font-size="60">100</text>
<text transform="translate(1099.3 2803.3) scale(1.045 1)" font-size="60">150</text>
<text transform="translate(1401.5 2803.3) scale(1.045 1)" font-size="60">200</text>
<text transform="translate(1702.9 2803.3) scale(1.045 1)" font-size="60">250</text>
<text transform="translate(857 2916.2) scale(1.040 1)" font-size="73">Time (s)</text>
<text transform="translate(92.8 2143) rotate(-90)" font-size="73" text-anchor="middle">Voltage (V)</text>
<text transform="translate(1457.2 1690.6) scale(1.036 1)" font-size="60.5">260 K</text>
<text transform="translate(1454.8 2268.3) scale(1.035 1)" font-size="60.5">310 K</text>
<path stroke="#000" stroke-width="5.8" d="M1658.5 1669.1V2276"/>
<path fill="#000" d="M1660 2296h-3l-7.5 -32.5h21l-7.5 32.5z"/>
<text transform="translate(1647.3 2665.8) scale(1.044 1)" font-size="71">(b)</text>
<g id="ibias-b">
<text transform="translate(848.8 2671.4) scale(0.870 1)" font-size="60.5">I</text>
<text transform="translate(866.4 2692.2) scale(1.030 1)" font-size="36">bias</text>
<text transform="translate(958.4 2671.4) scale(1.025 1)" font-size="60.5">=</text>
<text transform="translate(1012.5 2671.4) scale(1.027 1)" font-size="60.5">30</text>
<text transform="translate(1098.4 2671.4) scale(1.185 1)" font-size="62" style="font-family:'Liberation Serif',serif;font-weight:normal">μ</text>
<text transform="translate(1138.8 2671.4) scale(0.933 1)" font-size="60.5">A</text>
</g>
</g>
<g id="panel-c">
<g stroke="#000" fill="none" shape-rendering="crispEdges">
<path stroke-width="5" d="M223.8 3082H1757.7"/>
<path stroke-width="3" d="M223.8 4236.8H1757.7"/>
<path stroke="#808080" stroke-width="2.8" d="M247.6 3082V4258.5"/>
<path stroke-width="2.6" d="M250.3 3082V4258.5"/>
<path stroke-width="4.4" d="M1755.5 3082V4258.5"/>
<path stroke-width="3.1" d="M223.8 4044.1H247M223.8 3851.7H247M223.8 3659.2H247M223.8 3466.8H247M223.8 3274.4H247"/>
<path stroke-width="4.6" d="M235 4139.9H247M235 3947.5H247M235 3755.1H247M235 3562.6H247M235 3370.2H247M235 3177.8H247"/>
<path stroke-width="4.3" d="M399.5 4236.5V4249M550.1 4236.5V4259M700.8 4236.5V4249M851.5 4236.5V4259M1002.2 4236.5V4249M1152.8 4236.5V4259M1303.5 4236.5V4249M1454.2 4236.5V4259M1604.8 4236.5V4249"/>
</g>
<g clip-path="url(#clipc)">
<path fill="#000000" d="M238 3338.3h24v24.4h-24zM248.6 3286.6h24v24.4h-24zM256.9 3266.1h24v24.4h-24zM265.1 3254.5h24v24.4h-24zM273.4 3247.8h24v24.4h-24zM281.6 3243.4h24v24.4h-24zM289.9 3240.6h24v24.4h-24zM298.2 3238.5h24v24.4h-24zM306.4 3236.6h24v24.4h-24zM314.7 3235h24v24.4h-24zM322.9 3233.4h24v24.4h-24zM331.2 3231.9h24v24.4h-24zM339.4 3230.5h24v24.4h-24zM347.7 3229.1h24v24.4h-24zM355.9 3227.8h24v24.4h-24zM364.2 3226.5h24v24.4h-24zM372.5 3225.2h24v24.4h-24zM380.7 3224h24v24.4h-24zM389 3222.8h24v24.4h-24zM397.2 3221.6h24v24.4h-24zM405.5 3220.5h24v24.4h-24zM413.7 3219.4h24v24.4h-24zM422 3218.4h24v24.4h-24zM430.3 3217.3h24v24.4h-24zM438.5 3216.3h24v24.4h-24zM446.8 3215.4h24v24.4h-24zM455 3214.4h24v24.4h-24zM463.3 3213.5h24v24.4h-24zM471.5 3212.6h24v24.4h-24zM479.8 3211.7h24v24.4h-24zM488.1 3210.9h24v24.4h-24zM496.3 3210h24v24.4h-24zM504.6 3209.2h24v24.4h-24zM512.8 3208.4h24v24.4h-24zM521.1 3207.7h24v24.4h-24zM529.3 3207h24v24.4h-24zM537.6 3206.3h24v24.4h-24zM545.9 3205.7h24v24.4h-24zM554.1 3205.2h24v24.4h-24zM562.4 3204.6h24v24.4h-24zM570.6 3204.1h24v24.4h-24zM578.9 3203.6h24v24.4h-24zM587.1 3203.1h24v24.4h-24zM595.4 3202.6h24v24.4h-24zM603.7 3202.1h24v24.4h-24zM611.9 3201.7h24v24.4h-24zM620.2 3201.3h24v24.4h-24zM628.4 3200.8h24v24.4h-24zM636.7 3200.4h24v24.4h-24zM644.9 3200h24v24.4h-24zM653.2 3199.7h24v24.4h-24zM661.4 3199.3h24v24.4h-24zM669.7 3198.9h24v24.4h-24zM678 3198.6h24v24.4h-24zM686.2 3198.2h24v24.4h-24zM694.5 3197.9h24v24.4h-24zM702.7 3197.6h24v24.4h-24zM711 3197.3h24v24.4h-24zM719.2 3197h24v24.4h-24zM727.5 3196.7h24v24.4h-24zM735.8 3196.4h24v24.4h-24zM744 3196.2h24v24.4h-24zM752.3 3195.9h24v24.4h-24zM760.5 3195.6h24v24.4h-24zM768.8 3195.4h24v24.4h-24zM777 3195.1h24v24.4h-24zM785.3 3194.9h24v24.4h-24zM793.6 3194.7h24v24.4h-24zM801.8 3194.5h24v24.4h-24zM810.1 3194.3h24v24.4h-24zM818.3 3194.1h24v24.4h-24zM826.6 3193.9h24v24.4h-24zM834.8 3193.7h24v24.4h-24zM843.1 3193.5h24v24.4h-24zM851.4 3193.3h24v24.4h-24zM859.6 3193.1h24v24.4h-24zM867.9 3193h24v24.4h-24zM876.1 3192.8h24v24.4h-24zM884.4 3192.6h24v24.4h-24zM892.6 3192.5h24v24.4h-24zM900.9 3192.3h24v24.4h-24zM909.1 3192.2h24v24.4h-24zM917.4 3192.1h24v24.4h-24zM925.7 3191.9h24v24.4h-24zM933.9 3191.8h24v24.4h-24zM942.2 3191.7h24v24.4h-24zM950.4 3191.6h24v24.4h-24zM958.7 3191.4h24v24.4h-24zM966.9 3191.3h24v24.4h-24zM975.2 3191.2h24v24.4h-24zM983.5 3191.1h24v24.4h-24zM991.7 3191h24v24.4h-24zM1000 3190.9h24v24.4h-24zM1008.2 3190.8h24v24.4h-24zM1016.5 3190.7h24v24.4h-24zM1024.7 3190.6h24v24.4h-24zM1033 3190.5h24v24.4h-24zM1041.3 3190.5h24v24.4h-24zM1049.5 3190.4h24v24.4h-24zM1057.8 3190.3h24v24.4h-24zM1066 3190.2h24v24.4h-24zM1074.3 3190.1h24v24.4h-24zM1082.5 3190.1h24v24.4h-24zM1090.8 3190h24v24.4h-24zM1099.1 3189.9h24v24.4h-24zM1107.3 3189.9h24v24.4h-24zM1115.6 3189.8h24v24.4h-24zM1123.8 3189.7h24v24.4h-24zM1132.1 3189.5h24v24.4h-24zM1140.3 3189.4h24v24.4h-24zM1148.6 3189.2h24v24.4h-24zM1156.9 3189.1h24v24.4h-24zM1165.1 3188.9h24v24.4h-24zM1173.4 3188.8h24v24.4h-24zM1181.6 3188.6h24v24.4h-24zM1189.9 3188.5h24v24.4h-24zM1198.1 3188.3h24v24.4h-24zM1206.4 3188.2h24v24.4h-24zM1214.6 3188.1h24v24.4h-24zM1222.9 3187.9h24v24.4h-24zM1231.2 3187.8h24v24.4h-24zM1239.4 3187.7h24v24.4h-24zM1247.7 3187.5h24v24.4h-24zM1255.9 3187.4h24v24.4h-24zM1264.2 3187.3h24v24.4h-24zM1272.4 3187.1h24v24.4h-24zM1280.7 3187h24v24.4h-24zM1289 3186.9h24v24.4h-24zM1297.2 3186.8h24v24.4h-24zM1305.5 3186.7h24v24.4h-24zM1313.7 3186.5h24v24.4h-24zM1322 3186.4h24v24.4h-24zM1330.2 3186.3h24v24.4h-24zM1338.5 3186.2h24v24.4h-24zM1346.8 3186.1h24v24.4h-24zM1355 3185.9h24v24.4h-24zM1363.3 3185.8h24v24.4h-24zM1371.5 3185.7h24v24.4h-24zM1379.8 3185.6h24v24.4h-24zM1388 3185.5h24v24.4h-24zM1396.3 3185.4h24v24.4h-24zM1404.6 3185.3h24v24.4h-24zM1412.8 3185.2h24v24.4h-24zM1421.1 3185.1h24v24.4h-24zM1429.3 3184.9h24v24.4h-24zM1437.6 3184.8h24v24.4h-24zM1445.8 3184.7h24v24.4h-24zM1454.1 3184.6h24v24.4h-24zM1462.3 3184.5h24v24.4h-24zM1470.6 3184.4h24v24.4h-24zM1478.9 3184.3h24v24.4h-24zM1487.1 3184.2h24v24.4h-24zM1495.4 3184.1h24v24.4h-24zM1503.6 3184h24v24.4h-24zM1511.9 3183.9h24v24.4h-24zM1520.1 3183.8h24v24.4h-24zM1528.4 3183.7h24v24.4h-24zM1536.7 3183.6h24v24.4h-24zM1544.9 3183.5h24v24.4h-24zM1553.2 3183.4h24v24.4h-24zM1561.4 3183.3h24v24.4h-24zM1569.7 3183.2h24v24.4h-24zM1577.9 3183.1h24v24.4h-24zM1586.2 3183h24v24.4h-24zM1594.5 3182.9h24v24.4h-24zM1602.7 3182.8h24v24.4h-24zM1611 3182.7h24v24.4h-24zM1619.2 3182.6h24v24.4h-24zM1627.5 3182.5h24v24.4h-24zM1635.7 3182.5h24v24.4h-24zM1644 3182.4h24v24.4h-24zM1652.3 3182.3h24v24.4h-24zM1660.5 3182.2h24v24.4h-24zM1668.8 3182.1h24v24.4h-24zM1677 3182h24v24.4h-24zM1685.3 3181.9h24v24.4h-24zM1693.5 3181.8h24v24.4h-24zM1701.8 3181.7h24v24.4h-24zM1710.1 3181.6h24v24.4h-24zM1718.3 3181.5h24v24.4h-24zM1726.6 3181.5h24v24.4h-24zM1734.8 3181.4h24v24.4h-24zM1743.1 3181.3h24v24.4h-24z"/>
<path fill="#ffff00" d="M235.5 3471.1a14.5 14.5 0 1 0 29 0a14.5 14.5 0 1 0 -29 0zM247 3413.6a14.5 14.5 0 1 0 29 0a14.5 14.5 0 1 0 -29 0zM255.2 3392.6a14.5 14.5 0 1 0 29 0a14.5 14.5 0 1 0 -29 0zM263.5 3379.6a14.5 14.5 0 1 0 29 0a14.5 14.5 0 1 0 -29 0zM271.7 3371.4a14.5 14.5 0 1 0 29 0a14.5 14.5 0 1 0 -29 0zM280 3365.9a14.5 14.5 0 1 0 29 0a14.5 14.5 0 1 0 -29 0zM288.2 3362.2a14.5 14.5 0 1 0 29 0a14.5 14.5 0 1 0 -29 0zM296.5 3359.5a14.5 14.5 0 1 0 29 0a14.5 14.5 0 1 0 -29 0zM304.8 3357.2a14.5 14.5 0 1 0 29 0a14.5 14.5 0 1 0 -29 0zM313 3355.3a14.5 14.5 0 1 0 29 0a14.5 14.5 0 1 0 -29 0zM321.3 3353.7a14.5 14.5 0 1 0 29 0a14.5 14.5 0 1 0 -29 0zM329.5 3352.2a14.5 14.5 0 1 0 29 0a14.5 14.5 0 1 0 -29 0zM337.8 3350.9a14.5 14.5 0 1 0 29 0a14.5 14.5 0 1 0 -29 0zM346 3349.6a14.5 14.5 0 1 0 29 0a14.5 14.5 0 1 0 -29 0zM354.3 3348.5a14.5 14.5 0 1 0 29 0a14.5 14.5 0 1 0 -29 0zM362.6 3347.3a14.5 14.5 0 1 0 29 0a14.5 14.5 0 1 0 -29 0zM370.8 3346.3a14.5 14.5 0 1 0 29 0a14.5 14.5 0 1 0 -29 0zM379.1 3345.3a14.5 14.5 0 1 0 29 0a14.5 14.5 0 1 0 -29 0zM387.3 3344.3a14.5 14.5 0 1 0 29 0a14.5 14.5 0 1 0 -29 0zM395.6 3343.3a14.5 14.5 0 1 0 29 0a14.5 14.5 0 1 0 -29 0zM403.8 3342.4a14.5 14.5 0 1 0 29 0a14.5 14.5 0 1 0 -29 0zM412.1 3341.6a14.5 14.5 0 1 0 29 0a14.5 14.5 0 1 0 -29 0zM420.3 3340.7a14.5 14.5 0 1 0 29 0a14.5 14.5 0 1 0 -29 0zM428.6 3339.9a14.5 14.5 0 1 0 29 0a14.5 14.5 0 1 0 -29 0zM436.9 3339.1a14.5 14.5 0 1 0 29 0a14.5 14.5 0 1 0 -29 0zM445.1 3338.4a14.5 14.5 0 1 0 29 0a14.5 14.5 0 1 0 -29 0zM453.4 3337.6a14.5 14.5 0 1 0 29 0a14.5 14.5 0 1 0 -29 0zM461.6 3336.9a14.5 14.5 0 1 0 29 0a14.5 14.5 0 1 0 -29 0zM469.9 3336.2a14.5 14.5 0 1 0 29 0a14.5 14.5 0 1 0 -29 0zM478.1 3335.6a14.5 14.5 0 1 0 29 0a14.5 14.5 0 1 0 -29 0zM486.4 3334.9a14.5 14.5 0 1 0 29 0a14.5 14.5 0 1 0 -29 0zM494.7 3334.3a14.5 14.5 0 1 0 29 0a14.5 14.5 0 1 0 -29 0zM502.9 3333.7a14.5 14.5 0 1 0 29 0a14.5 14.5 0 1 0 -29 0zM511.2 3333.1a14.5 14.5 0 1 0 29 0a14.5 14.5 0 1 0 -29 0zM519.4 3332.6a14.5 14.5 0 1 0 29 0a14.5 14.5 0 1 0 -29 0zM527.7 3332a14.5 14.5 0 1 0 29 0a14.5 14.5 0 1 0 -29 0zM535.9 3331.5a14.5 14.5 0 1 0 29 0a14.5 14.5 0 1 0 -29 0zM544.2 3331a14.5 14.5 0 1 0 29 0a14.5 14.5 0 1 0 -29 0zM552.5 3330.5a14.5 14.5 0 1 0 29 0a14.5 14.5 0 1 0 -29 0zM560.7 3330a14.5 14.5 0 1 0 29 0a14.5 14.5 0 1 0 -29 0zM569 3329.6a14.5 14.5 0 1 0 29 0a14.5 14.5 0 1 0 -29 0zM577.2 3329.1a14.5 14.5 0 1 0 29 0a14.5 14.5 0 1 0 -29 0zM585.5 3328.7a14.5 14.5 0 1 0 29 0a14.5 14.5 0 1 0 -29 0zM593.7 3328.3a14.5 14.5 0 1 0 29 0a14.5 14.5 0 1 0 -29 0zM602 3327.9a14.5 14.5 0 1 0 29 0a14.5 14.5 0 1 0 -29 0zM610.3 3327.5a14.5 14.5 0 1 0 29 0a14.5 14.5 0 1 0 -29 0zM618.5 3327.1a14.5 14.5 0 1 0 29 0a14.5 14.5 0 1 0 -29 0zM626.8 3326.8a14.5 14.5 0 1 0 29 0a14.5 14.5 0 1 0 -29 0zM635 3326.4a14.5 14.5 0 1 0 29 0a14.5 14.5 0 1 0 -29 0zM643.3 3326.1a14.5 14.5 0 1 0 29 0a14.5 14.5 0 1 0 -29 0zM651.5 3325.8a14.5 14.5 0 1 0 29 0a14.5 14.5 0 1 0 -29 0zM659.8 3325.5a14.5 14.5 0 1 0 29 0a14.5 14.5 0 1 0 -29 0zM668 3325.1a14.5 14.5 0 1 0 29 0a14.5 14.5 0 1 0 -29 0zM676.3 3324.8a14.5 14.5 0 1 0 29 0a14.5 14.5 0 1 0 -29 0zM684.6 3324.6a14.5 14.5 0 1 0 29 0a14.5 14.5 0 1 0 -29 0zM692.8 3324.3a14.5 14.5 0 1 0 29 0a14.5 14.5 0 1 0 -29 0zM701.1 3324a14.5 14.5 0 1 0 29 0a14.5 14.5 0 1 0 -29 0zM709.3 3323.8a14.5 14.5 0 1 0 29 0a14.5 14.5 0 1 0 -29 0zM717.6 3323.5a14.5 14.5 0 1 0 29 0a14.5 14.5 0 1 0 -29 0zM725.8 3323.3a14.5 14.5 0 1 0 29 0a14.5 14.5 0 1 0 -29 0zM734.1 3323a14.5 14.5 0 1 0 29 0a14.5 14.5 0 1 0 -29 0zM742.4 3322.8a14.5 14.5 0 1 0 29 0a14.5 14.5 0 1 0 -29 0zM750.6 3322.6a14.5 14.5 0 1 0 29 0a14.5 14.5 0 1 0 -29 0zM758.9 3322.4a14.5 14.5 0 1 0 29 0a14.5 14.5 0 1 0 -29 0zM767.1 3322.2a14.5 14.5 0 1 0 29 0a14.5 14.5 0 1 0 -29 0zM775.4 3322a14.5 14.5 0 1 0 29 0a14.5 14.5 0 1 0 -29 0zM783.6 3321.8a14.5 14.5 0 1 0 29 0a14.5 14.5 0 1 0 -29 0zM791.9 3321.6a14.5 14.5 0 1 0 29 0a14.5 14.5 0 1 0 -29 0zM800.2 3321.4a14.5 14.5 0 1 0 29 0a14.5 14.5 0 1 0 -29 0zM808.4 3321.2a14.5 14.5 0 1 0 29 0a14.5 14.5 0 1 0 -29 0zM816.7 3321.1a14.5 14.5 0 1 0 29 0a14.5 14.5 0 1 0 -29 0zM824.9 3320.9a14.5 14.5 0 1 0 29 0a14.5 14.5 0 1 0 -29 0zM833.2 3320.7a14.5 14.5 0 1 0 29 0a14.5 14.5 0 1 0 -29 0zM841.4 3320.6a14.5 14.5 0 1 0 29 0a14.5 14.5 0 1 0 -29 0zM849.7 3320.4a14.5 14.5 0 1 0 29 0a14.5 14.5 0 1 0 -29 0zM858 3320.3a14.5 14.5 0 1 0 29 0a14.5 14.5 0 1 0 -29 0zM866.2 3320.2a14.5 14.5 0 1 0 29 0a14.5 14.5 0 1 0 -29 0zM874.5 3320a14.5 14.5 0 1 0 29 0a14.5 14.5 0 1 0 -29 0zM882.7 3319.9a14.5 14.5 0 1 0 29 0a14.5 14.5 0 1 0 -29 0zM891 3319.8a14.5 14.5 0 1 0 29 0a14.5 14.5 0 1 0 -29 0zM899.2 3319.6a14.5 14.5 0 1 0 29 0a14.5 14.5 0 1 0 -29 0zM907.5 3319.5a14.5 14.5 0 1 0 29 0a14.5 14.5 0 1 0 -29 0zM915.8 3319.4a14.5 14.5 0 1 0 29 0a14.5 14.5 0 1 0 -29 0zM924 3319.3a14.5 14.5 0 1 0 29 0a14.5 14.5 0 1 0 -29 0zM932.3 3319.2a14.5 14.5 0 1 0 29 0a14.5 14.5 0 1 0 -29 0zM940.5 3319.1a14.5 14.5 0 1 0 29 0a14.5 14.5 0 1 0 -29 0zM948.8 3319a14.5 14.5 0 1 0 29 0a14.5 14.5 0 1 0 -29 0zM957 3318.9a14.5 14.5 0 1 0 29 0a14.5 14.5 0 1 0 -29 0zM965.3 3318.8a14.5 14.5 0 1 0 29 0a14.5 14.5 0 1 0 -29 0zM973.5 3318.7a14.5 14.5 0 1 0 29 0a14.5 14.5 0 1 0 -29 0zM981.8 3318.6a14.5 14.5 0 1 0 29 0a14.5 14.5 0 1 0 -29 0zM990.1 3318.5a14.5 14.5 0 1 0 29 0a14.5 14.5 0 1 0 -29 0zM998.3 3318.5a14.5 14.5 0 1 0 29 0a14.5 14.5 0 1 0 -29 0zM1006.6 3318.4a14.5 14.5 0 1 0 29 0a14.5 14.5 0 1 0 -29 0zM1014.8 3318.3a14.5 14.5 0 1 0 29 0a14.5 14.5 0 1 0 -29 0zM1023.1 3318.2a14.5 14.5 0 1 0 29 0a14.5 14.5 0 1 0 -29 0zM1031.3 3318.2a14.5 14.5 0 1 0 29 0a14.5 14.5 0 1 0 -29 0zM1039.6 3318.1a14.5 14.5 0 1 0 29 0a14.5 14.5 0 1 0 -29 0zM1047.9 3318a14.5 14.5 0 1 0 29 0a14.5 14.5 0 1 0 -29 0zM1056.1 3317.9a14.5 14.5 0 1 0 29 0a14.5 14.5 0 1 0 -29 0zM1064.4 3317.9a14.5 14.5 0 1 0 29 0a14.5 14.5 0 1 0 -29 0zM1072.6 3317.8a14.5 14.5 0 1 0 29 0a14.5 14.5 0 1 0 -29 0zM1080.9 3317.8a14.5 14.5 0 1 0 29 0a14.5 14.5 0 1 0 -29 0zM1089.1 3317.7a14.5 14.5 0 1 0 29 0a14.5 14.5 0 1 0 -29 0zM1097.4 3317.6a14.5 14.5 0 1 0 29 0a14.5 14.5 0 1 0 -29 0zM1105.7 3317.6a14.5 14.5 0 1 0 29 0a14.5 14.5 0 1 0 -29 0zM1113.9 3317.5a14.5 14.5 0 1 0 29 0a14.5 14.5 0 1 0 -29 0zM1122.2 3317.5a14.5 14.5 0 1 0 29 0a14.5 14.5 0 1 0 -29 0zM1130.4 3317.4a14.5 14.5 0 1 0 29 0a14.5 14.5 0 1 0 -29 0zM1138.7 3317.4a14.5 14.5 0 1 0 29 0a14.5 14.5 0 1 0 -29 0zM1146.9 3317.3a14.5 14.5 0 1 0 29 0a14.5 14.5 0 1 0 -29 0zM1155.2 3317.3a14.5 14.5 0 1 0 29 0a14.5 14.5 0 1 0 -29 0zM1163.5 3317.3a14.5 14.5 0 1 0 29 0a14.5 14.5 0 1 0 -29 0zM1171.7 3317.2a14.5 14.5 0 1 0 29 0a14.5 14.5 0 1 0 -29 0zM1180 3317.2a14.5 14.5 0 1 0 29 0a14.5 14.5 0 1 0 -29 0zM1188.2 3317.1a14.5 14.5 0 1 0 29 0a14.5 14.5 0 1 0 -29 0zM1196.5 3317.1a14.5 14.5 0 1 0 29 0a14.5 14.5 0 1 0 -29 0zM1204.7 3317.1a14.5 14.5 0 1 0 29 0a14.5 14.5 0 1 0 -29 0zM1213 3317a14.5 14.5 0 1 0 29 0a14.5 14.5 0 1 0 -29 0zM1221.2 3317a14.5 14.5 0 1 0 29 0a14.5 14.5 0 1 0 -29 0zM1229.5 3317a14.5 14.5 0 1 0 29 0a14.5 14.5 0 1 0 -29 0zM1237.8 3316.9a14.5 14.5 0 1 0 29 0a14.5 14.5 0 1 0 -29 0zM1246 3316.9a14.5 14.5 0 1 0 29 0a14.5 14.5 0 1 0 -29 0zM1254.3 3316.9a14.5 14.5 0 1 0 29 0a14.5 14.5 0 1 0 -29 0zM1262.5 3316.8a14.5 14.5 0 1 0 29 0a14.5 14.5 0 1 0 -29 0zM1270.8 3316.8a14.5 14.5 0 1 0 29 0a14.5 14.5 0 1 0 -29 0zM1279 3316.8a14.5 14.5 0 1 0 29 0a14.5 14.5 0 1 0 -29 0zM1287.3 3316.7a14.5 14.5 0 1 0 29 0a14.5 14.5 0 1 0 -29 0zM1295.6 3316.7a14.5 14.5 0 1 0 29 0a14.5 14.5 0 1 0 -29 0zM1303.8 3316.7a14.5 14.5 0 1 0 29 0a14.5 14.5 0 1 0 -29 0zM1312.1 3316.7a14.5 14.5 0 1 0 29 0a14.5 14.5 0 1 0 -29 0zM1320.3 3316.6a14.5 14.5 0 1 0 29 0a14.5 14.5 0 1 0 -29 0zM1328.6 3316.6a14.5 14.5 0 1 0 29 0a14.5 14.5 0 1 0 -29 0zM1336.8 3316.6a14.5 14.5 0 1 0 29 0a14.5 14.5 0 1 0 -29 0zM1345.1 3316.6a14.5 14.5 0 1 0 29 0a14.5 14.5 0 1 0 -29 0zM1353.4 3316.6a14.5 14.5 0 1 0 29 0a14.5 14.5 0 1 0 -29 0zM1361.6 3316.5a14.5 14.5 0 1 0 29 0a14.5 14.5 0 1 0 -29 0zM1369.9 3316.5a14.5 14.5 0 1 0 29 0a14.5 14.5 0 1 0 -29 0zM1378.1 3316.5a14.5 14.5 0 1 0 29 0a14.5 14.5 0 1 0 -29 0zM1386.4 3316.5a14.5 14.5 0 1 0 29 0a14.5 14.5 0 1 0 -29 0zM1394.6 3316.5a14.5 14.5 0 1 0 29 0a14.5 14.5 0 1 0 -29 0zM1402.9 3316.4a14.5 14.5 0 1 0 29 0a14.5 14.5 0 1 0 -29 0zM1411.2 3316.4a14.5 14.5 0 1 0 29 0a14.5 14.5 0 1 0 -29 0zM1419.4 3316.4a14.5 14.5 0 1 0 29 0a14.5 14.5 0 1 0 -29 0zM1427.7 3316.4a14.5 14.5 0 1 0 29 0a14.5 14.5 0 1 0 -29 0zM1435.9 3316.4a14.5 14.5 0 1 0 29 0a14.5 14.5 0 1 0 -29 0zM1444.2 3316.4a14.5 14.5 0 1 0 29 0a14.5 14.5 0 1 0 -29 0zM1452.4 3316.4a14.5 14.5 0 1 0 29 0a14.5 14.5 0 1 0 -29 0zM1460.7 3316.3a14.5 14.5 0 1 0 29 0a14.5 14.5 0 1 0 -29 0zM1469 3316.3a14.5 14.5 0 1 0 29 0a14.5 14.5 0 1 0 -29 0zM1477.2 3316.3a14.5 14.5 0 1 0 29 0a14.5 14.5 0 1 0 -29 0zM1485.5 3316.3a14.5 14.5 0 1 0 29 0a14.5 14.5 0 1 0 -29 0zM1493.7 3316.3a14.5 14.5 0 1 0 29 0a14.5 14.5 0 1 0 -29 0zM1502 3316.3a14.5 14.5 0 1 0 29 0a14.5 14.5 0 1 0 -29 0zM1510.2 3316.3a14.5 14.5 0 1 0 29 0a14.5 14.5 0 1 0 -29 0zM1518.5 3316.3a14.5 14.5 0 1 0 29 0a14.5 14.5 0 1 0 -29 0zM1526.7 3316.2a14.5 14.5 0 1 0 29 0a14.5 14.5 0 1 0 -29 0zM1535 3316.2a14.5 14.5 0 1 0 29 0a14.5 14.5 0 1 0 -29 0zM1543.3 3316.2a14.5 14.5 0 1 0 29 0a14.5 14.5 0 1 0 -29 0zM1551.5 3316.2a14.5 14.5 0 1 0 29 0a14.5 14.5 0 1 0 -29 0zM1559.8 3316.2a14.5 14.5 0 1 0 29 0a14.5 14.5 0 1 0 -29 0zM1568 3316.2a14.5 14.5 0 1 0 29 0a14.5 14.5 0 1 0 -29 0zM1576.3 3316.2a14.5 14.5 0 1 0 29 0a14.5 14.5 0 1 0 -29 0zM1584.5 3316.2a14.5 14.5 0 1 0 29 0a14.5 14.5 0 1 0 -29 0zM1592.8 3316.2a14.5 14.5 0 1 0 29 0a14.5 14.5 0 1 0 -29 0zM1601.1 3316.2a14.5 14.5 0 1 0 29 0a14.5 14.5 0 1 0 -29 0zM1609.3 3316.1a14.5 14.5 0 1 0 29 0a14.5 14.5 0 1 0 -29 0zM1617.6 3316.1a14.5 14.5 0 1 0 29 0a14.5 14.5 0 1 0 -29 0zM1625.8 3316.1a14.5 14.5 0 1 0 29 0a14.5 14.5 0 1 0 -29 0zM1634.1 3316.1a14.5 14.5 0 1 0 29 0a14.5 14.5 0 1 0 -29 0zM1642.3 3316.1a14.5 14.5 0 1 0 29 0a14.5 14.5 0 1 0 -29 0zM1650.6 3316.1a14.5 14.5 0 1 0 29 0a14.5 14.5 0 1 0 -29 0zM1658.9 3316.1a14.5 14.5 0 1 0 29 0a14.5 14.5 0 1 0 -29 0zM1667.1 3316.1a14.5 14.5 0 1 0 29 0a14.5 14.5 0 1 0 -29 0zM1675.4 3316.1a14.5 14.5 0 1 0 29 0a14.5 14.5 0 1 0 -29 0zM1683.6 3316.1a14.5 14.5 0 1 0 29 0a14.5 14.5 0 1 0 -29 0zM1691.9 3316.1a14.5 14.5 0 1 0 29 0a14.5 14.5 0 1 0 -29 0zM1700.1 3316.1a14.5 14.5 0 1 0 29 0a14.5 14.5 0 1 0 -29 0zM1708.4 3316.1a14.5 14.5 0 1 0 29 0a14.5 14.5 0 1 0 -29 0zM1716.7 3316.1a14.5 14.5 0 1 0 29 0a14.5 14.5 0 1 0 -29 0zM1724.9 3316.1a14.5 14.5 0 1 0 29 0a14.5 14.5 0 1 0 -29 0zM1733.2 3316a14.5 14.5 0 1 0 29 0a14.5 14.5 0 1 0 -29 0z"/>
<path fill="#00ff00" d="M250 3579.4l16.5 28h-33zM262.4 3519.1l16.5 28h-33zM270.7 3491.6l16.5 28h-33zM278.9 3474.3l16.5 28h-33zM287.2 3465.6l16.5 28h-33zM295.4 3460l16.5 28h-33zM303.7 3454.7l16.5 28h-33zM312 3449l16.5 28h-33zM320.2 3444.5l16.5 28h-33zM328.5 3439.5l16.5 28h-33zM336.7 3435.1l16.5 28h-33zM345 3431.3l16.5 28h-33zM353.2 3428l16.5 28h-33zM361.5 3425.6l16.5 28h-33zM369.8 3423.9l16.5 28h-33zM378 3422.3l16.5 28h-33zM386.3 3420.9l16.5 28h-33zM394.5 3419.5l16.5 28h-33zM402.8 3418.5l16.5 28h-33zM411 3417.6l16.5 28h-33zM419.3 3416.8l16.5 28h-33zM427.6 3416l16.5 28h-33zM435.8 3415.2l16.5 28h-33zM444.1 3414.4l16.5 28h-33zM452.3 3413.7l16.5 28h-33zM460.6 3413l16.5 28h-33zM468.8 3412.3l16.5 28h-33zM477.1 3411.7l16.5 28h-33zM485.4 3411l16.5 28h-33zM493.6 3410.4l16.5 28h-33zM501.9 3409.7l16.5 28h-33zM510.1 3409.1l16.5 28h-33zM518.4 3408.5l16.5 28h-33zM526.6 3407.9l16.5 28h-33zM534.9 3407.3l16.5 28h-33zM543.1 3406.7l16.5 28h-33zM551.4 3405.9l16.5 28h-33zM559.7 3405.2l16.5 28h-33zM567.9 3404.5l16.5 28h-33zM576.2 3403.7l16.5 28h-33zM584.4 3403l16.5 28h-33zM592.7 3402.3l16.5 28h-33zM600.9 3401.6l16.5 28h-33zM609.2 3401l16.5 28h-33zM617.5 3400.5l16.5 28h-33zM625.7 3400.1l16.5 28h-33zM634 3399.6l16.5 28h-33zM642.2 3399.2l16.5 28h-33zM650.5 3398.8l16.5 28h-33zM658.7 3398.4l16.5 28h-33zM667 3398l16.5 28h-33zM675.3 3397.6l16.5 28h-33zM683.5 3397.2l16.5 28h-33zM691.8 3396.9l16.5 28h-33zM700 3396.5l16.5 28h-33zM708.3 3396.1l16.5 28h-33zM716.5 3395.8l16.5 28h-33zM724.8 3395.4l16.5 28h-33zM733.1 3395.1l16.5 28h-33zM741.3 3394.7l16.5 28h-33zM749.6 3394.4l16.5 28h-33zM757.8 3394l16.5 28h-33zM766.1 3393.7l16.5 28h-33zM774.3 3393.4l16.5 28h-33zM782.6 3393.1l16.5 28h-33zM790.9 3392.8l16.5 28h-33zM799.1 3392.4l16.5 28h-33zM807.4 3392.1l16.5 28h-33zM815.6 3391.8l16.5 28h-33zM823.9 3391.5l16.5 28h-33zM832.1 3391.3l16.5 28h-33zM840.4 3391l16.5 28h-33zM848.6 3390.7l16.5 28h-33zM856.9 3390.4l16.5 28h-33zM865.2 3390.1l16.5 28h-33zM873.4 3389.9l16.5 28h-33zM881.7 3389.6l16.5 28h-33zM889.9 3389.3l16.5 28h-33zM898.2 3389.1l16.5 28h-33zM906.4 3388.8l16.5 28h-33zM914.7 3388.6l16.5 28h-33zM923 3388.3l16.5 28h-33zM931.2 3388.1l16.5 28h-33zM939.5 3387.8l16.5 28h-33zM947.7 3387.6l16.5 28h-33zM956 3387.4l16.5 28h-33zM964.2 3387.1l16.5 28h-33zM972.5 3386.9l16.5 28h-33zM980.8 3386.7l16.5 28h-33zM989 3386.5l16.5 28h-33zM997.3 3386.3l16.5 28h-33zM1005.5 3386.1l16.5 28h-33zM1013.8 3385.8l16.5 28h-33zM1022 3385.6l16.5 28h-33zM1030.3 3385.4l16.5 28h-33zM1038.6 3385.2l16.5 28h-33zM1046.8 3385l16.5 28h-33zM1055.1 3384.8l16.5 28h-33zM1063.3 3384.6l16.5 28h-33zM1071.6 3384.5l16.5 28h-33zM1079.8 3384.3l16.5 28h-33zM1088.1 3384.1l16.5 28h-33zM1096.3 3383.9l16.5 28h-33zM1104.6 3383.7l16.5 28h-33zM1112.9 3383.6l16.5 28h-33zM1121.1 3383.4l16.5 28h-33zM1129.4 3383.2l16.5 28h-33zM1137.6 3383.1l16.5 28h-33zM1145.9 3383l16.5 28h-33zM1154.1 3382.8l16.5 28h-33zM1162.4 3382.7l16.5 28h-33zM1170.7 3382.6l16.5 28h-33zM1178.9 3382.5l16.5 28h-33zM1187.2 3382.4l16.5 28h-33zM1195.4 3382.2l16.5 28h-33zM1203.7 3382.1l16.5 28h-33zM1211.9 3382l16.5 28h-33zM1220.2 3381.9l16.5 28h-33zM1228.5 3381.8l16.5 28h-33zM1236.7 3381.7l16.5 28h-33zM1245 3381.6l16.5 28h-33zM1253.2 3381.5l16.5 28h-33zM1261.5 3381.4l16.5 28h-33zM1269.7 3381.3l16.5 28h-33zM1278 3381.2l16.5 28h-33zM1286.3 3381.1l16.5 28h-33zM1294.5 3381l16.5 28h-33zM1302.8 3380.9l16.5 28h-33zM1311 3380.8l16.5 28h-33zM1319.3 3380.8l16.5 28h-33zM1327.5 3380.7l16.5 28h-33zM1335.8 3380.6l16.5 28h-33zM1344.1 3380.5l16.5 28h-33zM1352.3 3380.4l16.5 28h-33zM1360.6 3380.4l16.5 28h-33zM1368.8 3380.3l16.5 28h-33zM1377.1 3380.2l16.5 28h-33zM1385.3 3380.1l16.5 28h-33zM1393.6 3380.1l16.5 28h-33zM1401.8 3380l16.5 28h-33zM1410.1 3379.9l16.5 28h-33zM1418.4 3379.9l16.5 28h-33zM1426.6 3379.8l16.5 28h-33zM1434.9 3379.7l16.5 28h-33zM1443.1 3379.7l16.5 28h-33zM1451.4 3379.6l16.5 28h-33zM1459.6 3379.6l16.5 28h-33zM1467.9 3379.5l16.5 28h-33zM1476.2 3379.5l16.5 28h-33zM1484.4 3379.4l16.5 28h-33zM1492.7 3379.3l16.5 28h-33zM1500.9 3379.3l16.5 28h-33zM1509.2 3379.2l16.5 28h-33zM1517.4 3379.2l16.5 28h-33zM1525.7 3379.1l16.5 28h-33zM1534 3379.1l16.5 28h-33zM1542.2 3379.1l16.5 28h-33zM1550.5 3379l16.5 28h-33zM1558.7 3379l16.5 28h-33zM1567 3378.9l16.5 28h-33zM1575.2 3378.9l16.5 28h-33zM1583.5 3378.8l16.5 28h-33zM1591.8 3378.8l16.5 28h-33zM1600 3378.8l16.5 28h-33zM1608.3 3378.7l16.5 28h-33zM1616.5 3378.7l16.5 28h-33zM1624.8 3378.7l16.5 28h-33zM1633 3378.6l16.5 28h-33zM1641.3 3378.6l16.5 28h-33zM1649.5 3378.6l16.5 28h-33zM1657.8 3378.5l16.5 28h-33zM1666.1 3378.5l16.5 28h-33zM1674.3 3378.5l16.5 28h-33zM1682.6 3378.4l16.5 28h-33zM1690.8 3378.4l16.5 28h-33zM1699.1 3378.4l16.5 28h-33zM1707.3 3378.4l16.5 28h-33zM1715.6 3378.3l16.5 28h-33zM1723.9 3378.3l16.5 28h-33zM1732.1 3378.3l16.5 28h-33zM1740.4 3378.3l16.5 28h-33zM1748.6 3378.3l16.5 28h-33z"/>
<path fill="#0000ff" d="M250 3739.1l-16.5 -28h33zM262.7 3697.9l-16.5 -28h33zM270.9 3667.7l-16.5 -28h33zM279.2 3642.1l-16.5 -28h33zM287.4 3623.2l-16.5 -28h33zM295.7 3609.8l-16.5 -28h33zM303.9 3597.7l-16.5 -28h33zM312.2 3589.4l-16.5 -28h33zM320.5 3583.4l-16.5 -28h33zM328.7 3578l-16.5 -28h33zM337 3573.5l-16.5 -28h33zM345.2 3569.9l-16.5 -28h33zM353.5 3566.9l-16.5 -28h33zM361.7 3564.3l-16.5 -28h33zM370 3562.2l-16.5 -28h33zM378.3 3560.2l-16.5 -28h33zM386.5 3558.4l-16.5 -28h33zM394.8 3556.8l-16.5 -28h33zM403 3555.4l-16.5 -28h33zM411.3 3554.1l-16.5 -28h33zM419.5 3552.9l-16.5 -28h33zM427.8 3551.8l-16.5 -28h33zM436.1 3550.7l-16.5 -28h33zM444.3 3549.7l-16.5 -28h33zM452.6 3548.7l-16.5 -28h33zM460.8 3547.8l-16.5 -28h33zM469.1 3546.8l-16.5 -28h33zM477.3 3546l-16.5 -28h33zM485.6 3545.1l-16.5 -28h33zM493.8 3544.2l-16.5 -28h33zM502.1 3543.4l-16.5 -28h33zM510.4 3542.6l-16.5 -28h33zM518.6 3541.8l-16.5 -28h33zM526.9 3541l-16.5 -28h33zM535.1 3540.2l-16.5 -28h33zM543.4 3539.4l-16.5 -28h33zM551.6 3538.7l-16.5 -28h33zM559.9 3538l-16.5 -28h33zM568.2 3537.2l-16.5 -28h33zM576.4 3536.5l-16.5 -28h33zM584.7 3535.8l-16.5 -28h33zM592.9 3535.1l-16.5 -28h33zM601.2 3534.4l-16.5 -28h33zM609.4 3533.7l-16.5 -28h33zM617.7 3533.1l-16.5 -28h33zM626 3532.6l-16.5 -28h33zM634.2 3532l-16.5 -28h33zM642.5 3531.5l-16.5 -28h33zM650.7 3530.9l-16.5 -28h33zM659 3530.4l-16.5 -28h33zM667.2 3529.8l-16.5 -28h33zM675.5 3529.3l-16.5 -28h33zM683.8 3528.8l-16.5 -28h33zM692 3528.3l-16.5 -28h33zM700.3 3527.7l-16.5 -28h33zM708.5 3527.2l-16.5 -28h33zM716.8 3526.7l-16.5 -28h33zM725 3526.2l-16.5 -28h33zM733.3 3525.7l-16.5 -28h33zM741.6 3525.2l-16.5 -28h33zM749.8 3524.8l-16.5 -28h33zM758.1 3524.3l-16.5 -28h33zM766.3 3523.8l-16.5 -28h33zM774.6 3523.3l-16.5 -28h33zM782.8 3522.8l-16.5 -28h33zM791.1 3522.4l-16.5 -28h33zM799.3 3521.9l-16.5 -28h33zM807.6 3521.5l-16.5 -28h33zM815.9 3521l-16.5 -28h33zM824.1 3520.6l-16.5 -28h33zM832.4 3520.1l-16.5 -28h33zM840.6 3519.7l-16.5 -28h33zM848.9 3519.2l-16.5 -28h33zM857.1 3518.8l-16.5 -28h33zM865.4 3518.4l-16.5 -28h33zM873.7 3518l-16.5 -28h33zM881.9 3517.5l-16.5 -28h33zM890.2 3517.1l-16.5 -28h33zM898.4 3516.7l-16.5 -28h33zM906.7 3516.3l-16.5 -28h33zM914.9 3515.9l-16.5 -28h33zM923.2 3515.5l-16.5 -28h33zM931.5 3515.1l-16.5 -28h33zM939.7 3514.7l-16.5 -28h33zM948 3514.3l-16.5 -28h33zM956.2 3513.9l-16.5 -28h33zM964.5 3513.5l-16.5 -28h33zM972.7 3513.2l-16.5 -28h33zM981 3512.8l-16.5 -28h33zM989.3 3512.4l-16.5 -28h33zM997.5 3512l-16.5 -28h33zM1005.8 3511.7l-16.5 -28h33zM1014 3511.3l-16.5 -28h33zM1022.3 3511l-16.5 -28h33zM1030.5 3510.6l-16.5 -28h33zM1038.8 3510.3l-16.5 -28h33zM1047 3509.9l-16.5 -28h33zM1055.3 3509.6l-16.5 -28h33zM1063.6 3509.2l-16.5 -28h33zM1071.8 3508.9l-16.5 -28h33zM1080.1 3508.5l-16.5 -28h33zM1088.3 3508.2l-16.5 -28h33zM1096.6 3507.9l-16.5 -28h33zM1104.8 3507.6l-16.5 -28h33zM1113.1 3507.2l-16.5 -28h33zM1121.4 3506.9l-16.5 -28h33zM1129.6 3506.6l-16.5 -28h33zM1137.9 3506.3l-16.5 -28h33zM1146.1 3506l-16.5 -28h33zM1154.4 3505.6l-16.5 -28h33zM1162.6 3505.3l-16.5 -28h33zM1170.9 3505l-16.5 -28h33zM1179.2 3504.7l-16.5 -28h33zM1187.4 3504.4l-16.5 -28h33zM1195.7 3504.1l-16.5 -28h33zM1203.9 3503.8l-16.5 -28h33zM1212.2 3503.5l-16.5 -28h33zM1220.4 3503.2l-16.5 -28h33zM1228.7 3502.9l-16.5 -28h33zM1237 3502.6l-16.5 -28h33zM1245.2 3502.3l-16.5 -28h33zM1253.5 3502.1l-16.5 -28h33zM1261.7 3501.8l-16.5 -28h33zM1270 3501.5l-16.5 -28h33zM1278.2 3501.2l-16.5 -28h33zM1286.5 3500.9l-16.5 -28h33zM1294.8 3500.7l-16.5 -28h33zM1303 3500.4l-16.5 -28h33zM1311.3 3500.1l-16.5 -28h33zM1319.5 3499.9l-16.5 -28h33zM1327.8 3499.6l-16.5 -28h33zM1336 3499.4l-16.5 -28h33zM1344.3 3499.1l-16.5 -28h33zM1352.5 3498.8l-16.5 -28h33zM1360.8 3498.6l-16.5 -28h33zM1369.1 3498.3l-16.5 -28h33zM1377.3 3498.1l-16.5 -28h33zM1385.6 3497.8l-16.5 -28h33zM1393.8 3497.6l-16.5 -28h33zM1402.1 3497.4l-16.5 -28h33zM1410.3 3497.1l-16.5 -28h33zM1418.6 3496.9l-16.5 -28h33zM1426.9 3496.7l-16.5 -28h33zM1435.1 3496.4l-16.5 -28h33zM1443.4 3496.2l-16.5 -28h33zM1451.6 3496l-16.5 -28h33zM1459.9 3495.7l-16.5 -28h33zM1468.1 3495.5l-16.5 -28h33zM1476.4 3495.3l-16.5 -28h33zM1484.7 3495.1l-16.5 -28h33zM1492.9 3494.9l-16.5 -28h33zM1501.2 3494.6l-16.5 -28h33zM1509.4 3494.4l-16.5 -28h33zM1517.7 3494.2l-16.5 -28h33zM1525.9 3494l-16.5 -28h33zM1534.2 3493.8l-16.5 -28h33zM1542.5 3493.6l-16.5 -28h33zM1550.7 3493.4l-16.5 -28h33zM1559 3493.2l-16.5 -28h33zM1567.2 3493l-16.5 -28h33zM1575.5 3492.8l-16.5 -28h33zM1583.7 3492.6l-16.5 -28h33zM1592 3492.4l-16.5 -28h33zM1600.2 3492.2l-16.5 -28h33zM1608.5 3492l-16.5 -28h33zM1616.8 3491.8l-16.5 -28h33zM1625 3491.6l-16.5 -28h33zM1633.3 3491.4l-16.5 -28h33zM1641.5 3491.3l-16.5 -28h33zM1649.8 3491.1l-16.5 -28h33zM1658 3490.9l-16.5 -28h33zM1666.3 3490.7l-16.5 -28h33zM1674.6 3490.5l-16.5 -28h33zM1682.8 3490.4l-16.5 -28h33zM1691.1 3490.2l-16.5 -28h33zM1699.3 3490l-16.5 -28h33zM1707.6 3489.8l-16.5 -28h33zM1715.8 3489.7l-16.5 -28h33zM1724.1 3489.5l-16.5 -28h33zM1732.4 3489.3l-16.5 -28h33zM1740.6 3489.2l-16.5 -28h33zM1748.9 3489l-16.5 -28h33z"/>
<path fill="#00ffff" d="M250 3843.1l17 17l-17 17l-17 -17zM260.9 3795.3l17 17l-17 17l-17 -17zM269.1 3750.9l17 17l-17 17l-17 -17zM277.4 3723.2l17 17l-17 17l-17 -17zM285.6 3695.9l17 17l-17 17l-17 -17zM293.9 3677.8l17 17l-17 17l-17 -17zM302.1 3663l17 17l-17 17l-17 -17zM310.4 3650.8l17 17l-17 17l-17 -17zM318.7 3640.8l17 17l-17 17l-17 -17zM326.9 3632.6l17 17l-17 17l-17 -17zM335.2 3625.8l17 17l-17 17l-17 -17zM343.4 3620.1l17 17l-17 17l-17 -17zM351.7 3615.4l17 17l-17 17l-17 -17zM359.9 3611.4l17 17l-17 17l-17 -17zM368.2 3608l17 17l-17 17l-17 -17zM376.4 3605.1l17 17l-17 17l-17 -17zM384.7 3602.7l17 17l-17 17l-17 -17zM393 3600.5l17 17l-17 17l-17 -17zM401.2 3598.7l17 17l-17 17l-17 -17zM409.5 3597.1l17 17l-17 17l-17 -17zM417.7 3595.6l17 17l-17 17l-17 -17zM426 3594.3l17 17l-17 17l-17 -17zM434.2 3593.2l17 17l-17 17l-17 -17zM442.5 3592.2l17 17l-17 17l-17 -17zM450.8 3591.2l17 17l-17 17l-17 -17zM459 3590.3l17 17l-17 17l-17 -17zM467.3 3589.5l17 17l-17 17l-17 -17zM475.5 3588.8l17 17l-17 17l-17 -17zM483.8 3588l17 17l-17 17l-17 -17zM492 3587.4l17 17l-17 17l-17 -17zM500.3 3586.7l17 17l-17 17l-17 -17zM508.6 3586.1l17 17l-17 17l-17 -17zM516.8 3585.5l17 17l-17 17l-17 -17zM525.1 3585l17 17l-17 17l-17 -17zM533.3 3584.4l17 17l-17 17l-17 -17zM541.6 3583.9l17 17l-17 17l-17 -17zM549.8 3583.4l17 17l-17 17l-17 -17zM558.1 3583l17 17l-17 17l-17 -17zM566.4 3582.5l17 17l-17 17l-17 -17zM574.6 3582.1l17 17l-17 17l-17 -17zM582.9 3581.7l17 17l-17 17l-17 -17zM591.1 3581.3l17 17l-17 17l-17 -17zM599.4 3580.9l17 17l-17 17l-17 -17zM607.6 3580.5l17 17l-17 17l-17 -17zM615.9 3580.1l17 17l-17 17l-17 -17zM624.1 3579.7l17 17l-17 17l-17 -17zM632.4 3579.3l17 17l-17 17l-17 -17zM640.7 3578.9l17 17l-17 17l-17 -17zM648.9 3578.6l17 17l-17 17l-17 -17zM657.2 3578.2l17 17l-17 17l-17 -17zM665.4 3577.9l17 17l-17 17l-17 -17zM673.7 3577.5l17 17l-17 17l-17 -17zM681.9 3577.2l17 17l-17 17l-17 -17zM690.2 3576.9l17 17l-17 17l-17 -17zM698.5 3576.5l17 17l-17 17l-17 -17zM706.7 3576.2l17 17l-17 17l-17 -17zM715 3575.9l17 17l-17 17l-17 -17zM723.2 3575.6l17 17l-17 17l-17 -17zM731.5 3575.3l17 17l-17 17l-17 -17zM739.7 3574.9l17 17l-17 17l-17 -17zM748 3574.6l17 17l-17 17l-17 -17zM756.3 3574.3l17 17l-17 17l-17 -17zM764.5 3574l17 17l-17 17l-17 -17zM772.8 3573.8l17 17l-17 17l-17 -17zM781 3573.5l17 17l-17 17l-17 -17zM789.3 3573.2l17 17l-17 17l-17 -17zM797.5 3572.9l17 17l-17 17l-17 -17zM805.8 3572.6l17 17l-17 17l-17 -17zM814.1 3572.4l17 17l-17 17l-17 -17zM822.3 3572.1l17 17l-17 17l-17 -17zM830.6 3571.8l17 17l-17 17l-17 -17zM838.8 3571.6l17 17l-17 17l-17 -17zM847.1 3571.3l17 17l-17 17l-17 -17zM855.3 3571.1l17 17l-17 17l-17 -17zM863.6 3570.8l17 17l-17 17l-17 -17zM871.9 3570.6l17 17l-17 17l-17 -17zM880.1 3570.3l17 17l-17 17l-17 -17zM888.4 3570.1l17 17l-17 17l-17 -17zM896.6 3569.8l17 17l-17 17l-17 -17zM904.9 3569.6l17 17l-17 17l-17 -17zM913.1 3569.4l17 17l-17 17l-17 -17zM921.4 3569.2l17 17l-17 17l-17 -17zM929.6 3568.9l17 17l-17 17l-17 -17zM937.9 3568.7l17 17l-17 17l-17 -17zM946.2 3568.5l17 17l-17 17l-17 -17zM954.4 3568.3l17 17l-17 17l-17 -17zM962.7 3568.1l17 17l-17 17l-17 -17zM970.9 3567.9l17 17l-17 17l-17 -17zM979.2 3567.6l17 17l-17 17l-17 -17zM987.4 3567.4l17 17l-17 17l-17 -17zM995.7 3567.2l17 17l-17 17l-17 -17zM1004 3567l17 17l-17 17l-17 -17zM1012.2 3566.8l17 17l-17 17l-17 -17zM1020.5 3566.6l17 17l-17 17l-17 -17zM1028.7 3566.5l17 17l-17 17l-17 -17zM1037 3566.3l17 17l-17 17l-17 -17zM1045.2 3566.1l17 17l-17 17l-17 -17zM1053.5 3565.9l17 17l-17 17l-17 -17zM1061.8 3565.7l17 17l-17 17l-17 -17zM1070 3565.5l17 17l-17 17l-17 -17zM1078.3 3565.4l17 17l-17 17l-17 -17zM1086.5 3565.2l17 17l-17 17l-17 -17zM1094.8 3565l17 17l-17 17l-17 -17zM1103 3564.8l17 17l-17 17l-17 -17zM1111.3 3564.7l17 17l-17 17l-17 -17zM1119.6 3564.5l17 17l-17 17l-17 -17zM1127.8 3564.3l17 17l-17 17l-17 -17zM1136.1 3564.1l17 17l-17 17l-17 -17zM1144.3 3563.9l17 17l-17 17l-17 -17zM1152.6 3563.7l17 17l-17 17l-17 -17zM1160.8 3563.4l17 17l-17 17l-17 -17zM1169.1 3563.2l17 17l-17 17l-17 -17zM1177.3 3563l17 17l-17 17l-17 -17zM1185.6 3562.8l17 17l-17 17l-17 -17zM1193.9 3562.6l17 17l-17 17l-17 -17zM1202.1 3562.4l17 17l-17 17l-17 -17zM1210.4 3562.2l17 17l-17 17l-17 -17zM1218.6 3561.9l17 17l-17 17l-17 -17zM1226.9 3561.7l17 17l-17 17l-17 -17zM1235.1 3561.5l17 17l-17 17l-17 -17zM1243.4 3561.3l17 17l-17 17l-17 -17zM1251.7 3561.1l17 17l-17 17l-17 -17zM1259.9 3560.9l17 17l-17 17l-17 -17zM1268.2 3560.7l17 17l-17 17l-17 -17zM1276.4 3560.5l17 17l-17 17l-17 -17zM1284.7 3560.3l17 17l-17 17l-17 -17zM1292.9 3560.1l17 17l-17 17l-17 -17zM1301.2 3560l17 17l-17 17l-17 -17zM1309.5 3559.8l17 17l-17 17l-17 -17zM1317.7 3559.6l17 17l-17 17l-17 -17zM1326 3559.4l17 17l-17 17l-17 -17zM1334.2 3559.2l17 17l-17 17l-17 -17zM1342.5 3559l17 17l-17 17l-17 -17zM1350.7 3558.8l17 17l-17 17l-17 -17zM1359 3558.7l17 17l-17 17l-17 -17zM1367.3 3558.5l17 17l-17 17l-17 -17zM1375.5 3558.3l17 17l-17 17l-17 -17zM1383.8 3558.1l17 17l-17 17l-17 -17zM1392 3558l17 17l-17 17l-17 -17zM1400.3 3557.8l17 17l-17 17l-17 -17zM1408.5 3557.6l17 17l-17 17l-17 -17zM1416.8 3557.5l17 17l-17 17l-17 -17zM1425.1 3557.3l17 17l-17 17l-17 -17zM1433.3 3557.1l17 17l-17 17l-17 -17zM1441.6 3557l17 17l-17 17l-17 -17zM1449.8 3556.8l17 17l-17 17l-17 -17zM1458.1 3556.6l17 17l-17 17l-17 -17zM1466.3 3556.5l17 17l-17 17l-17 -17zM1474.6 3556.3l17 17l-17 17l-17 -17zM1482.8 3556.2l17 17l-17 17l-17 -17zM1491.1 3556l17 17l-17 17l-17 -17zM1499.4 3555.8l17 17l-17 17l-17 -17zM1507.6 3555.7l17 17l-17 17l-17 -17zM1515.9 3555.5l17 17l-17 17l-17 -17zM1524.1 3555.4l17 17l-17 17l-17 -17zM1532.4 3555.2l17 17l-17 17l-17 -17zM1540.6 3555.1l17 17l-17 17l-17 -17zM1548.9 3554.9l17 17l-17 17l-17 -17zM1557.2 3554.8l17 17l-17 17l-17 -17zM1565.4 3554.6l17 17l-17 17l-17 -17zM1573.7 3554.5l17 17l-17 17l-17 -17zM1581.9 3554.4l17 17l-17 17l-17 -17zM1590.2 3554.2l17 17l-17 17l-17 -17zM1598.4 3554.1l17 17l-17 17l-17 -17zM1606.7 3553.9l17 17l-17 17l-17 -17zM1615 3553.8l17 17l-17 17l-17 -17zM1623.2 3553.7l17 17l-17 17l-17 -17zM1631.5 3553.5l17 17l-17 17l-17 -17zM1639.7 3553.4l17 17l-17 17l-17 -17zM1648 3553.2l17 17l-17 17l-17 -17zM1656.2 3553.1l17 17l-17 17l-17 -17zM1664.5 3553l17 17l-17 17l-17 -17zM1672.8 3552.8l17 17l-17 17l-17 -17zM1681 3552.7l17 17l-17 17l-17 -17zM1689.3 3552.6l17 17l-17 17l-17 -17zM1697.5 3552.5l17 17l-17 17l-17 -17zM1705.8 3552.3l17 17l-17 17l-17 -17zM1714 3552.2l17 17l-17 17l-17 -17zM1722.3 3552.1l17 17l-17 17l-17 -17zM1730.5 3552l17 17l-17 17l-17 -17zM1738.8 3551.8l17 17l-17 17l-17 -17zM1747.1 3551.7l17 17l-17 17l-17 -17zM1755.3 3551.6l17 17l-17 17l-17 -17z"/>
<path fill="#c0c0c0" d="M233 3980.1l30 -16.5v33zM243.9 3928l30 -16.5v33zM252.1 3895.4l30 -16.5v33zM260.4 3867l30 -16.5v33zM268.6 3842.3l30 -16.5v33zM276.9 3820.6l30 -16.5v33zM285.1 3801.6l30 -16.5v33zM293.4 3785l30 -16.5v33zM301.7 3770.4l30 -16.5v33zM309.9 3757.6l30 -16.5v33zM318.2 3746.3l30 -16.5v33zM326.4 3736.5l30 -16.5v33zM334.7 3727.8l30 -16.5v33zM342.9 3720.1l30 -16.5v33zM351.2 3713.4l30 -16.5v33zM359.4 3707.5l30 -16.5v33zM367.7 3702.2l30 -16.5v33zM376 3697.6l30 -16.5v33zM384.2 3693.5l30 -16.5v33zM392.5 3689.9l30 -16.5v33zM400.7 3686.7l30 -16.5v33zM409 3683.9l30 -16.5v33zM417.2 3681.4l30 -16.5v33zM425.5 3679.1l30 -16.5v33zM433.8 3677.1l30 -16.5v33zM442 3675.3l30 -16.5v33zM450.3 3673.7l30 -16.5v33zM458.5 3672.3l30 -16.5v33zM466.8 3671l30 -16.5v33zM475 3669.8l30 -16.5v33zM483.3 3668.8l30 -16.5v33zM491.6 3667.8l30 -16.5v33zM499.8 3667l30 -16.5v33zM508.1 3666.2l30 -16.5v33zM516.3 3665.5l30 -16.5v33zM524.6 3664.6l30 -16.5v33zM532.8 3663.6l30 -16.5v33zM541.1 3662.6l30 -16.5v33zM549.4 3661.6l30 -16.5v33zM557.6 3660.7l30 -16.5v33zM565.9 3659.8l30 -16.5v33zM574.1 3659l30 -16.5v33zM582.4 3658.1l30 -16.5v33zM590.6 3657.3l30 -16.5v33zM598.9 3656.8l30 -16.5v33zM607.1 3656.4l30 -16.5v33zM615.4 3656.1l30 -16.5v33zM623.7 3655.7l30 -16.5v33zM631.9 3655.4l30 -16.5v33zM640.2 3655.1l30 -16.5v33zM648.4 3654.8l30 -16.5v33zM656.7 3654.5l30 -16.5v33zM664.9 3654.2l30 -16.5v33zM673.2 3653.9l30 -16.5v33zM681.5 3653.7l30 -16.5v33zM689.7 3653.4l30 -16.5v33zM698 3653.1l30 -16.5v33zM706.2 3652.9l30 -16.5v33zM714.5 3652.6l30 -16.5v33zM722.7 3652.4l30 -16.5v33zM731 3652.2l30 -16.5v33zM739.3 3651.9l30 -16.5v33zM747.5 3651.7l30 -16.5v33zM755.8 3651.5l30 -16.5v33zM764 3651.3l30 -16.5v33zM772.3 3651.1l30 -16.5v33zM780.5 3650.9l30 -16.5v33zM788.8 3650.7l30 -16.5v33zM797.1 3650.4l30 -16.5v33zM805.3 3650.2l30 -16.5v33zM813.6 3650.1l30 -16.5v33zM821.8 3649.9l30 -16.5v33zM830.1 3649.7l30 -16.5v33zM838.3 3649.5l30 -16.5v33zM846.6 3649.3l30 -16.5v33zM854.9 3649.1l30 -16.5v33zM863.1 3648.9l30 -16.5v33zM871.4 3648.8l30 -16.5v33zM879.6 3648.6l30 -16.5v33zM887.9 3648.4l30 -16.5v33zM896.1 3648.2l30 -16.5v33zM904.4 3648.1l30 -16.5v33zM912.6 3647.9l30 -16.5v33zM920.9 3647.7l30 -16.5v33zM929.2 3647.6l30 -16.5v33zM937.4 3647.4l30 -16.5v33zM945.7 3647.2l30 -16.5v33zM953.9 3647.1l30 -16.5v33zM962.2 3646.9l30 -16.5v33zM970.4 3646.8l30 -16.5v33zM978.7 3646.6l30 -16.5v33zM987 3646.5l30 -16.5v33zM995.2 3646.3l30 -16.5v33zM1003.5 3646.2l30 -16.5v33zM1011.7 3646l30 -16.5v33zM1020 3645.9l30 -16.5v33zM1028.2 3645.8l30 -16.5v33zM1036.5 3645.6l30 -16.5v33zM1044.8 3645.5l30 -16.5v33zM1053 3645.4l30 -16.5v33zM1061.3 3645.2l30 -16.5v33zM1069.5 3645.1l30 -16.5v33zM1077.8 3645l30 -16.5v33zM1086 3644.8l30 -16.5v33zM1094.3 3644.7l30 -16.5v33zM1102.6 3644.6l30 -16.5v33zM1110.8 3644.5l30 -16.5v33zM1119.1 3644.3l30 -16.5v33zM1127.3 3644.1l30 -16.5v33zM1135.6 3643.9l30 -16.5v33zM1143.8 3643.7l30 -16.5v33zM1152.1 3643.5l30 -16.5v33zM1160.3 3643.4l30 -16.5v33zM1168.6 3643.2l30 -16.5v33zM1176.9 3643l30 -16.5v33zM1185.1 3642.8l30 -16.5v33zM1193.4 3642.6l30 -16.5v33zM1201.6 3642.5l30 -16.5v33zM1209.9 3642.3l30 -16.5v33zM1218.1 3642.1l30 -16.5v33zM1226.4 3642l30 -16.5v33zM1234.7 3641.8l30 -16.5v33zM1242.9 3641.6l30 -16.5v33zM1251.2 3641.4l30 -16.5v33zM1259.4 3641.3l30 -16.5v33zM1267.7 3641.1l30 -16.5v33zM1275.9 3641l30 -16.5v33zM1284.2 3640.8l30 -16.5v33zM1292.5 3640.6l30 -16.5v33zM1300.7 3640.5l30 -16.5v33zM1309 3640.3l30 -16.5v33zM1317.2 3640.2l30 -16.5v33zM1325.5 3640l30 -16.5v33zM1333.7 3639.9l30 -16.5v33zM1342 3639.7l30 -16.5v33zM1350.3 3639.6l30 -16.5v33zM1358.5 3639.4l30 -16.5v33zM1366.8 3639.3l30 -16.5v33zM1375 3639.1l30 -16.5v33zM1383.3 3639l30 -16.5v33zM1391.5 3638.8l30 -16.5v33zM1399.8 3638.7l30 -16.5v33zM1408.1 3638.5l30 -16.5v33zM1416.3 3638.4l30 -16.5v33zM1424.6 3638.3l30 -16.5v33zM1432.8 3638.1l30 -16.5v33zM1441.1 3638l30 -16.5v33zM1449.3 3637.8l30 -16.5v33zM1457.6 3637.7l30 -16.5v33zM1465.8 3637.6l30 -16.5v33zM1474.1 3637.4l30 -16.5v33zM1482.4 3637.3l30 -16.5v33zM1490.6 3637.2l30 -16.5v33zM1498.9 3637l30 -16.5v33zM1507.1 3636.9l30 -16.5v33zM1515.4 3636.8l30 -16.5v33zM1523.6 3636.6l30 -16.5v33zM1531.9 3636.5l30 -16.5v33zM1540.2 3636.4l30 -16.5v33zM1548.4 3636.3l30 -16.5v33zM1556.7 3636.1l30 -16.5v33zM1564.9 3636l30 -16.5v33zM1573.2 3635.9l30 -16.5v33zM1581.4 3635.8l30 -16.5v33zM1589.7 3635.7l30 -16.5v33zM1598 3635.5l30 -16.5v33zM1606.2 3635.4l30 -16.5v33zM1614.5 3635.3l30 -16.5v33zM1622.7 3635.2l30 -16.5v33zM1631 3635.1l30 -16.5v33zM1639.2 3635l30 -16.5v33zM1647.5 3634.8l30 -16.5v33zM1655.8 3634.7l30 -16.5v33zM1664 3634.6l30 -16.5v33zM1672.3 3634.5l30 -16.5v33zM1680.5 3634.4l30 -16.5v33zM1688.8 3634.3l30 -16.5v33zM1697 3634.2l30 -16.5v33zM1705.3 3634.1l30 -16.5v33zM1713.5 3634l30 -16.5v33zM1721.8 3633.9l30 -16.5v33zM1730.1 3633.7l30 -16.5v33zM1738.3 3633.6l30 -16.5v33z"/>
<path fill="none" stroke="#ff0000" stroke-width="5.2" stroke-linejoin="round" d="M248.8 3354.9L250.3 3343.3L251.8 3333.1L253.3 3324.1L254.8 3316.3L256.3 3309.3L257.8 3303.2L259.3 3297.8L260.9 3293L262.4 3288.8L263.9 3285L265.4 3281.7L266.9 3278.7L268.4 3276.1L269.9 3273.7L271.4 3271.5L272.9 3269.6L274.4 3267.9L275.9 3266.3L277.4 3264.9L278.9 3263.7L280.4 3262.5L281.9 3261.4L283.5 3260.5L285 3259.6L286.5 3258.8L288 3258L289.5 3257.3L291 3256.6L292.5 3256L294 3255.5L295.5 3254.9L297 3254.4L298.5 3253.9L300 3253.5L301.5 3253L303 3252.6L304.5 3252.2L306.1 3251.8L307.6 3251.4L309.1 3251.1L310.6 3250.7L312.1 3250.4L313.6 3250.1L315.1 3249.7L316.6 3249.4L318.1 3249.1L319.6 3248.8L321.1 3248.5L327.1 3247.4L333.2 3246.3L339.2 3245.2L345.2 3244.2L351.3 3243.2L357.3 3242.2L363.3 3241.3L369.3 3240.4L375.4 3239.5L381.4 3238.6L387.4 3237.7L393.4 3236.9L399.5 3236.1L405.5 3235.3L411.5 3234.5L417.6 3233.7L423.6 3233L429.6 3232.3L435.6 3231.5L441.7 3230.8L447.7 3230.1L453.7 3229.5L459.7 3228.8L465.8 3228.2L471.8 3227.5L477.8 3226.9L483.8 3226.3L489.9 3225.7L495.9 3225.1L501.9 3224.6L508 3224L514 3223.5L520 3223L526 3222.4L532.1 3221.9L538.1 3221.4L544.1 3220.9L550.1 3220.5L556.2 3220L562.2 3219.5L568.2 3219.1L574.2 3218.6L580.3 3218.2L586.3 3217.8L592.3 3217.4L598.4 3217L604.4 3216.6L610.4 3216.2L640.5 3214.3L670.7 3212.7L700.8 3211.2L730.9 3209.8L761.1 3208.5L791.2 3207.4L821.3 3206.4L851.5 3205.4L881.6 3204.6L911.7 3203.8L941.9 3203L972 3202.3L1002.2 3201.7L1032.3 3201.1L1062.4 3200.6L1092.6 3200.1L1122.7 3199.6L1152.8 3199.1L1183 3198.7L1213.1 3198.3L1243.2 3198L1273.4 3197.6L1303.5 3197.3L1333.6 3196.9L1363.8 3196.6L1393.9 3196.3L1424 3196.1L1454.2 3195.8L1484.3 3195.5L1514.4 3195.3L1544.6 3195L1574.7 3194.8L1604.8 3194.5L1635 3194.3L1665.1 3194.1L1695.2 3193.9L1725.4 3193.7L1752.5 3193.5M248.8 3463.7L250.3 3454.3L251.8 3445.8L253.3 3438.2L254.8 3431.3L256.3 3425L257.8 3419.3L259.3 3414.2L260.9 3409.6L262.4 3405.3L263.9 3401.5L265.4 3398L266.9 3394.8L268.4 3391.9L269.9 3389.2L271.4 3386.8L272.9 3384.5L274.4 3382.4L275.9 3380.5L277.4 3378.8L278.9 3377.2L280.4 3375.7L281.9 3374.3L283.5 3373L285 3371.8L286.5 3370.7L288 3369.7L289.5 3368.7L291 3367.8L292.5 3366.9L294 3366.1L295.5 3365.3L297 3364.6L298.5 3364L300 3363.3L301.5 3362.7L303 3362.1L304.5 3361.6L306.1 3361L307.6 3360.5L309.1 3360L310.6 3359.6L312.1 3359.1L313.6 3358.7L315.1 3358.3L316.6 3357.9L318.1 3357.5L319.6 3357.1L321.1 3356.8L327.1 3355.4L333.2 3354.2L339.2 3353.1L345.2 3352L351.3 3351.1L357.3 3350.1L363.3 3349.2L369.3 3348.4L375.4 3347.6L381.4 3346.8L387.4 3346L393.4 3345.3L399.5 3344.6L405.5 3343.9L411.5 3343.2L417.6 3342.5L423.6 3341.9L429.6 3341.3L435.6 3340.6L441.7 3340.1L447.7 3339.5L453.7 3338.9L459.7 3338.4L465.8 3337.8L471.8 3337.3L477.8 3336.8L483.8 3336.3L489.9 3335.8L495.9 3335.3L501.9 3334.9L508 3334.4L514 3334L520 3333.5L526 3333.1L532.1 3332.7L538.1 3332.3L544.1 3331.9L550.1 3331.5L556.2 3331.2L562.2 3330.8L568.2 3330.4L574.2 3330.1L580.3 3329.8L586.3 3329.4L592.3 3329.1L598.4 3328.8L604.4 3328.5L610.4 3328.2L640.5 3326.8L670.7 3325.6L700.8 3324.5L730.9 3323.5L761.1 3322.7L791.2 3321.9L821.3 3321.3L851.5 3320.7L881.6 3320.1L911.7 3319.7L941.9 3319.3L972 3318.9L1002.2 3318.6L1032.3 3318.3L1062.4 3318L1092.6 3317.8L1122.7 3317.6L1152.8 3317.4L1183 3317.2L1213.1 3317.1L1243.2 3317L1273.4 3316.8L1303.5 3316.7L1333.6 3316.7L1363.8 3316.6L1393.9 3316.5L1424 3316.4L1454.2 3316.4L1484.3 3316.3L1514.4 3316.3L1544.6 3316.2L1574.7 3316.2L1604.8 3316.2L1635 3316.1L1665.1 3316.1L1695.2 3316.1L1725.4 3316.1L1752.5 3316M248.8 3584.9L250.3 3576.8L251.8 3569.3L253.3 3562.1L254.8 3555.4L256.3 3549.1L257.8 3543.1L259.3 3537.6L260.9 3532.3L262.4 3527.3L263.9 3522.6L265.4 3518.2L266.9 3514.1L268.4 3510.2L269.9 3506.5L271.4 3503L272.9 3499.7L274.4 3496.6L275.9 3493.7L277.4 3490.9L278.9 3488.3L280.4 3485.8L281.9 3483.5L283.5 3481.2L285 3479.1L286.5 3477.1L288 3475.3L289.5 3473.5L291 3471.8L292.5 3470.2L294 3468.6L295.5 3467.2L297 3465.8L298.5 3464.5L300 3463.3L301.5 3462.1L303 3461L304.5 3459.9L306.1 3458.9L307.6 3457.9L309.1 3457L310.6 3456.1L312.1 3455.2L313.6 3454.4L315.1 3453.6L316.6 3452.9L318.1 3452.2L319.6 3451.5L321.1 3450.9L327.1 3448.5L333.2 3446.5L339.2 3444.8L345.2 3443.3L351.3 3441.9L357.3 3440.7L363.3 3439.7L369.3 3438.7L375.4 3437.8L381.4 3437L387.4 3436.3L393.4 3435.6L399.5 3434.9L405.5 3434.3L411.5 3433.7L417.6 3433.1L423.6 3432.5L429.6 3432L435.6 3431.5L441.7 3431L447.7 3430.5L453.7 3430L459.7 3429.5L465.8 3429.1L471.8 3428.6L477.8 3428.2L483.8 3427.8L489.9 3427.3L495.9 3426.9L501.9 3426.5L508 3426.1L514 3425.7L520 3425.3L526 3424.9L532.1 3424.5L538.1 3424.1L544.1 3423.7L550.1 3423.4L556.2 3423L562.2 3422.6L568.2 3422.3L574.2 3421.9L580.3 3421.6L586.3 3421.2L592.3 3420.9L598.4 3420.5L604.4 3420.2L610.4 3419.9L640.5 3418.2L670.7 3416.7L700.8 3415.3L730.9 3413.9L761.1 3412.6L791.2 3411.4L821.3 3410.2L851.5 3409.1L881.6 3408.1L911.7 3407.1L941.9 3406.1L972 3405.2L1002.2 3404.4L1032.3 3403.6L1062.4 3402.8L1092.6 3402.1L1122.7 3401.4L1152.8 3400.7L1183 3400.1L1213.1 3399.5L1243.2 3398.9L1273.4 3398.3L1303.5 3397.8L1333.6 3397.3L1363.8 3396.8L1393.9 3396.4L1424 3395.9L1454.2 3395.5L1484.3 3395.1L1514.4 3394.7L1544.6 3394.4L1574.7 3394L1604.8 3393.7L1635 3393.4L1665.1 3393.1L1695.2 3392.8L1725.4 3392.5L1752.5 3392.3M248.8 3735.2L250.3 3726.4L251.8 3717.9L253.3 3709.9L254.8 3702.2L256.3 3694.9L257.8 3688L259.3 3681.4L260.9 3675.1L262.4 3669.1L263.9 3663.4L265.4 3657.9L266.9 3652.7L268.4 3647.7L269.9 3643L271.4 3638.5L272.9 3634.1L274.4 3630L275.9 3626.1L277.4 3622.3L278.9 3618.7L280.4 3615.3L281.9 3612L283.5 3608.9L285 3605.9L286.5 3603L288 3600.3L289.5 3597.6L291 3595.1L292.5 3592.7L294 3590.4L295.5 3588.2L297 3586.1L298.5 3584.1L300 3582.1L301.5 3580.3L303 3578.5L304.5 3576.8L306.1 3575.1L307.6 3573.5L309.1 3572L310.6 3570.6L312.1 3569.2L313.6 3567.8L315.1 3566.6L316.6 3565.3L318.1 3564.1L319.6 3563L321.1 3561.9L327.1 3557.9L333.2 3554.5L339.2 3551.5L345.2 3548.9L351.3 3546.6L357.3 3544.7L363.3 3542.9L369.3 3541.3L375.4 3539.9L381.4 3538.7L387.4 3537.5L393.4 3536.5L399.5 3535.5L405.5 3534.6L411.5 3533.8L417.6 3533L423.6 3532.3L429.6 3531.6L435.6 3530.9L441.7 3530.3L447.7 3529.7L453.7 3529.1L459.7 3528.5L465.8 3527.9L471.8 3527.4L477.8 3526.8L483.8 3526.3L489.9 3525.8L495.9 3525.3L501.9 3524.8L508 3524.3L514 3523.8L520 3523.3L526 3522.9L532.1 3522.4L538.1 3521.9L544.1 3521.5L550.1 3521L556.2 3520.5L562.2 3520.1L568.2 3519.7L574.2 3519.2L580.3 3518.8L586.3 3518.3L592.3 3517.9L598.4 3517.5L604.4 3517L610.4 3516.6L640.5 3514.6L670.7 3512.6L700.8 3510.6L730.9 3508.8L761.1 3506.9L791.2 3505.2L821.3 3503.5L851.5 3501.9L881.6 3500.3L911.7 3498.8L941.9 3497.3L972 3495.8L1002.2 3494.5L1032.3 3493.1L1062.4 3491.8L1092.6 3490.6L1122.7 3489.4L1152.8 3488.2L1183 3487.1L1213.1 3486L1243.2 3484.9L1273.4 3483.9L1303.5 3482.9L1333.6 3481.9L1363.8 3481L1393.9 3480.1L1424 3479.2L1454.2 3478.4L1484.3 3477.6L1514.4 3476.8L1544.6 3476L1574.7 3475.3L1604.8 3474.6L1635 3473.9L1665.1 3473.2L1695.2 3472.6L1725.4 3472L1752.5 3471.4M248.8 3860.4L250.3 3851.3L251.8 3842.5L253.3 3834L254.8 3825.9L256.3 3818.1L257.8 3810.5L259.3 3803.3L260.9 3796.3L262.4 3789.6L263.9 3783.2L265.4 3777L266.9 3771L268.4 3765.2L269.9 3759.7L271.4 3754.4L272.9 3749.3L274.4 3744.3L275.9 3739.6L277.4 3735L278.9 3730.6L280.4 3726.3L281.9 3722.3L283.5 3718.3L285 3714.5L286.5 3710.9L288 3707.4L289.5 3704L291 3700.7L292.5 3697.6L294 3694.5L295.5 3691.6L297 3688.8L298.5 3686.1L300 3683.5L301.5 3680.9L303 3678.5L304.5 3676.2L306.1 3673.9L307.6 3671.7L309.1 3669.6L310.6 3667.6L312.1 3665.6L313.6 3663.7L315.1 3661.9L316.6 3660.1L318.1 3658.4L319.6 3656.8L321.1 3655.2L327.1 3649.4L333.2 3644.3L339.2 3639.9L345.2 3636L351.3 3632.6L357.3 3629.6L363.3 3626.9L369.3 3624.6L375.4 3622.5L381.4 3620.6L387.4 3618.9L393.4 3617.4L399.5 3616.1L405.5 3614.8L411.5 3613.7L417.6 3612.7L423.6 3611.7L429.6 3610.8L435.6 3610L441.7 3609.3L447.7 3608.5L453.7 3607.9L459.7 3607.3L465.8 3606.7L471.8 3606.1L477.8 3605.5L483.8 3605L489.9 3604.5L495.9 3604.1L501.9 3603.6L508 3603.2L514 3602.7L520 3602.3L526 3601.9L532.1 3601.5L538.1 3601.1L544.1 3600.7L550.1 3600.4L556.2 3600L562.2 3599.7L568.2 3599.3L574.2 3599L580.3 3598.6L586.3 3598.3L592.3 3598L598.4 3597.7L604.4 3597.3L610.4 3597L640.5 3595.5L670.7 3594.1L700.8 3592.7L730.9 3591.5L761.1 3590.2L791.2 3589.1L821.3 3587.9L851.5 3586.9L881.6 3585.8L911.7 3584.8L941.9 3583.9L972 3583L1002.2 3582.1L1032.3 3581.3L1062.4 3580.5L1092.6 3579.7L1122.7 3579L1152.8 3578.3L1183 3577.6L1213.1 3576.9L1243.2 3576.3L1273.4 3575.7L1303.5 3575.1L1333.6 3574.5L1363.8 3574L1393.9 3573.5L1424 3573L1454.2 3572.5L1484.3 3572L1514.4 3571.6L1544.6 3571.2L1574.7 3570.8L1604.8 3570.4L1635 3570L1665.1 3569.6L1695.2 3569.3L1725.4 3568.9L1752.5 3568.6M248.8 3986.9L250.3 3978.5L251.8 3970.4L253.3 3962.7L254.8 3955.3L256.3 3948.1L257.8 3941.2L259.3 3934.5L260.9 3928L262.4 3921.6L263.9 3915.5L265.4 3909.5L266.9 3903.6L268.4 3897.9L269.9 3892.4L271.4 3887L272.9 3881.7L274.4 3876.6L275.9 3871.6L277.4 3866.7L278.9 3861.9L280.4 3857.2L281.9 3852.7L283.5 3848.2L285 3843.9L286.5 3839.7L288 3835.5L289.5 3831.5L291 3827.6L292.5 3823.7L294 3820L295.5 3816.3L297 3812.7L298.5 3809.2L300 3805.8L301.5 3802.5L303 3799.3L304.5 3796.1L306.1 3793L307.6 3790L309.1 3787L310.6 3784.1L312.1 3781.3L313.6 3778.6L315.1 3775.9L316.6 3773.2L318.1 3770.7L319.6 3768.2L321.1 3765.7L327.1 3756.5L333.2 3748.1L339.2 3740.5L345.2 3733.5L351.3 3727.2L357.3 3721.4L363.3 3716.2L369.3 3711.4L375.4 3707L381.4 3703L387.4 3699.3L393.4 3695.9L399.5 3692.9L405.5 3690L411.5 3687.5L417.6 3685.1L423.6 3682.9L429.6 3680.9L435.6 3679.1L441.7 3677.4L447.7 3675.8L453.7 3674.4L459.7 3673L465.8 3671.8L471.8 3670.6L477.8 3669.6L483.8 3668.6L489.9 3667.7L495.9 3666.8L501.9 3666L508 3665.2L514 3664.5L520 3663.8L526 3663.2L532.1 3662.6L538.1 3662.1L544.1 3661.5L550.1 3661L556.2 3660.6L562.2 3660.1L568.2 3659.7L574.2 3659.2L580.3 3658.8L586.3 3658.5L592.3 3658.1L598.4 3657.7L604.4 3657.4L610.4 3657.1L640.5 3655.6L670.7 3654.3L700.8 3653.1L730.9 3652L761.1 3650.9L791.2 3650L821.3 3649.1L851.5 3648.2L881.6 3647.3L911.7 3646.5L941.9 3645.7L972 3645L1002.2 3644.2L1032.3 3643.5L1062.4 3642.9L1092.6 3642.2L1122.7 3641.6L1152.8 3641L1183 3640.4L1213.1 3639.8L1243.2 3639.2L1273.4 3638.7L1303.5 3638.2L1333.6 3637.7L1363.8 3637.2L1393.9 3636.7L1424 3636.3L1454.2 3635.8L1484.3 3635.4L1514.4 3635L1544.6 3634.6L1574.7 3634.2L1604.8 3633.8L1635 3633.5L1665.1 3633.1L1695.2 3632.8L1725.4 3632.5L1752.5 3632.2"/>
</g>
<g stroke="#000" fill="none" shape-rendering="crispEdges">
<path stroke="#808080" stroke-width="2.8" d="M247.6 3082V4258.5"/>
<path stroke-width="2.6" d="M250.3 3082V4258.5"/>
</g>
<text transform="translate(122 4252.1) scale(1.045 1)" font-size="60">0.0</text>
<text transform="translate(121.6 4059.7) scale(1.045 1)" font-size="60">0.3</text>
<text transform="translate(121.6 3867.3) scale(1.045 1)" font-size="60">0.6</text>
<text transform="translate(121.6 3674.8) scale(1.045 1)" font-size="60">0.9</text>
<text transform="translate(122 3482.4) scale(1.045 1)" font-size="60">1.2</text>
<text transform="translate(121.2 3290) scale(1.045 1)" font-size="60">1.5</text>
<text transform="translate(121.3 3097.6) scale(1.045 1)" font-size="60">1.8</text>
<text transform="translate(232.1 4320.8) scale(1.045 1)" font-size="60">0</text>
<text transform="translate(515.1 4320.8) scale(1.045 1)" font-size="60">50</text>
<text transform="translate(798 4320.8) scale(1.045 1)" font-size="60">100</text>
<text transform="translate(1099.3 4320.8) scale(1.045 1)" font-size="60">150</text>
<text transform="translate(1401.5 4320.8) scale(1.045 1)" font-size="60">200</text>
<text transform="translate(1702.9 4320.8) scale(1.045 1)" font-size="60">250</text>
<text transform="translate(857 4433.7) scale(1.040 1)" font-size="73">Time (s)</text>
<text transform="translate(92.8 3660.2) rotate(-90)" font-size="73" text-anchor="middle">Voltage (V)</text>
<text transform="translate(1455.5 3158.4) scale(1.030 1)" font-size="60.5">260 K</text>
<text transform="translate(1465.5 3798.7) scale(1.037 1)" font-size="60.5">310 K</text>
<path stroke="#000" stroke-width="5.8" d="M1658.5 3153.7V3792.8"/>
<path fill="#000" d="M1660 3812.8h-3l-7.5 -32.5h21l-7.5 32.5z"/>
<text transform="translate(1647.2 4177.5) scale(1.058 1)" font-size="71">(c)</text>
<g id="ibias-c">
<text transform="translate(842.8 4193.1) scale(0.870 1)" font-size="60.5">I</text>
<text transform="translate(860.4 4213.9) scale(1.030 1)" font-size="36">bias</text>
<text transform="translate(952.4 4193.1) scale(1.025 1)" font-size="60.5">=</text>
<text transform="translate(1007 4193.1) scale(1.020 1)" font-size="60.5">40</text>
<text transform="translate(1092.4 4193.1) scale(1.185 1)" font-size="62" style="font-family:'Liberation Serif',serif;font-weight:normal">μ</text>
<text transform="translate(1132.8 4193.1) scale(0.933 1)" font-size="60.5">A</text>
</g>
<g id="legend">
<rect x="358" y="3916" width="27.4" height="25" fill="#000"/>
<text transform="translate(458.9 3947.8) scale(1.020 1)" font-size="60.5">260 K</text>
<circle cx="698" cy="3928.5" r="14.5" fill="#ffff00"/>
<text transform="translate(784.9 3947.8) scale(1.036 1)" font-size="60.5">270 K</text>
<path fill="#00ff00" d="M1024.4 3911l17.2 30h-34.4z"/>
<text transform="translate(1112.9 3947.8) scale(1.023 1)" font-size="60.5">280 K</text>
<path fill="#0000ff" d="M1350.7 3948l-18 -29h36z"/>
<text transform="translate(1439.9 3947.8) scale(1.021 1)" font-size="60.5">290 K</text>
<path fill="#00ffff" d="M371.7 3986.5l19.3 18.2l-19.3 18.2l-19.3 -18.2z"/>
<text transform="translate(460.6 4024) scale(1.010 1)" font-size="60.5">300 K</text>
<path fill="#c0c0c0" d="M677 4005l32.2 -15v30z"/>
<text transform="translate(786.7 4024) scale(1.025 1)" font-size="60.5">310 K</text>
<path stroke="#ff0000" stroke-width="7" d="M985.6 4004.5H1133"/>
<text transform="translate(1147.9 4024) scale(1.040 1)" font-size="60.5">Best fitting curves</text>
</g>
</g>
</svg></body></html>
